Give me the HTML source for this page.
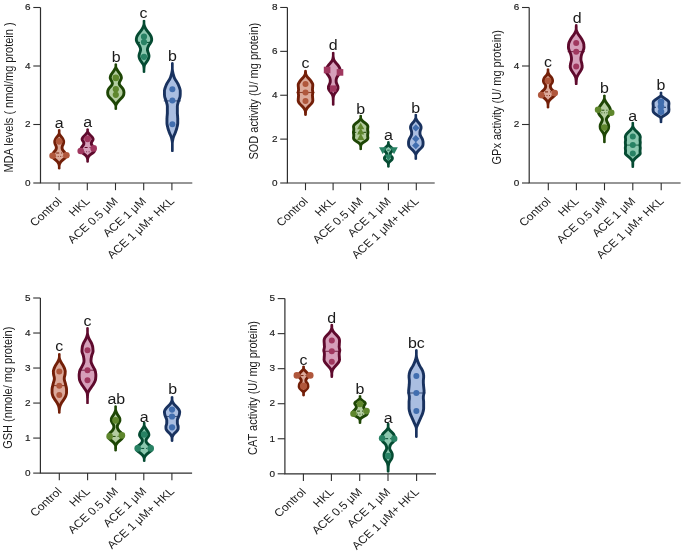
<!DOCTYPE html><html><head><meta charset="utf-8"><style>html,body{margin:0;padding:0;background:#fff;}svg{display:block;will-change:transform;}</style></head><body>
<svg width="685" height="552" viewBox="0 0 685 552" font-family='"Liberation Sans", sans-serif'>
<rect width="685" height="552" fill="#fff"/>
<g><path d="M59.2,129.0 60.4,129.5 60.5,130.0 60.5,130.5 60.5,131.0 60.5,131.5 60.5,132.0 60.5,132.5 60.5,133.0 60.7,133.5 61.0,134.0 61.3,134.5 61.7,135.0 62.1,135.5 62.5,136.0 62.9,136.5 63.3,137.0 63.6,137.4 63.9,137.9 64.2,138.4 64.4,138.9 64.6,139.4 64.8,139.9 65.0,140.4 65.1,140.9 65.1,141.4 65.1,141.9 65.1,142.4 65.0,142.9 64.9,143.4 64.8,143.9 64.6,144.4 64.4,144.9 64.2,145.4 63.9,145.9 63.7,146.4 63.6,146.9 63.5,147.4 63.5,147.9 63.6,148.4 63.8,148.9 64.1,149.4 64.5,149.9 65.0,150.4 65.4,150.9 65.8,151.4 66.1,151.9 66.4,152.4 66.7,152.9 66.9,153.3 67.1,153.8 67.2,154.3 67.3,154.8 67.4,155.3 67.4,155.8 67.4,156.3 67.4,156.8 67.2,157.3 67.0,157.8 66.7,158.3 66.4,158.8 65.9,159.3 65.3,159.8 64.7,160.3 64.1,160.8 63.5,161.3 62.9,161.8 62.4,162.3 61.9,162.8 61.6,163.3 61.3,163.8 61.0,164.3 60.8,164.8 60.7,165.3 60.6,165.8 60.5,166.3 60.5,166.8 60.5,167.3 60.5,167.8 60.5,168.3 60.5,168.8 60.1,169.3 59.2,169.5 59.2,169.5 58.3,169.3 57.9,168.8 57.9,168.3 57.9,167.8 57.9,167.3 57.9,166.8 57.9,166.3 57.8,165.8 57.7,165.3 57.6,164.8 57.4,164.3 57.1,163.8 56.8,163.3 56.5,162.8 56.0,162.3 55.5,161.8 54.9,161.3 54.3,160.8 53.7,160.3 53.1,159.8 52.5,159.3 52.0,158.8 51.7,158.3 51.4,157.8 51.2,157.3 51.0,156.8 51.0,156.3 51.0,155.8 51.0,155.3 51.1,154.8 51.2,154.3 51.3,153.8 51.5,153.3 51.7,152.9 52.0,152.4 52.3,151.9 52.6,151.4 53.0,150.9 53.4,150.4 53.9,149.9 54.3,149.4 54.6,148.9 54.8,148.4 54.9,147.9 54.9,147.4 54.8,146.9 54.7,146.4 54.5,145.9 54.2,145.4 54.0,144.9 53.8,144.4 53.6,143.9 53.5,143.4 53.4,142.9 53.3,142.4 53.3,141.9 53.3,141.4 53.3,140.9 53.4,140.4 53.6,139.9 53.8,139.4 54.0,138.9 54.2,138.4 54.5,137.9 54.8,137.4 55.1,137.0 55.5,136.5 55.9,136.0 56.3,135.5 56.7,135.0 57.1,134.5 57.4,134.0 57.7,133.5 57.9,133.0 57.9,132.5 57.9,132.0 57.9,131.5 57.9,131.0 57.9,130.5 57.9,130.0 58.0,129.5 59.2,129.0Z" fill="#731f08"/><path d="M59.2,129.0 59.2,129.5 59.2,130.0 59.2,130.5 59.2,131.0 59.2,131.5 59.2,132.0 59.2,132.5 59.2,133.0 59.2,133.5 59.2,134.0 59.2,134.5 59.2,135.0 59.2,135.5 59.2,136.0 59.2,136.5 59.6,137.0 60.0,137.4 60.4,137.9 60.8,138.4 61.1,138.9 61.4,139.4 61.7,139.9 61.9,140.4 62.1,140.9 62.2,141.4 62.2,141.9 62.2,142.4 62.0,142.9 61.9,143.4 61.7,143.9 61.4,144.4 61.2,144.9 61.0,145.4 60.9,145.9 60.7,146.4 60.7,146.9 60.6,147.4 60.6,147.9 60.7,148.4 60.7,148.9 60.9,149.4 61.1,149.9 61.3,150.4 61.6,150.9 62.0,151.4 62.4,151.9 62.8,152.4 63.2,152.9 63.6,153.3 63.9,153.8 64.2,154.3 64.3,154.8 64.4,155.3 64.5,155.8 64.5,156.3 64.3,156.8 63.8,157.3 63.2,157.8 62.5,158.3 61.9,158.8 61.3,159.3 60.8,159.8 60.3,160.3 59.8,160.8 59.4,161.3 59.2,161.8 59.2,162.3 59.2,162.8 59.2,163.3 59.2,163.8 59.2,164.3 59.2,164.8 59.2,165.3 59.2,165.8 59.2,166.3 59.2,166.8 59.2,167.3 59.2,167.8 59.2,168.3 59.2,168.8 59.2,169.3 59.2,169.5 59.2,169.5 59.2,169.3 59.2,168.8 59.2,168.3 59.2,167.8 59.2,167.3 59.2,166.8 59.2,166.3 59.2,165.8 59.2,165.3 59.2,164.8 59.2,164.3 59.2,163.8 59.2,163.3 59.2,162.8 59.2,162.3 59.2,161.8 59.0,161.3 58.6,160.8 58.1,160.3 57.6,159.8 57.1,159.3 56.5,158.8 55.9,158.3 55.2,157.8 54.6,157.3 54.1,156.8 53.9,156.3 53.9,155.8 54.0,155.3 54.1,154.8 54.2,154.3 54.5,153.8 54.8,153.3 55.2,152.9 55.6,152.4 56.0,151.9 56.4,151.4 56.8,150.9 57.1,150.4 57.3,149.9 57.5,149.4 57.7,148.9 57.7,148.4 57.8,147.9 57.8,147.4 57.7,146.9 57.7,146.4 57.5,145.9 57.4,145.4 57.2,144.9 57.0,144.4 56.7,143.9 56.5,143.4 56.4,142.9 56.2,142.4 56.2,141.9 56.2,141.4 56.3,140.9 56.5,140.4 56.7,139.9 57.0,139.4 57.3,138.9 57.6,138.4 58.0,137.9 58.4,137.4 58.8,137.0 59.2,136.5 59.2,136.0 59.2,135.5 59.2,135.0 59.2,134.5 59.2,134.0 59.2,133.5 59.2,133.0 59.2,132.5 59.2,132.0 59.2,131.5 59.2,131.0 59.2,130.5 59.2,130.0 59.2,129.5 59.2,129.0Z" fill="#dcaa9b"/><line x1="56.20" x2="62.20" y1="153" y2="153" stroke="#731f08" stroke-width="1" stroke-dasharray="3,2"/><line x1="55.20" x2="63.20" y1="156.4" y2="156.4" stroke="#731f08" stroke-width="0.8" stroke-dasharray="1,1.5"/><circle cx="59.20" cy="141.30" r="3.4" fill="#b0573c"/><circle cx="52.60" cy="155.80" r="3.3" fill="#b0573c"/><circle cx="66.40" cy="155.30" r="3.3" fill="#b0573c"/><text transform="translate(59.20,127.7) scale(1.1,1)" font-size="14.5" text-anchor="middle" fill="#1a1a1a">a</text><path d="M87.6,128.3 88.8,128.8 88.9,129.3 88.9,129.8 88.9,130.3 88.9,130.8 89.0,131.3 89.2,131.8 89.6,132.3 90.0,132.8 90.4,133.3 90.8,133.8 91.3,134.3 91.8,134.8 92.3,135.2 92.8,135.7 93.3,136.2 93.6,136.7 93.9,137.2 94.2,137.7 94.4,138.2 94.5,138.7 94.5,139.2 94.5,139.7 94.3,140.2 94.2,140.7 93.9,141.2 93.5,141.7 93.2,142.2 92.9,142.7 92.8,143.2 92.9,143.7 93.1,144.2 93.5,144.7 93.9,145.2 94.2,145.7 94.6,146.2 94.9,146.7 95.2,147.2 95.4,147.7 95.6,148.2 95.8,148.7 95.9,149.1 96.0,149.6 96.0,150.1 96.0,150.6 95.9,151.1 95.8,151.6 95.6,152.1 95.3,152.6 94.9,153.1 94.4,153.6 93.8,154.1 93.1,154.6 92.3,155.1 91.6,155.6 91.0,156.1 90.4,156.6 90.0,157.1 89.6,157.6 89.4,158.1 89.2,158.6 89.1,159.1 89.0,159.6 89.0,160.1 88.9,160.6 88.9,161.1 88.9,161.6 88.9,162.1 88.5,162.6 87.6,162.8 87.6,162.8 86.7,162.6 86.3,162.1 86.3,161.6 86.3,161.1 86.3,160.6 86.2,160.1 86.2,159.6 86.1,159.1 86.0,158.6 85.8,158.1 85.6,157.6 85.2,157.1 84.8,156.6 84.2,156.1 83.6,155.6 82.9,155.1 82.1,154.6 81.4,154.1 80.8,153.6 80.3,153.1 79.9,152.6 79.6,152.1 79.4,151.6 79.3,151.1 79.2,150.6 79.2,150.1 79.2,149.6 79.3,149.1 79.4,148.7 79.6,148.2 79.8,147.7 80.0,147.2 80.3,146.7 80.6,146.2 81.0,145.7 81.3,145.2 81.7,144.7 82.1,144.2 82.3,143.7 82.4,143.2 82.3,142.7 82.0,142.2 81.7,141.7 81.3,141.2 81.0,140.7 80.9,140.2 80.7,139.7 80.7,139.2 80.7,138.7 80.8,138.2 81.0,137.7 81.3,137.2 81.6,136.7 81.9,136.2 82.4,135.7 82.9,135.2 83.4,134.8 83.9,134.3 84.4,133.8 84.8,133.3 85.2,132.8 85.6,132.3 86.0,131.8 86.2,131.3 86.3,130.8 86.3,130.3 86.3,129.8 86.3,129.3 86.4,128.8 87.6,128.3Z" fill="#5f0a2d"/><path d="M87.6,128.3 87.6,128.8 87.6,129.3 87.6,129.8 87.6,130.3 87.6,130.8 87.6,131.3 87.6,131.8 87.6,132.3 87.6,132.8 87.6,133.3 87.6,133.8 87.6,134.3 87.8,134.8 88.3,135.2 88.7,135.7 89.2,136.2 89.7,136.7 90.2,137.2 90.7,137.7 91.1,138.2 91.5,138.7 91.6,139.2 91.4,139.7 91.0,140.2 90.7,140.7 90.4,141.2 90.2,141.7 90.0,142.2 89.9,142.7 89.9,143.2 89.9,143.7 90.0,144.2 90.1,144.7 90.3,145.2 90.6,145.7 91.0,146.2 91.3,146.7 91.7,147.2 92.1,147.7 92.4,148.2 92.7,148.7 92.9,149.1 93.0,149.6 93.1,150.1 93.1,150.6 92.8,151.1 92.2,151.6 91.6,152.1 90.8,152.6 90.1,153.1 89.5,153.6 88.9,154.1 88.3,154.6 87.9,155.1 87.6,155.6 87.6,156.1 87.6,156.6 87.6,157.1 87.6,157.6 87.6,158.1 87.6,158.6 87.6,159.1 87.6,159.6 87.6,160.1 87.6,160.6 87.6,161.1 87.6,161.6 87.6,162.1 87.6,162.6 87.6,162.8 87.6,162.8 87.6,162.6 87.6,162.1 87.6,161.6 87.6,161.1 87.6,160.6 87.6,160.1 87.6,159.6 87.6,159.1 87.6,158.6 87.6,158.1 87.6,157.6 87.6,157.1 87.6,156.6 87.6,156.1 87.6,155.6 87.3,155.1 86.9,154.6 86.3,154.1 85.7,153.6 85.1,153.1 84.4,152.6 83.6,152.1 83.0,151.6 82.4,151.1 82.1,150.6 82.1,150.1 82.2,149.6 82.3,149.1 82.5,148.7 82.8,148.2 83.1,147.7 83.5,147.2 83.9,146.7 84.2,146.2 84.6,145.7 84.9,145.2 85.1,144.7 85.2,144.2 85.3,143.7 85.3,143.2 85.3,142.7 85.2,142.2 85.0,141.7 84.8,141.2 84.5,140.7 84.2,140.2 83.8,139.7 83.6,139.2 83.7,138.7 84.1,138.2 84.5,137.7 85.0,137.2 85.5,136.7 86.0,136.2 86.5,135.7 86.9,135.2 87.4,134.8 87.6,134.3 87.6,133.8 87.6,133.3 87.6,132.8 87.6,132.3 87.6,131.8 87.6,131.3 87.6,130.8 87.6,130.3 87.6,129.8 87.6,129.3 87.6,128.8 87.6,128.3Z" fill="#d69fba"/><line x1="84.60" x2="90.60" y1="147.5" y2="147.5" stroke="#5f0a2d" stroke-width="1" stroke-dasharray="3,2"/><line x1="83.60" x2="91.60" y1="151.8" y2="151.8" stroke="#5f0a2d" stroke-width="0.8" stroke-dasharray="1,1.5"/><circle cx="87.60" cy="138.80" r="3.4" fill="#a0375f"/><circle cx="80.70" cy="151.00" r="3.3" fill="#a0375f"/><circle cx="93.70" cy="148.40" r="3.3" fill="#a0375f"/><text transform="translate(87.60,127.0) scale(1.1,1)" font-size="14.5" text-anchor="middle" fill="#1a1a1a">a</text><path d="M115.8,63.3 117.0,63.8 117.1,64.3 117.1,64.8 117.1,65.3 117.1,65.8 117.1,66.3 117.2,66.8 117.3,67.3 117.6,67.8 117.9,68.3 118.2,68.8 118.5,69.3 118.8,69.8 119.1,70.3 119.5,70.8 119.8,71.3 120.2,71.8 120.5,72.3 120.9,72.8 121.2,73.3 121.6,73.8 121.9,74.3 122.1,74.8 122.3,75.3 122.5,75.8 122.6,76.3 122.7,76.8 122.8,77.3 122.8,77.8 122.8,78.3 122.7,78.8 122.5,79.2 122.3,79.7 122.1,80.2 121.8,80.7 121.6,81.2 121.3,81.7 121.0,82.2 120.8,82.7 120.7,83.2 120.8,83.7 121.0,84.2 121.3,84.7 121.8,85.2 122.2,85.7 122.7,86.2 123.1,86.7 123.5,87.2 123.9,87.7 124.2,88.2 124.5,88.7 124.7,89.2 124.9,89.7 125.1,90.2 125.2,90.7 125.3,91.2 125.3,91.7 125.4,92.2 125.4,92.7 125.3,93.2 125.3,93.7 125.2,94.2 125.2,94.7 125.0,95.2 124.9,95.7 124.6,96.2 124.4,96.7 124.0,97.2 123.7,97.7 123.3,98.2 122.8,98.7 122.3,99.2 121.8,99.7 121.3,100.2 120.8,100.7 120.4,101.2 119.9,101.7 119.5,102.2 119.1,102.7 118.7,103.2 118.3,103.7 118.0,104.2 117.7,104.7 117.4,105.2 117.2,105.7 117.1,106.2 117.1,106.7 117.1,107.2 117.1,107.7 117.1,108.2 117.1,108.7 117.1,109.2 116.7,109.7 115.8,109.9 115.8,109.9 114.9,109.7 114.5,109.2 114.5,108.7 114.5,108.2 114.5,107.7 114.5,107.2 114.5,106.7 114.5,106.2 114.4,105.7 114.2,105.2 113.9,104.7 113.6,104.2 113.3,103.7 112.9,103.2 112.5,102.7 112.1,102.2 111.7,101.7 111.2,101.2 110.8,100.7 110.3,100.2 109.8,99.7 109.3,99.2 108.8,98.7 108.3,98.2 107.9,97.7 107.6,97.2 107.2,96.7 107.0,96.2 106.7,95.7 106.6,95.2 106.4,94.7 106.4,94.2 106.3,93.7 106.3,93.2 106.2,92.7 106.2,92.2 106.3,91.7 106.3,91.2 106.4,90.7 106.5,90.2 106.7,89.7 106.9,89.2 107.1,88.7 107.4,88.2 107.7,87.7 108.1,87.2 108.5,86.7 108.9,86.2 109.4,85.7 109.8,85.2 110.3,84.7 110.6,84.2 110.8,83.7 110.9,83.2 110.8,82.7 110.6,82.2 110.3,81.7 110.0,81.2 109.8,80.7 109.5,80.2 109.3,79.7 109.1,79.2 108.9,78.8 108.8,78.3 108.8,77.8 108.8,77.3 108.9,76.8 109.0,76.3 109.1,75.8 109.3,75.3 109.5,74.8 109.7,74.3 110.0,73.8 110.4,73.3 110.7,72.8 111.1,72.3 111.4,71.8 111.8,71.3 112.1,70.8 112.5,70.3 112.8,69.8 113.1,69.3 113.4,68.8 113.7,68.3 114.0,67.8 114.3,67.3 114.4,66.8 114.5,66.3 114.5,65.8 114.5,65.3 114.5,64.8 114.5,64.3 114.6,63.8 115.8,63.3Z" fill="#1e4605"/><path d="M115.8,63.3 115.8,63.8 115.8,64.3 115.8,64.8 115.8,65.3 115.8,65.8 115.8,66.3 115.8,66.8 115.8,67.3 115.8,67.8 115.8,68.3 115.8,68.8 115.8,69.3 115.8,69.8 115.8,70.3 116.0,70.8 116.3,71.3 116.7,71.8 117.0,72.3 117.3,72.8 117.7,73.3 118.1,73.8 118.4,74.3 118.8,74.8 119.1,75.3 119.4,75.8 119.6,76.3 119.7,76.8 119.9,77.3 119.9,77.8 119.8,78.3 119.6,78.8 119.4,79.2 119.1,79.7 118.8,80.2 118.5,80.7 118.3,81.2 118.1,81.7 118.0,82.2 117.9,82.7 117.8,83.2 117.8,83.7 117.9,84.2 118.1,84.7 118.2,85.2 118.5,85.7 118.8,86.2 119.2,86.7 119.7,87.2 120.1,87.7 120.6,88.2 121.0,88.7 121.4,89.2 121.7,89.7 122.0,90.2 122.2,90.7 122.3,91.2 122.4,91.7 122.5,92.2 122.5,92.7 122.4,93.2 122.4,93.7 122.3,94.2 122.1,94.7 121.9,95.2 121.5,95.7 121.2,96.2 120.7,96.7 120.2,97.2 119.7,97.7 119.2,98.2 118.7,98.7 118.3,99.2 117.8,99.7 117.4,100.2 116.9,100.7 116.5,101.2 116.2,101.7 115.8,102.2 115.8,102.7 115.8,103.2 115.8,103.7 115.8,104.2 115.8,104.7 115.8,105.2 115.8,105.7 115.8,106.2 115.8,106.7 115.8,107.2 115.8,107.7 115.8,108.2 115.8,108.7 115.8,109.2 115.8,109.7 115.8,109.9 115.8,109.9 115.8,109.7 115.8,109.2 115.8,108.7 115.8,108.2 115.8,107.7 115.8,107.2 115.8,106.7 115.8,106.2 115.8,105.7 115.8,105.2 115.8,104.7 115.8,104.2 115.8,103.7 115.8,103.2 115.8,102.7 115.8,102.2 115.4,101.7 115.1,101.2 114.7,100.7 114.2,100.2 113.8,99.7 113.3,99.2 112.9,98.7 112.4,98.2 111.9,97.7 111.4,97.2 110.9,96.7 110.4,96.2 110.1,95.7 109.7,95.2 109.5,94.7 109.3,94.2 109.2,93.7 109.2,93.2 109.1,92.7 109.1,92.2 109.2,91.7 109.3,91.2 109.4,90.7 109.6,90.2 109.9,89.7 110.2,89.2 110.6,88.7 111.0,88.2 111.5,87.7 111.9,87.2 112.4,86.7 112.8,86.2 113.1,85.7 113.4,85.2 113.5,84.7 113.7,84.2 113.8,83.7 113.8,83.2 113.7,82.7 113.6,82.2 113.5,81.7 113.3,81.2 113.1,80.7 112.8,80.2 112.5,79.7 112.2,79.2 112.0,78.8 111.8,78.3 111.7,77.8 111.7,77.3 111.9,76.8 112.0,76.3 112.2,75.8 112.5,75.3 112.8,74.8 113.2,74.3 113.5,73.8 113.9,73.3 114.3,72.8 114.6,72.3 114.9,71.8 115.3,71.3 115.6,70.8 115.8,70.3 115.8,69.8 115.8,69.3 115.8,68.8 115.8,68.3 115.8,67.8 115.8,67.3 115.8,66.8 115.8,66.3 115.8,65.8 115.8,65.3 115.8,64.8 115.8,64.3 115.8,63.8 115.8,63.3Z" fill="#b4cda0"/><circle cx="115.80" cy="77.90" r="3.3" fill="#5f872d"/><circle cx="115.80" cy="89.20" r="3.1" fill="#5f872d"/><circle cx="115.80" cy="94.80" r="3.1" fill="#5f872d"/><text transform="translate(116.30,61.8) scale(1.1,1)" font-size="14.5" text-anchor="middle" fill="#1a1a1a">b</text><path d="M144.0,19.8 145.2,20.3 145.3,20.8 145.3,21.3 145.3,21.8 145.3,22.3 145.3,22.8 145.3,23.3 145.4,23.8 145.4,24.3 145.6,24.8 145.7,25.3 145.9,25.8 146.1,26.3 146.3,26.8 146.6,27.3 146.8,27.8 147.1,28.3 147.4,28.8 147.8,29.3 148.1,29.8 148.5,30.3 148.9,30.8 149.3,31.3 149.7,31.8 150.1,32.3 150.5,32.8 150.9,33.3 151.2,33.8 151.5,34.3 151.8,34.8 152.1,35.3 152.3,35.8 152.5,36.3 152.7,36.8 152.8,37.3 152.9,37.8 153.0,38.3 153.1,38.8 153.1,39.3 153.1,39.8 153.1,40.3 153.0,40.8 152.9,41.3 152.7,41.8 152.5,42.3 152.3,42.8 152.0,43.3 151.7,43.8 151.4,44.3 151.0,44.8 150.7,45.3 150.3,45.8 150.0,46.3 149.8,46.8 149.5,47.3 149.3,47.8 149.1,48.3 149.0,48.8 148.9,49.3 148.9,49.8 149.0,50.3 149.1,50.8 149.2,51.3 149.4,51.8 149.6,52.3 149.8,52.8 149.9,53.3 150.1,53.8 150.2,54.3 150.3,54.8 150.4,55.3 150.4,55.8 150.4,56.3 150.4,56.8 150.3,57.3 150.2,57.8 150.1,58.3 149.9,58.8 149.8,59.3 149.5,59.8 149.3,60.3 149.0,60.8 148.7,61.3 148.4,61.8 148.1,62.3 147.7,62.8 147.4,63.3 147.0,63.8 146.7,64.3 146.3,64.8 146.0,65.3 145.8,65.8 145.7,66.3 145.6,66.8 145.5,67.3 145.5,67.8 145.4,68.3 145.4,68.8 145.4,69.3 145.3,69.8 145.3,70.3 145.3,70.8 145.3,71.3 145.3,71.8 145.3,72.3 144.9,72.8 144.0,73.0 144.0,73.0 143.1,72.8 142.7,72.3 142.7,71.8 142.7,71.3 142.7,70.8 142.7,70.3 142.7,69.8 142.6,69.3 142.6,68.8 142.6,68.3 142.5,67.8 142.5,67.3 142.4,66.8 142.3,66.3 142.2,65.8 142.0,65.3 141.7,64.8 141.3,64.3 141.0,63.8 140.6,63.3 140.3,62.8 139.9,62.3 139.6,61.8 139.3,61.3 139.0,60.8 138.7,60.3 138.5,59.8 138.2,59.3 138.1,58.8 137.9,58.3 137.8,57.8 137.7,57.3 137.6,56.8 137.6,56.3 137.6,55.8 137.6,55.3 137.7,54.8 137.8,54.3 137.9,53.8 138.1,53.3 138.2,52.8 138.4,52.3 138.6,51.8 138.8,51.3 138.9,50.8 139.0,50.3 139.1,49.8 139.1,49.3 139.0,48.8 138.9,48.3 138.7,47.8 138.5,47.3 138.2,46.8 138.0,46.3 137.7,45.8 137.3,45.3 137.0,44.8 136.6,44.3 136.3,43.8 136.0,43.3 135.7,42.8 135.5,42.3 135.3,41.8 135.1,41.3 135.0,40.8 134.9,40.3 134.9,39.8 134.9,39.3 134.9,38.8 135.0,38.3 135.1,37.8 135.2,37.3 135.3,36.8 135.5,36.3 135.7,35.8 135.9,35.3 136.2,34.8 136.5,34.3 136.8,33.8 137.1,33.3 137.5,32.8 137.9,32.3 138.3,31.8 138.7,31.3 139.1,30.8 139.5,30.3 139.9,29.8 140.2,29.3 140.6,28.8 140.9,28.3 141.2,27.8 141.4,27.3 141.7,26.8 141.9,26.3 142.1,25.8 142.3,25.3 142.4,24.8 142.6,24.3 142.6,23.8 142.7,23.3 142.7,22.8 142.7,22.3 142.7,21.8 142.7,21.3 142.7,20.8 142.8,20.3 144.0,19.8Z" fill="#054b32"/><path d="M144.0,19.8 144.0,20.3 144.0,20.8 144.0,21.3 144.0,21.8 144.0,22.3 144.0,22.8 144.0,23.3 144.0,23.8 144.0,24.3 144.0,24.8 144.0,25.3 144.0,25.8 144.0,26.3 144.0,26.8 144.0,27.3 144.0,27.8 144.0,28.3 144.1,28.8 144.3,29.3 144.6,29.8 144.9,30.3 145.3,30.8 145.6,31.3 146.0,31.8 146.4,32.3 146.8,32.8 147.2,33.3 147.6,33.8 148.0,34.3 148.4,34.8 148.7,35.3 149.1,35.8 149.3,36.3 149.6,36.8 149.8,37.3 150.0,37.8 150.1,38.3 150.2,38.8 150.2,39.3 150.2,39.8 150.2,40.3 150.0,40.8 149.8,41.3 149.5,41.8 149.2,42.3 148.9,42.8 148.5,43.3 148.2,43.8 147.8,44.3 147.5,44.8 147.3,45.3 147.0,45.8 146.8,46.3 146.6,46.8 146.4,47.3 146.3,47.8 146.1,48.3 146.1,48.8 146.0,49.3 146.0,49.8 146.0,50.3 146.1,50.8 146.2,51.3 146.4,51.8 146.5,52.3 146.7,52.8 146.9,53.3 147.1,53.8 147.2,54.3 147.3,54.8 147.4,55.3 147.5,55.8 147.5,56.3 147.5,56.8 147.4,57.3 147.2,57.8 147.0,58.3 146.8,58.8 146.6,59.3 146.2,59.8 145.9,60.3 145.6,60.8 145.2,61.3 144.9,61.8 144.5,62.3 144.2,62.8 144.0,63.3 144.0,63.8 144.0,64.3 144.0,64.8 144.0,65.3 144.0,65.8 144.0,66.3 144.0,66.8 144.0,67.3 144.0,67.8 144.0,68.3 144.0,68.8 144.0,69.3 144.0,69.8 144.0,70.3 144.0,70.8 144.0,71.3 144.0,71.8 144.0,72.3 144.0,72.8 144.0,73.0 144.0,73.0 144.0,72.8 144.0,72.3 144.0,71.8 144.0,71.3 144.0,70.8 144.0,70.3 144.0,69.8 144.0,69.3 144.0,68.8 144.0,68.3 144.0,67.8 144.0,67.3 144.0,66.8 144.0,66.3 144.0,65.8 144.0,65.3 144.0,64.8 144.0,64.3 144.0,63.8 144.0,63.3 143.8,62.8 143.5,62.3 143.1,61.8 142.8,61.3 142.4,60.8 142.1,60.3 141.8,59.8 141.4,59.3 141.2,58.8 141.0,58.3 140.8,57.8 140.6,57.3 140.5,56.8 140.5,56.3 140.5,55.8 140.6,55.3 140.7,54.8 140.8,54.3 140.9,53.8 141.1,53.3 141.3,52.8 141.5,52.3 141.6,51.8 141.8,51.3 141.9,50.8 142.0,50.3 142.0,49.8 142.0,49.3 141.9,48.8 141.9,48.3 141.7,47.8 141.6,47.3 141.4,46.8 141.2,46.3 141.0,45.8 140.7,45.3 140.5,44.8 140.2,44.3 139.8,43.8 139.5,43.3 139.1,42.8 138.8,42.3 138.5,41.8 138.2,41.3 138.0,40.8 137.8,40.3 137.8,39.8 137.8,39.3 137.8,38.8 137.9,38.3 138.0,37.8 138.2,37.3 138.4,36.8 138.7,36.3 138.9,35.8 139.3,35.3 139.6,34.8 140.0,34.3 140.4,33.8 140.8,33.3 141.2,32.8 141.6,32.3 142.0,31.8 142.4,31.3 142.7,30.8 143.1,30.3 143.4,29.8 143.7,29.3 143.9,28.8 144.0,28.3 144.0,27.8 144.0,27.3 144.0,26.8 144.0,26.3 144.0,25.8 144.0,25.3 144.0,24.8 144.0,24.3 144.0,23.8 144.0,23.3 144.0,22.8 144.0,22.3 144.0,21.8 144.0,21.3 144.0,20.8 144.0,20.3 144.0,19.8Z" fill="#8cc8af"/><line x1="137.00" x2="151.00" y1="42.4" y2="42.4" stroke="#054b32" stroke-width="1" stroke-dasharray="3,2"/><circle cx="144.00" cy="36.70" r="3.1" fill="#288264"/><circle cx="144.00" cy="42.10" r="3.1" fill="#288264"/><circle cx="144.00" cy="56.80" r="3.1" fill="#288264"/><text transform="translate(143.60,18.4) scale(1.1,1)" font-size="14.5" text-anchor="middle" fill="#1a1a1a">c</text><path d="M172.3,61.9 173.5,62.4 173.6,62.9 173.7,63.4 173.7,63.9 173.7,64.4 173.7,64.9 173.7,65.4 173.7,65.9 173.7,66.4 173.7,66.9 173.7,67.4 173.7,67.9 173.7,68.4 173.7,68.9 173.8,69.4 173.8,69.9 173.9,70.4 174.0,70.9 174.1,71.4 174.2,71.9 174.3,72.4 174.4,72.9 174.5,73.4 174.7,73.9 174.8,74.4 175.0,74.9 175.1,75.4 175.3,75.9 175.4,76.4 175.6,76.9 175.8,77.4 176.1,77.9 176.3,78.4 176.6,78.9 176.9,79.4 177.3,79.9 177.6,80.4 177.9,80.9 178.2,81.4 178.5,81.9 178.8,82.4 179.1,82.9 179.4,83.4 179.6,83.9 179.8,84.4 180.0,84.9 180.2,85.4 180.4,85.9 180.6,86.4 180.8,86.9 181.0,87.4 181.1,87.9 181.3,88.4 181.4,88.9 181.5,89.4 181.6,89.9 181.7,90.4 181.7,90.9 181.7,91.4 181.7,91.9 181.7,92.4 181.7,92.9 181.7,93.4 181.7,93.9 181.7,94.4 181.6,94.9 181.6,95.4 181.6,95.9 181.5,96.4 181.4,96.9 181.3,97.4 181.2,97.9 181.0,98.4 180.9,98.9 180.7,99.4 180.5,99.9 180.3,100.4 180.1,100.9 179.9,101.4 179.8,101.9 179.6,102.4 179.5,102.9 179.4,103.4 179.2,103.9 179.1,104.4 179.0,104.9 178.9,105.4 178.8,105.9 178.8,106.4 178.8,106.9 178.8,107.4 178.8,107.9 178.8,108.4 178.8,108.9 178.8,109.4 178.8,109.9 178.8,110.4 178.8,110.9 178.8,111.4 178.8,111.9 178.8,112.4 178.8,112.9 178.8,113.4 178.9,113.9 178.9,114.4 178.9,114.9 179.0,115.4 179.0,115.9 179.1,116.4 179.1,116.9 179.1,117.4 179.2,117.9 179.2,118.4 179.2,118.9 179.2,119.4 179.2,119.9 179.2,120.4 179.2,120.9 179.2,121.4 179.2,121.9 179.2,122.4 179.2,122.9 179.2,123.4 179.1,123.9 179.1,124.4 179.0,124.9 178.9,125.4 178.8,125.9 178.7,126.4 178.6,126.9 178.4,127.4 178.3,127.9 178.2,128.4 178.1,128.9 177.9,129.4 177.8,129.9 177.6,130.4 177.4,130.9 177.2,131.4 177.1,131.9 176.9,132.4 176.7,132.9 176.5,133.4 176.3,133.9 176.1,134.4 175.9,134.9 175.6,135.4 175.4,135.9 175.2,136.4 175.0,136.9 174.8,137.4 174.7,137.9 174.5,138.4 174.4,138.9 174.3,139.4 174.2,139.9 174.1,140.4 174.0,140.9 173.9,141.4 173.8,141.9 173.8,142.4 173.7,142.9 173.7,143.4 173.7,143.9 173.7,144.4 173.7,144.9 173.7,145.4 173.7,145.9 173.7,146.4 173.7,146.9 173.7,147.4 173.7,147.9 173.7,148.4 173.7,148.9 173.7,149.4 173.7,149.9 173.7,150.4 173.6,150.9 173.6,151.4 173.2,151.9 172.3,152.1 172.3,152.1 171.5,151.9 171.1,151.4 171.1,150.9 171.0,150.4 171.0,149.9 171.0,149.4 171.0,148.9 171.0,148.4 171.0,147.9 171.0,147.4 171.0,146.9 171.0,146.4 171.0,145.9 171.0,145.4 171.0,144.9 171.0,144.4 171.0,143.9 171.0,143.4 171.0,142.9 170.9,142.4 170.9,141.9 170.8,141.4 170.7,140.9 170.6,140.4 170.5,139.9 170.4,139.4 170.3,138.9 170.2,138.4 170.0,137.9 169.9,137.4 169.7,136.9 169.5,136.4 169.3,135.9 169.1,135.4 168.8,134.9 168.6,134.4 168.4,133.9 168.2,133.4 168.0,132.9 167.8,132.4 167.6,131.9 167.5,131.4 167.3,130.9 167.1,130.4 166.9,129.9 166.8,129.4 166.6,128.9 166.5,128.4 166.4,127.9 166.3,127.4 166.1,126.9 166.0,126.4 165.9,125.9 165.8,125.4 165.7,124.9 165.6,124.4 165.6,123.9 165.5,123.4 165.5,122.9 165.5,122.4 165.5,121.9 165.5,121.4 165.5,120.9 165.5,120.4 165.5,119.9 165.5,119.4 165.5,118.9 165.5,118.4 165.5,117.9 165.6,117.4 165.6,116.9 165.6,116.4 165.7,115.9 165.7,115.4 165.8,114.9 165.8,114.4 165.8,113.9 165.9,113.4 165.9,112.9 165.9,112.4 165.9,111.9 165.9,111.4 165.9,110.9 165.9,110.4 165.9,109.9 165.9,109.4 165.9,108.9 165.9,108.4 165.9,107.9 165.9,107.4 165.9,106.9 165.9,106.4 165.9,105.9 165.8,105.4 165.7,104.9 165.6,104.4 165.5,103.9 165.3,103.4 165.2,102.9 165.1,102.4 164.9,101.9 164.8,101.4 164.6,100.9 164.4,100.4 164.2,99.9 164.0,99.4 163.8,98.9 163.7,98.4 163.5,97.9 163.4,97.4 163.3,96.9 163.2,96.4 163.1,95.9 163.1,95.4 163.1,94.9 163.0,94.4 163.0,93.9 163.0,93.4 163.0,92.9 163.0,92.4 163.0,91.9 163.0,91.4 163.0,90.9 163.0,90.4 163.1,89.9 163.2,89.4 163.3,88.9 163.4,88.4 163.6,87.9 163.7,87.4 163.9,86.9 164.1,86.4 164.3,85.9 164.5,85.4 164.7,84.9 164.9,84.4 165.1,83.9 165.3,83.4 165.6,82.9 165.9,82.4 166.2,81.9 166.5,81.4 166.8,80.9 167.1,80.4 167.4,79.9 167.8,79.4 168.1,78.9 168.4,78.4 168.6,77.9 168.9,77.4 169.1,76.9 169.3,76.4 169.4,75.9 169.6,75.4 169.7,74.9 169.9,74.4 170.0,73.9 170.2,73.4 170.3,72.9 170.4,72.4 170.5,71.9 170.6,71.4 170.7,70.9 170.8,70.4 170.9,69.9 170.9,69.4 171.0,68.9 171.0,68.4 171.0,67.9 171.0,67.4 171.0,66.9 171.0,66.4 171.0,65.9 171.0,65.4 171.0,64.9 171.0,64.4 171.0,63.9 171.0,63.4 171.1,62.9 171.2,62.4 172.3,61.9Z" fill="#19325f"/><path d="M172.3,61.9 172.3,62.4 172.3,62.9 172.3,63.4 172.3,63.9 172.3,64.4 172.3,64.9 172.3,65.4 172.3,65.9 172.3,66.4 172.3,66.9 172.3,67.4 172.3,67.9 172.3,68.4 172.3,68.9 172.3,69.4 172.3,69.9 172.3,70.4 172.3,70.9 172.3,71.4 172.3,71.9 172.3,72.4 172.3,72.9 172.3,73.4 172.3,73.9 172.3,74.4 172.3,74.9 172.3,75.4 172.3,75.9 172.4,76.4 172.5,76.9 172.7,77.4 172.9,77.9 173.1,78.4 173.3,78.9 173.6,79.4 173.8,79.9 174.1,80.4 174.5,80.9 174.8,81.4 175.1,81.9 175.5,82.4 175.8,82.9 176.1,83.4 176.3,83.9 176.6,84.4 176.9,84.9 177.1,85.4 177.3,85.9 177.5,86.4 177.7,86.9 177.9,87.4 178.1,87.9 178.2,88.4 178.4,88.9 178.5,89.4 178.7,89.9 178.8,90.4 178.8,90.9 178.8,91.4 178.8,91.9 178.8,92.4 178.8,92.9 178.8,93.4 178.8,93.9 178.8,94.4 178.7,94.9 178.7,95.4 178.7,95.9 178.6,96.4 178.5,96.9 178.3,97.4 178.1,97.9 177.9,98.4 177.7,98.9 177.6,99.4 177.4,99.9 177.2,100.4 177.1,100.9 176.9,101.4 176.8,101.9 176.6,102.4 176.5,102.9 176.4,103.4 176.2,103.9 176.1,104.4 176.1,104.9 176.0,105.4 175.9,105.9 175.9,106.4 175.9,106.9 175.9,107.4 175.9,107.9 175.9,108.4 175.9,108.9 175.9,109.4 175.9,109.9 175.9,110.4 175.9,110.9 175.9,111.4 175.9,111.9 175.9,112.4 175.9,112.9 175.9,113.4 175.9,113.9 176.0,114.4 176.0,114.9 176.1,115.4 176.1,115.9 176.2,116.4 176.2,116.9 176.2,117.4 176.3,117.9 176.3,118.4 176.3,118.9 176.3,119.4 176.3,119.9 176.3,120.4 176.3,120.9 176.3,121.4 176.3,121.9 176.3,122.4 176.3,122.9 176.3,123.4 176.2,123.9 176.1,124.4 176.0,124.9 175.9,125.4 175.8,125.9 175.7,126.4 175.6,126.9 175.5,127.4 175.3,127.9 175.2,128.4 175.0,128.9 174.9,129.4 174.7,129.9 174.5,130.4 174.3,130.9 174.2,131.4 174.0,131.9 173.8,132.4 173.6,132.9 173.4,133.4 173.1,133.9 172.9,134.4 172.7,134.9 172.5,135.4 172.3,135.9 172.3,136.4 172.3,136.9 172.3,137.4 172.3,137.9 172.3,138.4 172.3,138.9 172.3,139.4 172.3,139.9 172.3,140.4 172.3,140.9 172.3,141.4 172.3,141.9 172.3,142.4 172.3,142.9 172.3,143.4 172.3,143.9 172.3,144.4 172.3,144.9 172.3,145.4 172.3,145.9 172.3,146.4 172.3,146.9 172.3,147.4 172.3,147.9 172.3,148.4 172.3,148.9 172.3,149.4 172.3,149.9 172.3,150.4 172.3,150.9 172.3,151.4 172.3,151.9 172.3,152.1 172.3,152.1 172.3,151.9 172.3,151.4 172.3,150.9 172.3,150.4 172.3,149.9 172.3,149.4 172.3,148.9 172.3,148.4 172.3,147.9 172.3,147.4 172.3,146.9 172.3,146.4 172.3,145.9 172.3,145.4 172.3,144.9 172.3,144.4 172.3,143.9 172.3,143.4 172.3,142.9 172.3,142.4 172.3,141.9 172.3,141.4 172.3,140.9 172.3,140.4 172.3,139.9 172.3,139.4 172.3,138.9 172.3,138.4 172.3,137.9 172.3,137.4 172.3,136.9 172.3,136.4 172.3,135.9 172.2,135.4 172.0,134.9 171.8,134.4 171.6,133.9 171.3,133.4 171.1,132.9 170.9,132.4 170.7,131.9 170.5,131.4 170.4,130.9 170.2,130.4 170.0,129.9 169.8,129.4 169.7,128.9 169.5,128.4 169.4,127.9 169.2,127.4 169.1,126.9 169.0,126.4 168.9,125.9 168.8,125.4 168.7,124.9 168.6,124.4 168.5,123.9 168.4,123.4 168.4,122.9 168.4,122.4 168.4,121.9 168.4,121.4 168.4,120.9 168.4,120.4 168.4,119.9 168.4,119.4 168.4,118.9 168.4,118.4 168.4,117.9 168.5,117.4 168.5,116.9 168.5,116.4 168.6,115.9 168.6,115.4 168.7,114.9 168.7,114.4 168.8,113.9 168.8,113.4 168.8,112.9 168.8,112.4 168.8,111.9 168.8,111.4 168.8,110.9 168.8,110.4 168.8,109.9 168.8,109.4 168.8,108.9 168.8,108.4 168.8,107.9 168.8,107.4 168.8,106.9 168.8,106.4 168.8,105.9 168.7,105.4 168.6,104.9 168.6,104.4 168.5,103.9 168.3,103.4 168.2,102.9 168.1,102.4 167.9,101.9 167.8,101.4 167.6,100.9 167.5,100.4 167.3,99.9 167.1,99.4 167.0,98.9 166.8,98.4 166.6,97.9 166.4,97.4 166.2,96.9 166.1,96.4 166.0,95.9 166.0,95.4 166.0,94.9 165.9,94.4 165.9,93.9 165.9,93.4 165.9,92.9 165.9,92.4 165.9,91.9 165.9,91.4 165.9,90.9 165.9,90.4 166.0,89.9 166.2,89.4 166.3,88.9 166.5,88.4 166.6,87.9 166.8,87.4 167.0,86.9 167.2,86.4 167.4,85.9 167.6,85.4 167.8,84.9 168.1,84.4 168.4,83.9 168.6,83.4 168.9,82.9 169.2,82.4 169.6,81.9 169.9,81.4 170.2,80.9 170.6,80.4 170.9,79.9 171.1,79.4 171.4,78.9 171.6,78.4 171.8,77.9 172.0,77.4 172.2,76.9 172.3,76.4 172.3,75.9 172.3,75.4 172.3,74.9 172.3,74.4 172.3,73.9 172.3,73.4 172.3,72.9 172.3,72.4 172.3,71.9 172.3,71.4 172.3,70.9 172.3,70.4 172.3,69.9 172.3,69.4 172.3,68.9 172.3,68.4 172.3,67.9 172.3,67.4 172.3,66.9 172.3,66.4 172.3,65.9 172.3,65.4 172.3,64.9 172.3,64.4 172.3,63.9 172.3,63.4 172.3,62.9 172.3,62.4 172.3,61.9Z" fill="#aabee1"/><line x1="163.75" x2="180.95" y1="100.9" y2="100.9" stroke="#19325f" stroke-width="1.1" stroke-opacity="0.75"/><circle cx="172.35" cy="89.20" r="3.0" fill="#416eaf"/><circle cx="172.35" cy="100.60" r="3.0" fill="#416eaf"/><circle cx="172.35" cy="124.30" r="3.0" fill="#416eaf"/><text transform="translate(172.35,61.0) scale(1.1,1)" font-size="14.5" text-anchor="middle" fill="#1a1a1a">b</text><path d="M40.5,7.5 V183 H192.3" fill="none" stroke="#2e2e2e" stroke-width="1.2"/><line x1="33.3" x2="40.5" y1="183.00" y2="183.00" stroke="#2e2e2e" stroke-width="1.1"/><text transform="translate(30.60,185.75) scale(1.12,1)" font-size="8.9" text-anchor="end" fill="#1a1a1a" stroke="#1a1a1a" stroke-width="0.15">0</text><line x1="33.3" x2="40.5" y1="124.50" y2="124.50" stroke="#2e2e2e" stroke-width="1.1"/><text transform="translate(30.60,127.25) scale(1.12,1)" font-size="8.9" text-anchor="end" fill="#1a1a1a" stroke="#1a1a1a" stroke-width="0.15">2</text><line x1="33.3" x2="40.5" y1="66.00" y2="66.00" stroke="#2e2e2e" stroke-width="1.1"/><text transform="translate(30.60,68.75) scale(1.12,1)" font-size="8.9" text-anchor="end" fill="#1a1a1a" stroke="#1a1a1a" stroke-width="0.15">4</text><line x1="33.3" x2="40.5" y1="7.50" y2="7.50" stroke="#2e2e2e" stroke-width="1.1"/><text transform="translate(30.60,10.25) scale(1.12,1)" font-size="8.9" text-anchor="end" fill="#1a1a1a" stroke="#1a1a1a" stroke-width="0.15">6</text><line x1="59.1" x2="59.1" y1="183" y2="190.2" stroke="#2e2e2e" stroke-width="1.1"/><text transform="translate(62.30,202.00) scale(1.1,1) rotate(-45)" font-size="11.0" text-anchor="end" fill="#1a1a1a">Control</text><line x1="87.3" x2="87.3" y1="183" y2="190.2" stroke="#2e2e2e" stroke-width="1.1"/><text transform="translate(90.50,202.00) scale(1.1,1) rotate(-45)" font-size="11.0" text-anchor="end" fill="#1a1a1a">HKL</text><line x1="115.5" x2="115.5" y1="183" y2="190.2" stroke="#2e2e2e" stroke-width="1.1"/><text transform="translate(118.70,202.00) scale(1.1,1) rotate(-45)" font-size="11.0" text-anchor="end" fill="#1a1a1a">ACE 0.5 μM</text><line x1="143.7" x2="143.7" y1="183" y2="190.2" stroke="#2e2e2e" stroke-width="1.1"/><text transform="translate(146.90,202.00) scale(1.1,1) rotate(-45)" font-size="11.0" text-anchor="end" fill="#1a1a1a">ACE 1 μM</text><line x1="171.9" x2="171.9" y1="183" y2="190.2" stroke="#2e2e2e" stroke-width="1.1"/><text transform="translate(175.10,202.00) scale(1.1,1) rotate(-45)" font-size="11.0" text-anchor="end" fill="#1a1a1a">ACE 1 μM+ HKL</text><text transform="translate(13.3,97.5) scale(1.1,1) rotate(-90)" font-size="11.0" text-anchor="middle" fill="#1a1a1a">MDA levels ( nmol/mg protein )</text></g>
<g><path d="M305.5,69.8 306.7,70.3 306.8,70.8 306.9,71.3 306.9,71.8 307.0,72.3 307.0,72.8 307.0,73.3 307.2,73.8 307.4,74.3 307.6,74.8 307.9,75.3 308.3,75.8 308.6,76.3 309.1,76.8 309.6,77.3 310.1,77.8 310.5,78.3 311.0,78.8 311.4,79.3 311.8,79.8 312.2,80.3 312.5,80.8 312.8,81.3 313.1,81.7 313.4,82.2 313.7,82.7 313.9,83.2 314.1,83.7 314.2,84.2 314.2,84.7 314.2,85.2 314.2,85.7 314.2,86.2 314.1,86.7 314.1,87.2 314.0,87.7 314.0,88.2 314.0,88.7 313.9,89.2 313.9,89.7 314.0,90.2 314.0,90.7 314.1,91.2 314.2,91.7 314.2,92.2 314.2,92.7 314.2,93.2 314.1,93.7 314.0,94.2 314.0,94.7 313.9,95.2 313.9,95.7 314.0,96.2 314.0,96.7 314.0,97.2 314.1,97.7 314.1,98.2 314.2,98.7 314.2,99.2 314.2,99.7 314.3,100.2 314.2,100.7 314.2,101.2 314.0,101.7 313.9,102.2 313.7,102.7 313.4,103.2 313.1,103.7 312.8,104.2 312.4,104.6 312.0,105.1 311.5,105.6 311.0,106.1 310.6,106.6 310.1,107.1 309.6,107.6 309.1,108.1 308.7,108.6 308.3,109.1 308.0,109.6 307.7,110.1 307.4,110.6 307.2,111.1 307.0,111.6 307.0,112.1 307.0,112.6 306.9,113.1 306.9,113.6 306.9,114.1 306.9,114.6 306.8,115.1 306.7,115.6 305.5,116.1 305.5,116.1 304.3,115.6 304.2,115.1 304.1,114.6 304.1,114.1 304.1,113.6 304.1,113.1 304.0,112.6 304.0,112.1 304.0,111.6 303.8,111.1 303.6,110.6 303.3,110.1 303.0,109.6 302.7,109.1 302.3,108.6 301.9,108.1 301.4,107.6 300.9,107.1 300.4,106.6 300.0,106.1 299.5,105.6 299.0,105.1 298.6,104.6 298.2,104.2 297.9,103.7 297.6,103.2 297.3,102.7 297.1,102.2 297.0,101.7 296.8,101.2 296.8,100.7 296.7,100.2 296.8,99.7 296.8,99.2 296.8,98.7 296.9,98.2 296.9,97.7 297.0,97.2 297.0,96.7 297.0,96.2 297.1,95.7 297.1,95.2 297.0,94.7 297.0,94.2 296.9,93.7 296.8,93.2 296.8,92.7 296.8,92.2 296.8,91.7 296.9,91.2 297.0,90.7 297.0,90.2 297.1,89.7 297.1,89.2 297.0,88.7 297.0,88.2 297.0,87.7 296.9,87.2 296.9,86.7 296.8,86.2 296.8,85.7 296.8,85.2 296.8,84.7 296.8,84.2 296.9,83.7 297.1,83.2 297.3,82.7 297.6,82.2 297.9,81.7 298.2,81.3 298.5,80.8 298.8,80.3 299.2,79.8 299.6,79.3 300.0,78.8 300.5,78.3 300.9,77.8 301.4,77.3 301.9,76.8 302.4,76.3 302.7,75.8 303.1,75.3 303.4,74.8 303.6,74.3 303.8,73.8 304.0,73.3 304.0,72.8 304.0,72.3 304.1,71.8 304.1,71.3 304.2,70.8 304.3,70.3 305.5,69.8Z" fill="#731f08"/><path d="M305.5,69.8 305.5,70.3 305.5,70.8 305.5,71.3 305.5,71.8 305.5,72.3 305.5,72.8 305.5,73.3 305.5,73.8 305.5,74.3 305.5,74.8 305.5,75.3 305.5,75.8 305.5,76.3 305.5,76.8 305.8,77.3 306.1,77.8 306.5,78.3 307.0,78.8 307.4,79.3 307.9,79.8 308.4,80.3 308.9,80.8 309.3,81.3 309.7,81.7 310.0,82.2 310.3,82.7 310.6,83.2 310.9,83.7 311.2,84.2 311.3,84.7 311.3,85.2 311.3,85.7 311.3,86.2 311.2,86.7 311.2,87.2 311.1,87.7 311.1,88.2 311.1,88.7 311.0,89.2 311.0,89.7 311.1,90.2 311.1,90.7 311.2,91.2 311.3,91.7 311.3,92.2 311.3,92.7 311.3,93.2 311.2,93.7 311.1,94.2 311.1,94.7 311.0,95.2 311.0,95.7 311.1,96.2 311.1,96.7 311.1,97.2 311.2,97.7 311.2,98.2 311.3,98.7 311.3,99.2 311.3,99.7 311.4,100.2 311.3,100.7 311.2,101.2 310.9,101.7 310.6,102.2 310.3,102.7 309.9,103.2 309.4,103.7 308.9,104.2 308.5,104.6 308.0,105.1 307.5,105.6 307.0,106.1 306.6,106.6 306.2,107.1 305.8,107.6 305.5,108.1 305.5,108.6 305.5,109.1 305.5,109.6 305.5,110.1 305.5,110.6 305.5,111.1 305.5,111.6 305.5,112.1 305.5,112.6 305.5,113.1 305.5,113.6 305.5,114.1 305.5,114.6 305.5,115.1 305.5,115.6 305.5,116.1 305.5,116.1 305.5,115.6 305.5,115.1 305.5,114.6 305.5,114.1 305.5,113.6 305.5,113.1 305.5,112.6 305.5,112.1 305.5,111.6 305.5,111.1 305.5,110.6 305.5,110.1 305.5,109.6 305.5,109.1 305.5,108.6 305.5,108.1 305.2,107.6 304.8,107.1 304.4,106.6 304.0,106.1 303.5,105.6 303.0,105.1 302.5,104.6 302.1,104.2 301.6,103.7 301.1,103.2 300.7,102.7 300.4,102.2 300.1,101.7 299.8,101.2 299.7,100.7 299.6,100.2 299.7,99.7 299.7,99.2 299.7,98.7 299.8,98.2 299.8,97.7 299.9,97.2 299.9,96.7 299.9,96.2 300.0,95.7 300.0,95.2 299.9,94.7 299.9,94.2 299.8,93.7 299.7,93.2 299.7,92.7 299.7,92.2 299.7,91.7 299.8,91.2 299.9,90.7 299.9,90.2 300.0,89.7 300.0,89.2 299.9,88.7 299.9,88.2 299.9,87.7 299.8,87.2 299.8,86.7 299.7,86.2 299.7,85.7 299.7,85.2 299.7,84.7 299.8,84.2 300.1,83.7 300.4,83.2 300.7,82.7 301.0,82.2 301.3,81.7 301.7,81.3 302.1,80.8 302.6,80.3 303.1,79.8 303.6,79.3 304.0,78.8 304.5,78.3 304.9,77.8 305.2,77.3 305.5,76.8 305.5,76.3 305.5,75.8 305.5,75.3 305.5,74.8 305.5,74.3 305.5,73.8 305.5,73.3 305.5,72.8 305.5,72.3 305.5,71.8 305.5,71.3 305.5,70.8 305.5,70.3 305.5,69.8Z" fill="#dcaa9b"/><line x1="296.50" x2="314.50" y1="92.5" y2="92.5" stroke="#731f08" stroke-width="1.1" stroke-opacity="0.75"/><circle cx="305.50" cy="84.10" r="3.0" fill="#b0573c"/><circle cx="305.50" cy="92.50" r="3.0" fill="#b0573c"/><circle cx="305.50" cy="101.10" r="3.0" fill="#b0573c"/><text transform="translate(305.50,68.3) scale(1.1,1)" font-size="14.5" text-anchor="middle" fill="#1a1a1a">c</text><path d="M333.2,51.7 334.4,52.2 334.5,52.7 334.5,53.2 334.5,53.7 334.5,54.2 334.5,54.7 334.5,55.2 334.5,55.7 334.6,56.2 334.6,56.7 334.7,57.2 334.8,57.7 334.9,58.2 335.0,58.7 335.2,59.2 335.4,59.7 335.7,60.2 336.1,60.7 336.5,61.2 336.9,61.7 337.3,62.2 337.7,62.7 338.2,63.2 338.6,63.7 339.0,64.2 339.4,64.7 339.7,65.2 340.1,65.7 340.4,66.2 340.6,66.7 340.9,67.2 341.1,67.7 341.2,68.2 341.4,68.7 341.5,69.2 341.6,69.7 341.6,70.1 341.6,70.6 341.7,71.1 341.6,71.6 341.6,72.1 341.5,72.6 341.3,73.1 341.1,73.6 340.9,74.1 340.5,74.6 340.2,75.1 339.8,75.6 339.5,76.1 339.1,76.6 338.8,77.1 338.5,77.6 338.2,78.1 338.0,78.6 337.8,79.1 337.7,79.6 337.6,80.1 337.6,80.6 337.6,81.1 337.6,81.6 337.7,82.1 337.8,82.6 338.0,83.1 338.2,83.6 338.4,84.1 338.6,84.6 338.9,85.1 339.1,85.6 339.2,86.1 339.4,86.6 339.4,87.1 339.4,87.6 339.4,88.1 339.4,88.6 339.3,89.1 339.1,89.6 339.0,90.1 338.7,90.6 338.4,91.1 338.1,91.6 337.7,92.1 337.3,92.6 336.9,93.1 336.6,93.6 336.2,94.1 335.8,94.6 335.5,95.1 335.3,95.6 335.1,96.1 334.9,96.6 334.8,97.1 334.7,97.6 334.7,98.1 334.6,98.6 334.6,99.1 334.6,99.6 334.6,100.1 334.5,100.6 334.5,101.1 334.5,101.6 334.5,102.1 334.5,102.6 334.5,103.1 334.5,103.6 334.5,104.1 334.5,104.6 334.5,105.1 334.1,105.6 333.2,105.8 333.2,105.8 332.3,105.6 331.9,105.1 331.9,104.6 331.9,104.1 331.9,103.6 331.9,103.1 331.9,102.6 331.9,102.1 331.9,101.6 331.9,101.1 331.9,100.6 331.8,100.1 331.8,99.6 331.8,99.1 331.8,98.6 331.7,98.1 331.7,97.6 331.6,97.1 331.5,96.6 331.3,96.1 331.1,95.6 330.9,95.1 330.6,94.6 330.2,94.1 329.8,93.6 329.5,93.1 329.1,92.6 328.7,92.1 328.3,91.6 328.0,91.1 327.7,90.6 327.4,90.1 327.3,89.6 327.1,89.1 327.0,88.6 327.0,88.1 327.0,87.6 327.0,87.1 327.0,86.6 327.2,86.1 327.3,85.6 327.5,85.1 327.8,84.6 328.0,84.1 328.2,83.6 328.4,83.1 328.6,82.6 328.7,82.1 328.8,81.6 328.8,81.1 328.8,80.6 328.8,80.1 328.7,79.6 328.6,79.1 328.4,78.6 328.2,78.1 327.9,77.6 327.6,77.1 327.3,76.6 326.9,76.1 326.6,75.6 326.2,75.1 325.9,74.6 325.5,74.1 325.3,73.6 325.1,73.1 324.9,72.6 324.8,72.1 324.8,71.6 324.7,71.1 324.8,70.6 324.8,70.1 324.8,69.7 324.9,69.2 325.0,68.7 325.2,68.2 325.3,67.7 325.5,67.2 325.8,66.7 326.0,66.2 326.3,65.7 326.7,65.2 327.0,64.7 327.4,64.2 327.8,63.7 328.2,63.2 328.7,62.7 329.1,62.2 329.5,61.7 329.9,61.2 330.3,60.7 330.7,60.2 331.0,59.7 331.2,59.2 331.4,58.7 331.5,58.2 331.6,57.7 331.7,57.2 331.8,56.7 331.8,56.2 331.9,55.7 331.9,55.2 331.9,54.7 331.9,54.2 331.9,53.7 331.9,53.2 331.9,52.7 332.0,52.2 333.2,51.7Z" fill="#5f0a2d"/><path d="M333.2,51.7 333.2,52.2 333.2,52.7 333.2,53.2 333.2,53.7 333.2,54.2 333.2,54.7 333.2,55.2 333.2,55.7 333.2,56.2 333.2,56.7 333.2,57.2 333.2,57.7 333.2,58.2 333.2,58.7 333.2,59.2 333.2,59.7 333.2,60.2 333.2,60.7 333.2,61.2 333.2,61.7 333.6,62.2 333.9,62.7 334.3,63.2 334.8,63.7 335.2,64.2 335.6,64.7 336.1,65.2 336.5,65.7 336.9,66.2 337.3,66.7 337.6,67.2 337.9,67.7 338.1,68.2 338.4,68.7 338.5,69.2 338.6,69.7 338.7,70.1 338.7,70.6 338.8,71.1 338.7,71.6 338.6,72.1 338.4,72.6 338.0,73.1 337.7,73.6 337.3,74.1 337.0,74.6 336.6,75.1 336.3,75.6 336.0,76.1 335.7,76.6 335.5,77.1 335.2,77.6 335.1,78.1 335.0,78.6 334.8,79.1 334.8,79.6 334.7,80.1 334.7,80.6 334.7,81.1 334.7,81.6 334.7,82.1 334.8,82.6 334.9,83.1 335.1,83.6 335.3,84.1 335.5,84.6 335.7,85.1 335.9,85.6 336.1,86.1 336.3,86.6 336.5,87.1 336.5,87.6 336.5,88.1 336.4,88.6 336.2,89.1 335.9,89.6 335.6,90.1 335.2,90.6 334.8,91.1 334.4,91.6 334.1,92.1 333.7,92.6 333.4,93.1 333.2,93.6 333.2,94.1 333.2,94.6 333.2,95.1 333.2,95.6 333.2,96.1 333.2,96.6 333.2,97.1 333.2,97.6 333.2,98.1 333.2,98.6 333.2,99.1 333.2,99.6 333.2,100.1 333.2,100.6 333.2,101.1 333.2,101.6 333.2,102.1 333.2,102.6 333.2,103.1 333.2,103.6 333.2,104.1 333.2,104.6 333.2,105.1 333.2,105.6 333.2,105.8 333.2,105.8 333.2,105.6 333.2,105.1 333.2,104.6 333.2,104.1 333.2,103.6 333.2,103.1 333.2,102.6 333.2,102.1 333.2,101.6 333.2,101.1 333.2,100.6 333.2,100.1 333.2,99.6 333.2,99.1 333.2,98.6 333.2,98.1 333.2,97.6 333.2,97.1 333.2,96.6 333.2,96.1 333.2,95.6 333.2,95.1 333.2,94.6 333.2,94.1 333.2,93.6 333.0,93.1 332.7,92.6 332.3,92.1 332.0,91.6 331.6,91.1 331.2,90.6 330.8,90.1 330.5,89.6 330.2,89.1 330.0,88.6 329.9,88.1 329.9,87.6 329.9,87.1 330.1,86.6 330.3,86.1 330.5,85.6 330.7,85.1 330.9,84.6 331.1,84.1 331.3,83.6 331.5,83.1 331.6,82.6 331.7,82.1 331.7,81.6 331.7,81.1 331.7,80.6 331.7,80.1 331.6,79.6 331.6,79.1 331.4,78.6 331.3,78.1 331.2,77.6 330.9,77.1 330.7,76.6 330.4,76.1 330.1,75.6 329.8,75.1 329.4,74.6 329.1,74.1 328.7,73.6 328.4,73.1 328.0,72.6 327.8,72.1 327.7,71.6 327.6,71.1 327.7,70.6 327.7,70.1 327.8,69.7 327.9,69.2 328.0,68.7 328.3,68.2 328.5,67.7 328.8,67.2 329.1,66.7 329.5,66.2 329.9,65.7 330.3,65.2 330.8,64.7 331.2,64.2 331.6,63.7 332.1,63.2 332.5,62.7 332.8,62.2 333.2,61.7 333.2,61.2 333.2,60.7 333.2,60.2 333.2,59.7 333.2,59.2 333.2,58.7 333.2,58.2 333.2,57.7 333.2,57.2 333.2,56.7 333.2,56.2 333.2,55.7 333.2,55.2 333.2,54.7 333.2,54.2 333.2,53.7 333.2,53.2 333.2,52.7 333.2,52.2 333.2,51.7Z" fill="#d69fba"/><rect x="323.80" y="66.70" width="6.6" height="6.6" fill="#a0375f"/><rect x="336.70" y="69.10" width="6.6" height="6.6" fill="#a0375f"/><rect x="330.00" y="85.40" width="6.4" height="6.4" fill="#a0375f"/><text transform="translate(333.20,50.2) scale(1.1,1)" font-size="14.5" text-anchor="middle" fill="#1a1a1a">d</text><path d="M360.7,114.8 361.9,115.3 362.0,115.8 362.0,116.3 362.0,116.8 362.0,117.3 362.0,117.8 362.2,118.3 362.5,118.8 362.9,119.3 363.4,119.8 363.9,120.3 364.5,120.8 365.2,121.3 365.9,121.8 366.5,122.3 367.1,122.8 367.6,123.3 368.1,123.8 368.5,124.3 368.8,124.8 369.0,125.3 369.2,125.8 369.3,126.3 369.3,126.8 369.3,127.3 369.2,127.8 369.2,128.3 369.1,128.8 369.1,129.3 369.1,129.8 369.1,130.3 369.2,130.8 369.3,131.3 369.4,131.8 369.4,132.3 369.4,132.7 369.3,133.2 369.3,133.7 369.2,134.2 369.1,134.7 369.1,135.2 369.1,135.7 369.1,136.2 369.2,136.7 369.3,137.2 369.3,137.7 369.3,138.2 369.2,138.7 369.1,139.2 368.8,139.7 368.5,140.2 368.1,140.7 367.6,141.2 366.9,141.7 366.2,142.2 365.5,142.7 364.7,143.2 363.9,143.7 363.3,144.2 362.7,144.7 362.4,145.2 362.2,145.7 362.1,146.2 362.1,146.7 362.0,147.2 362.0,147.7 362.0,148.2 362.0,148.7 362.0,149.2 361.9,149.7 360.7,150.2 360.7,150.2 359.5,149.7 359.4,149.2 359.4,148.7 359.4,148.2 359.4,147.7 359.4,147.2 359.3,146.7 359.3,146.2 359.2,145.7 359.0,145.2 358.7,144.7 358.1,144.2 357.5,143.7 356.7,143.2 355.9,142.7 355.2,142.2 354.5,141.7 353.8,141.2 353.3,140.7 352.9,140.2 352.6,139.7 352.3,139.2 352.2,138.7 352.1,138.2 352.1,137.7 352.1,137.2 352.2,136.7 352.3,136.2 352.3,135.7 352.3,135.2 352.3,134.7 352.2,134.2 352.1,133.7 352.1,133.2 352.0,132.7 352.0,132.3 352.0,131.8 352.1,131.3 352.2,130.8 352.3,130.3 352.3,129.8 352.3,129.3 352.3,128.8 352.2,128.3 352.2,127.8 352.1,127.3 352.1,126.8 352.1,126.3 352.2,125.8 352.4,125.3 352.6,124.8 352.9,124.3 353.3,123.8 353.8,123.3 354.3,122.8 354.9,122.3 355.5,121.8 356.2,121.3 356.9,120.8 357.5,120.3 358.0,119.8 358.5,119.3 358.9,118.8 359.2,118.3 359.4,117.8 359.4,117.3 359.4,116.8 359.4,116.3 359.4,115.8 359.5,115.3 360.7,114.8Z" fill="#1e4605"/><path d="M360.7,114.8 360.7,115.3 360.7,115.8 360.7,116.3 360.7,116.8 360.7,117.3 360.7,117.8 360.7,118.3 360.7,118.8 360.7,119.3 360.7,119.8 360.7,120.3 360.7,120.8 360.8,121.3 361.3,121.8 361.8,122.3 362.4,122.8 363.0,123.3 363.7,123.8 364.4,124.3 365.0,124.8 365.5,125.3 366.0,125.8 366.3,126.3 366.4,126.8 366.4,127.3 366.3,127.8 366.2,128.3 366.2,128.8 366.2,129.3 366.2,129.8 366.2,130.3 366.3,130.8 366.4,131.3 366.5,131.8 366.5,132.3 366.5,132.7 366.4,133.2 366.3,133.7 366.2,134.2 366.2,134.7 366.2,135.2 366.2,135.7 366.2,136.2 366.3,136.7 366.4,137.2 366.4,137.7 366.3,138.2 366.0,138.7 365.4,139.2 364.7,139.7 364.0,140.2 363.2,140.7 362.4,141.2 361.8,141.7 361.1,142.2 360.7,142.7 360.7,143.2 360.7,143.7 360.7,144.2 360.7,144.7 360.7,145.2 360.7,145.7 360.7,146.2 360.7,146.7 360.7,147.2 360.7,147.7 360.7,148.2 360.7,148.7 360.7,149.2 360.7,149.7 360.7,150.2 360.7,150.2 360.7,149.7 360.7,149.2 360.7,148.7 360.7,148.2 360.7,147.7 360.7,147.2 360.7,146.7 360.7,146.2 360.7,145.7 360.7,145.2 360.7,144.7 360.7,144.2 360.7,143.7 360.7,143.2 360.7,142.7 360.3,142.2 359.6,141.7 359.0,141.2 358.2,140.7 357.4,140.2 356.7,139.7 356.0,139.2 355.4,138.7 355.1,138.2 355.0,137.7 355.0,137.2 355.1,136.7 355.2,136.2 355.2,135.7 355.2,135.2 355.2,134.7 355.2,134.2 355.1,133.7 355.0,133.2 354.9,132.7 354.9,132.3 354.9,131.8 355.0,131.3 355.1,130.8 355.2,130.3 355.2,129.8 355.2,129.3 355.2,128.8 355.2,128.3 355.1,127.8 355.0,127.3 355.0,126.8 355.1,126.3 355.4,125.8 355.9,125.3 356.4,124.8 357.0,124.3 357.7,123.8 358.4,123.3 359.0,122.8 359.6,122.3 360.1,121.8 360.6,121.3 360.7,120.8 360.7,120.3 360.7,119.8 360.7,119.3 360.7,118.8 360.7,118.3 360.7,117.8 360.7,117.3 360.7,116.8 360.7,116.3 360.7,115.8 360.7,115.3 360.7,114.8Z" fill="#b4cda0"/><line x1="353.20" x2="368.20" y1="132.3" y2="132.3" stroke="#1e4605" stroke-width="1" stroke-dasharray="3,2"/><path d="M360.70,122.64 L364.30,129.30 L357.10,129.30Z" fill="#5f872d"/><path d="M360.70,127.84 L364.30,134.50 L357.10,134.50Z" fill="#5f872d"/><path d="M360.70,133.34 L364.30,140.00 L357.10,140.00Z" fill="#5f872d"/><text transform="translate(360.70,114.0) scale(1.1,1)" font-size="14.5" text-anchor="middle" fill="#1a1a1a">b</text><path d="M388.4,140.9 389.6,141.4 389.7,141.9 389.7,142.4 389.7,142.9 389.8,143.4 389.9,143.9 390.2,144.4 390.6,144.9 391.2,145.4 391.7,145.9 392.3,146.4 392.8,146.9 393.2,147.4 393.5,147.8 393.7,148.3 393.9,148.8 394.0,149.3 394.0,149.8 394.0,150.3 393.9,150.8 393.7,151.3 393.4,151.8 393.0,152.3 392.5,152.8 392.0,153.3 391.7,153.8 391.6,154.3 391.9,154.8 392.3,155.3 392.8,155.8 393.2,156.3 393.5,156.8 393.7,157.3 393.8,157.8 393.8,158.3 393.8,158.8 393.6,159.3 393.5,159.8 393.2,160.3 392.8,160.8 392.3,161.2 391.7,161.7 391.2,162.2 390.6,162.7 390.1,163.2 389.9,163.7 389.8,164.2 389.8,164.7 389.7,165.2 389.7,165.7 389.7,166.2 389.7,166.7 389.6,167.2 388.4,167.7 388.4,167.7 387.2,167.2 387.1,166.7 387.1,166.2 387.1,165.7 387.1,165.2 387.0,164.7 387.0,164.2 386.9,163.7 386.7,163.2 386.2,162.7 385.6,162.2 385.1,161.7 384.5,161.2 384.0,160.8 383.6,160.3 383.3,159.8 383.2,159.3 383.0,158.8 383.0,158.3 383.0,157.8 383.1,157.3 383.3,156.8 383.6,156.3 384.0,155.8 384.5,155.3 384.9,154.8 385.2,154.3 385.1,153.8 384.8,153.3 384.3,152.8 383.8,152.3 383.4,151.8 383.1,151.3 382.9,150.8 382.8,150.3 382.8,149.8 382.8,149.3 382.9,148.8 383.1,148.3 383.3,147.8 383.6,147.4 384.0,146.9 384.5,146.4 385.1,145.9 385.6,145.4 386.2,144.9 386.6,144.4 386.9,143.9 387.0,143.4 387.1,142.9 387.1,142.4 387.1,141.9 387.2,141.4 388.4,140.9Z" fill="#054b32"/><path d="M388.4,140.9 388.4,141.4 388.4,141.9 388.4,142.4 388.4,142.9 388.4,143.4 388.4,143.9 388.4,144.4 388.4,144.9 388.4,145.4 388.4,145.9 388.4,146.4 388.5,146.9 389.1,147.4 389.6,147.8 390.2,148.3 390.7,148.8 391.0,149.3 391.1,149.8 390.9,150.3 390.4,150.8 389.9,151.3 389.5,151.8 389.2,152.3 388.9,152.8 388.8,153.3 388.7,153.8 388.7,154.3 388.7,154.8 388.9,155.3 389.1,155.8 389.4,156.3 389.7,156.8 390.2,157.3 390.7,157.8 390.9,158.3 390.7,158.8 390.2,159.3 389.6,159.8 389.1,160.3 388.5,160.8 388.4,161.2 388.4,161.7 388.4,162.2 388.4,162.7 388.4,163.2 388.4,163.7 388.4,164.2 388.4,164.7 388.4,165.2 388.4,165.7 388.4,166.2 388.4,166.7 388.4,167.2 388.4,167.7 388.4,167.7 388.4,167.2 388.4,166.7 388.4,166.2 388.4,165.7 388.4,165.2 388.4,164.7 388.4,164.2 388.4,163.7 388.4,163.2 388.4,162.7 388.4,162.2 388.4,161.7 388.4,161.2 388.3,160.8 387.7,160.3 387.2,159.8 386.6,159.3 386.1,158.8 385.9,158.3 386.1,157.8 386.6,157.3 387.1,156.8 387.4,156.3 387.7,155.8 387.9,155.3 388.1,154.8 388.1,154.3 388.1,153.8 388.0,153.3 387.9,152.8 387.6,152.3 387.3,151.8 386.9,151.3 386.4,150.8 385.9,150.3 385.7,149.8 385.8,149.3 386.1,148.8 386.6,148.3 387.2,147.8 387.7,147.4 388.3,146.9 388.4,146.4 388.4,145.9 388.4,145.4 388.4,144.9 388.4,144.4 388.4,143.9 388.4,143.4 388.4,142.9 388.4,142.4 388.4,141.9 388.4,141.4 388.4,140.9Z" fill="#8cc8af"/><line x1="387.20" x2="389.60" y1="150.2" y2="150.2" stroke="#054b32" stroke-width="1.1" stroke-opacity="0.75"/><path d="M382.80,154.18 L386.60,147.15 L379.00,147.15Z" fill="#288264"/><path d="M394.00,154.18 L397.80,147.15 L390.20,147.15Z" fill="#288264"/><path d="M388.40,161.16 L392.00,154.50 L384.80,154.50Z" fill="#288264"/><text transform="translate(388.40,139.8) scale(1.1,1)" font-size="14.5" text-anchor="middle" fill="#1a1a1a">a</text><path d="M415.8,113.8 417.0,114.3 417.1,114.8 417.1,115.3 417.1,115.8 417.1,116.3 417.1,116.8 417.1,117.3 417.2,117.8 417.4,118.3 417.6,118.8 417.9,119.3 418.2,119.8 418.5,120.3 418.9,120.8 419.3,121.3 419.8,121.8 420.2,122.3 420.6,122.8 421.0,123.3 421.4,123.8 421.7,124.3 421.9,124.8 422.1,125.3 422.3,125.7 422.4,126.2 422.5,126.7 422.5,127.2 422.5,127.7 422.5,128.2 422.4,128.7 422.3,129.2 422.1,129.7 421.9,130.2 421.7,130.7 421.6,131.2 421.5,131.7 421.4,132.2 421.4,132.7 421.4,133.2 421.4,133.7 421.5,134.2 421.7,134.7 421.9,135.2 422.1,135.7 422.4,136.2 422.7,136.7 423.0,137.2 423.3,137.7 423.5,138.2 423.8,138.7 423.9,139.2 424.1,139.7 424.2,140.2 424.3,140.7 424.4,141.2 424.5,141.7 424.5,142.2 424.5,142.7 424.5,143.2 424.5,143.7 424.5,144.2 424.4,144.7 424.4,145.2 424.2,145.7 424.1,146.2 423.9,146.7 423.6,147.2 423.3,147.7 423.0,148.2 422.5,148.6 422.1,149.1 421.6,149.6 421.1,150.1 420.6,150.6 420.1,151.1 419.6,151.6 419.2,152.1 418.7,152.6 418.4,153.1 418.0,153.6 417.7,154.1 417.4,154.6 417.2,155.1 417.1,155.6 417.1,156.1 417.1,156.6 417.1,157.1 417.1,157.6 417.1,158.1 417.1,158.6 417.1,159.1 417.0,159.6 415.8,160.1 415.8,160.1 414.6,159.6 414.5,159.1 414.5,158.6 414.5,158.1 414.5,157.6 414.5,157.1 414.5,156.6 414.5,156.1 414.5,155.6 414.4,155.1 414.2,154.6 413.9,154.1 413.6,153.6 413.2,153.1 412.9,152.6 412.4,152.1 412.0,151.6 411.5,151.1 411.0,150.6 410.5,150.1 410.0,149.6 409.5,149.1 409.1,148.6 408.6,148.2 408.3,147.7 408.0,147.2 407.7,146.7 407.5,146.2 407.4,145.7 407.2,145.2 407.2,144.7 407.1,144.2 407.1,143.7 407.1,143.2 407.1,142.7 407.1,142.2 407.1,141.7 407.2,141.2 407.3,140.7 407.4,140.2 407.5,139.7 407.7,139.2 407.8,138.7 408.1,138.2 408.3,137.7 408.6,137.2 408.9,136.7 409.2,136.2 409.5,135.7 409.7,135.2 409.9,134.7 410.1,134.2 410.2,133.7 410.2,133.2 410.2,132.7 410.2,132.2 410.1,131.7 410.0,131.2 409.9,130.7 409.7,130.2 409.5,129.7 409.3,129.2 409.2,128.7 409.1,128.2 409.1,127.7 409.1,127.2 409.1,126.7 409.2,126.2 409.3,125.7 409.5,125.3 409.7,124.8 409.9,124.3 410.2,123.8 410.6,123.3 411.0,122.8 411.4,122.3 411.8,121.8 412.3,121.3 412.7,120.8 413.1,120.3 413.4,119.8 413.7,119.3 414.0,118.8 414.2,118.3 414.4,117.8 414.5,117.3 414.5,116.8 414.5,116.3 414.5,115.8 414.5,115.3 414.5,114.8 414.6,114.3 415.8,113.8Z" fill="#19325f"/><path d="M415.8,113.8 415.8,114.3 415.8,114.8 415.8,115.3 415.8,115.8 415.8,116.3 415.8,116.8 415.8,117.3 415.8,117.8 415.8,118.3 415.8,118.8 415.8,119.3 415.8,119.8 415.8,120.3 415.8,120.8 415.8,121.3 416.0,121.8 416.4,122.3 416.8,122.8 417.2,123.3 417.7,123.8 418.1,124.3 418.5,124.8 418.9,125.3 419.2,125.7 419.4,126.2 419.5,126.7 419.6,127.2 419.6,127.7 419.6,128.2 419.4,128.7 419.2,129.2 419.0,129.7 418.9,130.2 418.7,130.7 418.6,131.2 418.6,131.7 418.5,132.2 418.5,132.7 418.5,133.2 418.5,133.7 418.5,134.2 418.6,134.7 418.8,135.2 418.9,135.7 419.1,136.2 419.4,136.7 419.7,137.2 419.9,137.7 420.2,138.2 420.5,138.7 420.8,139.2 421.0,139.7 421.2,140.2 421.4,140.7 421.5,141.2 421.5,141.7 421.6,142.2 421.6,142.7 421.6,143.2 421.6,143.7 421.6,144.2 421.5,144.7 421.4,145.2 421.1,145.7 420.8,146.2 420.4,146.7 420.0,147.2 419.5,147.7 419.0,148.2 418.5,148.6 418.0,149.1 417.5,149.6 417.1,150.1 416.6,150.6 416.2,151.1 415.9,151.6 415.8,152.1 415.8,152.6 415.8,153.1 415.8,153.6 415.8,154.1 415.8,154.6 415.8,155.1 415.8,155.6 415.8,156.1 415.8,156.6 415.8,157.1 415.8,157.6 415.8,158.1 415.8,158.6 415.8,159.1 415.8,159.6 415.8,160.1 415.8,160.1 415.8,159.6 415.8,159.1 415.8,158.6 415.8,158.1 415.8,157.6 415.8,157.1 415.8,156.6 415.8,156.1 415.8,155.6 415.8,155.1 415.8,154.6 415.8,154.1 415.8,153.6 415.8,153.1 415.8,152.6 415.8,152.1 415.7,151.6 415.4,151.1 415.0,150.6 414.5,150.1 414.1,149.6 413.6,149.1 413.1,148.6 412.6,148.2 412.1,147.7 411.6,147.2 411.2,146.7 410.8,146.2 410.5,145.7 410.2,145.2 410.1,144.7 410.0,144.2 410.0,143.7 410.0,143.2 410.0,142.7 410.0,142.2 410.1,141.7 410.1,141.2 410.2,140.7 410.4,140.2 410.6,139.7 410.8,139.2 411.1,138.7 411.4,138.2 411.7,137.7 411.9,137.2 412.2,136.7 412.5,136.2 412.7,135.7 412.8,135.2 413.0,134.7 413.1,134.2 413.1,133.7 413.1,133.2 413.1,132.7 413.1,132.2 413.0,131.7 413.0,131.2 412.9,130.7 412.7,130.2 412.6,129.7 412.4,129.2 412.2,128.7 412.0,128.2 412.0,127.7 412.0,127.2 412.1,126.7 412.2,126.2 412.4,125.7 412.7,125.3 413.1,124.8 413.5,124.3 413.9,123.8 414.4,123.3 414.8,122.8 415.2,122.3 415.6,121.8 415.8,121.3 415.8,120.8 415.8,120.3 415.8,119.8 415.8,119.3 415.8,118.8 415.8,118.3 415.8,117.8 415.8,117.3 415.8,116.8 415.8,116.3 415.8,115.8 415.8,115.3 415.8,114.8 415.8,114.3 415.8,113.8Z" fill="#aabee1"/><path d="M415.80,124.20 L419.50,127.90 L415.80,131.60 L412.10,127.90Z" fill="#416eaf"/><path d="M415.80,135.00 L419.50,138.70 L415.80,142.40 L412.10,138.70Z" fill="#416eaf"/><path d="M415.80,141.80 L419.50,145.50 L415.80,149.20 L412.10,145.50Z" fill="#416eaf"/><text transform="translate(415.80,113.2) scale(1.1,1)" font-size="14.5" text-anchor="middle" fill="#1a1a1a">b</text><path d="M287.4,7.47999999999999 V183 H434.7" fill="none" stroke="#2e2e2e" stroke-width="1.2"/><line x1="280.2" x2="287.4" y1="183.00" y2="183.00" stroke="#2e2e2e" stroke-width="1.1"/><text transform="translate(277.50,185.75) scale(1.12,1)" font-size="8.9" text-anchor="end" fill="#1a1a1a" stroke="#1a1a1a" stroke-width="0.15">0</text><line x1="280.2" x2="287.4" y1="139.12" y2="139.12" stroke="#2e2e2e" stroke-width="1.1"/><text transform="translate(277.50,141.87) scale(1.12,1)" font-size="8.9" text-anchor="end" fill="#1a1a1a" stroke="#1a1a1a" stroke-width="0.15">2</text><line x1="280.2" x2="287.4" y1="95.24" y2="95.24" stroke="#2e2e2e" stroke-width="1.1"/><text transform="translate(277.50,97.99) scale(1.12,1)" font-size="8.9" text-anchor="end" fill="#1a1a1a" stroke="#1a1a1a" stroke-width="0.15">4</text><line x1="280.2" x2="287.4" y1="51.36" y2="51.36" stroke="#2e2e2e" stroke-width="1.1"/><text transform="translate(277.50,54.11) scale(1.12,1)" font-size="8.9" text-anchor="end" fill="#1a1a1a" stroke="#1a1a1a" stroke-width="0.15">6</text><line x1="280.2" x2="287.4" y1="7.48" y2="7.48" stroke="#2e2e2e" stroke-width="1.1"/><text transform="translate(277.50,10.23) scale(1.12,1)" font-size="8.9" text-anchor="end" fill="#1a1a1a" stroke="#1a1a1a" stroke-width="0.15">8</text><line x1="305.5" x2="305.5" y1="183" y2="190.2" stroke="#2e2e2e" stroke-width="1.1"/><text transform="translate(308.70,202.00) scale(1.1,1) rotate(-45)" font-size="11.0" text-anchor="end" fill="#1a1a1a">Control</text><line x1="333.1" x2="333.1" y1="183" y2="190.2" stroke="#2e2e2e" stroke-width="1.1"/><text transform="translate(336.30,202.00) scale(1.1,1) rotate(-45)" font-size="11.0" text-anchor="end" fill="#1a1a1a">HKL</text><line x1="360.6" x2="360.6" y1="183" y2="190.2" stroke="#2e2e2e" stroke-width="1.1"/><text transform="translate(363.80,202.00) scale(1.1,1) rotate(-45)" font-size="11.0" text-anchor="end" fill="#1a1a1a">ACE 0.5 μM</text><line x1="388.4" x2="388.4" y1="183" y2="190.2" stroke="#2e2e2e" stroke-width="1.1"/><text transform="translate(391.60,202.00) scale(1.1,1) rotate(-45)" font-size="11.0" text-anchor="end" fill="#1a1a1a">ACE 1 μM</text><line x1="416.3" x2="416.3" y1="183" y2="190.2" stroke="#2e2e2e" stroke-width="1.1"/><text transform="translate(419.50,202.00) scale(1.1,1) rotate(-45)" font-size="11.0" text-anchor="end" fill="#1a1a1a">ACE 1 μM+ HKL</text><text transform="translate(258.2,91.2) scale(1.1,1) rotate(-90)" font-size="11.0" text-anchor="middle" fill="#1a1a1a">SOD activity (U/ mg protein)</text></g>
<g><path d="M548.0,68.3 549.2,68.8 549.3,69.3 549.3,69.8 549.3,70.3 549.3,70.8 549.3,71.3 549.4,71.8 549.5,72.3 549.7,72.8 549.9,73.3 550.2,73.8 550.5,74.3 550.9,74.8 551.4,75.3 551.9,75.8 552.3,76.3 552.7,76.8 553.0,77.3 553.2,77.8 553.5,78.3 553.6,78.8 553.8,79.3 553.9,79.8 554.0,80.3 554.0,80.8 554.0,81.3 553.9,81.7 553.8,82.2 553.6,82.7 553.4,83.2 553.1,83.7 552.7,84.2 552.3,84.7 552.0,85.2 551.8,85.7 551.8,86.2 551.9,86.7 552.0,87.2 552.3,87.7 552.6,88.2 553.0,88.7 553.6,89.2 554.1,89.7 554.7,90.2 555.2,90.7 555.6,91.2 555.9,91.7 556.1,92.2 556.2,92.7 556.3,93.2 556.4,93.7 556.4,94.2 556.4,94.7 556.3,95.2 556.1,95.7 555.9,96.2 555.4,96.7 554.9,97.2 554.3,97.7 553.8,98.2 553.2,98.7 552.6,99.2 552.0,99.7 551.5,100.2 551.0,100.7 550.6,101.2 550.2,101.7 549.9,102.2 549.7,102.7 549.6,103.2 549.5,103.7 549.4,104.2 549.4,104.7 549.3,105.2 549.3,105.7 549.3,106.2 549.3,106.7 549.3,107.2 549.3,107.7 548.9,108.2 548.0,108.4 548.0,108.4 547.1,108.2 546.7,107.7 546.7,107.2 546.7,106.7 546.7,106.2 546.7,105.7 546.7,105.2 546.6,104.7 546.6,104.2 546.5,103.7 546.4,103.2 546.3,102.7 546.1,102.2 545.8,101.7 545.4,101.2 545.0,100.7 544.5,100.2 544.0,99.7 543.4,99.2 542.8,98.7 542.2,98.2 541.7,97.7 541.1,97.2 540.6,96.7 540.1,96.2 539.9,95.7 539.7,95.2 539.6,94.7 539.6,94.2 539.6,93.7 539.7,93.2 539.8,92.7 539.9,92.2 540.1,91.7 540.4,91.2 540.8,90.7 541.3,90.2 541.9,89.7 542.4,89.2 543.0,88.7 543.4,88.2 543.7,87.7 544.0,87.2 544.1,86.7 544.2,86.2 544.2,85.7 544.0,85.2 543.7,84.7 543.3,84.2 542.9,83.7 542.6,83.2 542.4,82.7 542.2,82.2 542.1,81.7 542.0,81.3 542.0,80.8 542.0,80.3 542.1,79.8 542.2,79.3 542.4,78.8 542.5,78.3 542.8,77.8 543.0,77.3 543.3,76.8 543.7,76.3 544.1,75.8 544.6,75.3 545.1,74.8 545.5,74.3 545.8,73.8 546.1,73.3 546.3,72.8 546.5,72.3 546.6,71.8 546.7,71.3 546.7,70.8 546.7,70.3 546.7,69.8 546.7,69.3 546.8,68.8 548.0,68.3Z" fill="#731f08"/><path d="M548.0,68.3 548.0,68.8 548.0,69.3 548.0,69.8 548.0,70.3 548.0,70.8 548.0,71.3 548.0,71.8 548.0,72.3 548.0,72.8 548.0,73.3 548.0,73.8 548.0,74.3 548.0,74.8 548.0,75.3 548.0,75.8 548.4,76.3 548.8,76.8 549.3,77.3 549.8,77.8 550.2,78.3 550.5,78.8 550.7,79.3 550.9,79.8 551.0,80.3 551.1,80.8 551.1,81.3 550.9,81.7 550.6,82.2 550.2,82.7 549.9,83.2 549.6,83.7 549.3,84.2 549.1,84.7 549.0,85.2 548.9,85.7 548.9,86.2 548.9,86.7 549.0,87.2 549.1,87.7 549.3,88.2 549.5,88.7 549.8,89.2 550.1,89.7 550.5,90.2 550.9,90.7 551.5,91.2 552.0,91.7 552.6,92.2 553.1,92.7 553.4,93.2 553.5,93.7 553.5,94.2 553.3,94.7 552.8,95.2 552.2,95.7 551.6,96.2 551.0,96.7 550.4,97.2 549.9,97.7 549.4,98.2 548.9,98.7 548.5,99.2 548.1,99.7 548.0,100.2 548.0,100.7 548.0,101.2 548.0,101.7 548.0,102.2 548.0,102.7 548.0,103.2 548.0,103.7 548.0,104.2 548.0,104.7 548.0,105.2 548.0,105.7 548.0,106.2 548.0,106.7 548.0,107.2 548.0,107.7 548.0,108.2 548.0,108.4 548.0,108.4 548.0,108.2 548.0,107.7 548.0,107.2 548.0,106.7 548.0,106.2 548.0,105.7 548.0,105.2 548.0,104.7 548.0,104.2 548.0,103.7 548.0,103.2 548.0,102.7 548.0,102.2 548.0,101.7 548.0,101.2 548.0,100.7 548.0,100.2 547.9,99.7 547.5,99.2 547.1,98.7 546.6,98.2 546.1,97.7 545.6,97.2 545.0,96.7 544.4,96.2 543.8,95.7 543.2,95.2 542.7,94.7 542.5,94.2 542.5,93.7 542.6,93.2 542.9,92.7 543.4,92.2 544.0,91.7 544.5,91.2 545.1,90.7 545.5,90.2 545.9,89.7 546.2,89.2 546.5,88.7 546.7,88.2 546.9,87.7 547.0,87.2 547.1,86.7 547.1,86.2 547.1,85.7 547.0,85.2 546.9,84.7 546.7,84.2 546.4,83.7 546.1,83.2 545.8,82.7 545.4,82.2 545.1,81.7 544.9,81.3 544.9,80.8 545.0,80.3 545.1,79.8 545.3,79.3 545.5,78.8 545.8,78.3 546.2,77.8 546.7,77.3 547.2,76.8 547.6,76.3 548.0,75.8 548.0,75.3 548.0,74.8 548.0,74.3 548.0,73.8 548.0,73.3 548.0,72.8 548.0,72.3 548.0,71.8 548.0,71.3 548.0,70.8 548.0,70.3 548.0,69.8 548.0,69.3 548.0,68.8 548.0,68.3Z" fill="#dcaa9b"/><line x1="545.00" x2="551.00" y1="91.9" y2="91.9" stroke="#731f08" stroke-width="1" stroke-dasharray="3,2"/><line x1="544.00" x2="552.00" y1="95.5" y2="95.5" stroke="#731f08" stroke-width="0.8" stroke-dasharray="1,1.5"/><circle cx="548.00" cy="80.80" r="3.4" fill="#b0573c"/><circle cx="541.20" cy="95.10" r="3.3" fill="#b0573c"/><circle cx="554.70" cy="93.10" r="3.3" fill="#b0573c"/><text transform="translate(548.00,67.3) scale(1.1,1)" font-size="14.5" text-anchor="middle" fill="#1a1a1a">c</text><path d="M576.2,23.9 577.4,24.4 577.5,24.9 577.5,25.4 577.5,25.9 577.6,26.4 577.6,26.9 577.6,27.4 577.6,27.9 577.6,28.4 577.6,28.9 577.7,29.4 577.8,29.9 578.0,30.4 578.2,30.9 578.4,31.4 578.7,31.9 578.9,32.4 579.2,32.9 579.5,33.4 579.9,33.9 580.2,34.4 580.6,34.9 581.0,35.4 581.4,35.9 581.7,36.4 582.0,36.9 582.4,37.4 582.7,37.9 583.0,38.4 583.3,38.9 583.5,39.4 583.8,39.9 584.0,40.4 584.3,40.9 584.5,41.4 584.7,41.9 584.9,42.4 585.0,42.9 585.1,43.4 585.2,43.9 585.3,44.4 585.3,44.9 585.3,45.4 585.4,45.9 585.4,46.4 585.4,46.9 585.4,47.4 585.4,47.9 585.3,48.4 585.2,48.9 585.1,49.4 584.9,49.9 584.7,50.4 584.6,50.9 584.4,51.4 584.2,51.9 584.0,52.4 583.8,52.9 583.5,53.4 583.3,53.9 583.1,54.4 583.0,54.9 582.8,55.4 582.7,55.9 582.6,56.4 582.5,56.9 582.5,57.4 582.4,57.9 582.4,58.4 582.3,58.9 582.4,59.4 582.4,59.9 582.5,60.4 582.6,60.9 582.8,61.4 582.9,61.9 583.0,62.4 583.2,62.9 583.3,63.4 583.3,63.9 583.4,64.4 583.5,64.9 583.6,65.4 583.6,65.9 583.6,66.4 583.6,66.9 583.6,67.4 583.5,67.9 583.3,68.4 583.2,68.9 583.0,69.4 582.7,69.9 582.5,70.4 582.2,70.9 581.9,71.4 581.6,71.9 581.3,72.4 580.9,72.9 580.6,73.4 580.3,73.9 579.9,74.4 579.6,74.9 579.3,75.4 579.0,75.9 578.8,76.4 578.5,76.9 578.3,77.4 578.1,77.9 578.0,78.4 577.9,78.9 577.9,79.4 577.8,79.9 577.7,80.4 577.7,80.9 577.7,81.4 577.6,81.9 577.6,82.4 577.6,82.9 577.6,83.4 577.5,83.9 577.5,84.4 577.1,84.9 576.2,85.1 576.2,85.1 575.3,84.9 574.9,84.4 574.9,83.9 574.8,83.4 574.8,82.9 574.8,82.4 574.8,81.9 574.7,81.4 574.7,80.9 574.7,80.4 574.6,79.9 574.5,79.4 574.5,78.9 574.4,78.4 574.3,77.9 574.1,77.4 573.9,76.9 573.6,76.4 573.4,75.9 573.1,75.4 572.8,74.9 572.5,74.4 572.1,73.9 571.8,73.4 571.5,72.9 571.1,72.4 570.8,71.9 570.5,71.4 570.2,70.9 569.9,70.4 569.7,69.9 569.4,69.4 569.2,68.9 569.1,68.4 568.9,67.9 568.8,67.4 568.8,66.9 568.8,66.4 568.8,65.9 568.8,65.4 568.9,64.9 569.0,64.4 569.1,63.9 569.1,63.4 569.2,62.9 569.4,62.4 569.5,61.9 569.6,61.4 569.8,60.9 569.9,60.4 570.0,59.9 570.0,59.4 570.1,58.9 570.0,58.4 570.0,57.9 569.9,57.4 569.9,56.9 569.8,56.4 569.7,55.9 569.6,55.4 569.4,54.9 569.3,54.4 569.1,53.9 568.9,53.4 568.6,52.9 568.4,52.4 568.2,51.9 568.0,51.4 567.8,50.9 567.7,50.4 567.5,49.9 567.3,49.4 567.2,48.9 567.1,48.4 567.0,47.9 567.0,47.4 567.0,46.9 567.0,46.4 567.0,45.9 567.1,45.4 567.1,44.9 567.1,44.4 567.2,43.9 567.3,43.4 567.4,42.9 567.5,42.4 567.7,41.9 567.9,41.4 568.1,40.9 568.4,40.4 568.6,39.9 568.9,39.4 569.1,38.9 569.4,38.4 569.7,37.9 570.0,37.4 570.4,36.9 570.7,36.4 571.0,35.9 571.4,35.4 571.8,34.9 572.2,34.4 572.5,33.9 572.9,33.4 573.2,32.9 573.5,32.4 573.7,31.9 574.0,31.4 574.2,30.9 574.4,30.4 574.6,29.9 574.7,29.4 574.8,28.9 574.8,28.4 574.8,27.9 574.8,27.4 574.8,26.9 574.8,26.4 574.9,25.9 574.9,25.4 574.9,24.9 575.0,24.4 576.2,23.9Z" fill="#5f0a2d"/><path d="M576.2,23.9 576.2,24.4 576.2,24.9 576.2,25.4 576.2,25.9 576.2,26.4 576.2,26.9 576.2,27.4 576.2,27.9 576.2,28.4 576.2,28.9 576.2,29.4 576.2,29.9 576.2,30.4 576.2,30.9 576.2,31.4 576.2,31.9 576.2,32.4 576.2,32.9 576.2,33.4 576.5,33.9 576.7,34.4 577.1,34.9 577.4,35.4 577.7,35.9 578.1,36.4 578.5,36.9 578.9,37.4 579.2,37.9 579.6,38.4 579.9,38.9 580.2,39.4 580.5,39.9 580.8,40.4 581.0,40.9 581.3,41.4 581.5,41.9 581.7,42.4 582.0,42.9 582.1,43.4 582.3,43.9 582.4,44.4 582.4,44.9 582.4,45.4 582.5,45.9 582.5,46.4 582.5,46.9 582.5,47.4 582.4,47.9 582.3,48.4 582.2,48.9 582.0,49.4 581.8,49.9 581.7,50.4 581.5,50.9 581.3,51.4 581.0,51.9 580.8,52.4 580.6,52.9 580.4,53.4 580.3,53.9 580.1,54.4 580.0,54.9 579.9,55.4 579.8,55.9 579.7,56.4 579.6,56.9 579.5,57.4 579.5,57.9 579.5,58.4 579.4,58.9 579.5,59.4 579.5,59.9 579.6,60.4 579.6,60.9 579.8,61.4 579.9,61.9 580.0,62.4 580.2,62.9 580.3,63.4 580.4,63.9 580.5,64.4 580.6,64.9 580.7,65.4 580.7,65.9 580.7,66.4 580.7,66.9 580.6,67.4 580.4,67.9 580.2,68.4 580.0,68.9 579.7,69.4 579.5,69.9 579.1,70.4 578.8,70.9 578.5,71.4 578.1,71.9 577.8,72.4 577.5,72.9 577.2,73.4 576.9,73.9 576.6,74.4 576.3,74.9 576.2,75.4 576.2,75.9 576.2,76.4 576.2,76.9 576.2,77.4 576.2,77.9 576.2,78.4 576.2,78.9 576.2,79.4 576.2,79.9 576.2,80.4 576.2,80.9 576.2,81.4 576.2,81.9 576.2,82.4 576.2,82.9 576.2,83.4 576.2,83.9 576.2,84.4 576.2,84.9 576.2,85.1 576.2,85.1 576.2,84.9 576.2,84.4 576.2,83.9 576.2,83.4 576.2,82.9 576.2,82.4 576.2,81.9 576.2,81.4 576.2,80.9 576.2,80.4 576.2,79.9 576.2,79.4 576.2,78.9 576.2,78.4 576.2,77.9 576.2,77.4 576.2,76.9 576.2,76.4 576.2,75.9 576.2,75.4 576.1,74.9 575.8,74.4 575.5,73.9 575.2,73.4 574.9,72.9 574.6,72.4 574.3,71.9 573.9,71.4 573.6,70.9 573.3,70.4 572.9,69.9 572.7,69.4 572.4,68.9 572.2,68.4 572.0,67.9 571.8,67.4 571.7,66.9 571.7,66.4 571.7,65.9 571.7,65.4 571.8,64.9 571.9,64.4 572.0,63.9 572.1,63.4 572.2,62.9 572.4,62.4 572.5,61.9 572.6,61.4 572.8,60.9 572.8,60.4 572.9,59.9 572.9,59.4 573.0,58.9 572.9,58.4 572.9,57.9 572.9,57.4 572.8,56.9 572.7,56.4 572.6,55.9 572.5,55.4 572.4,54.9 572.3,54.4 572.1,53.9 572.0,53.4 571.8,52.9 571.6,52.4 571.4,51.9 571.1,51.4 570.9,50.9 570.7,50.4 570.6,49.9 570.4,49.4 570.2,48.9 570.1,48.4 570.0,47.9 569.9,47.4 569.9,46.9 569.9,46.4 569.9,45.9 570.0,45.4 570.0,44.9 570.0,44.4 570.1,43.9 570.3,43.4 570.4,42.9 570.7,42.4 570.9,41.9 571.1,41.4 571.4,40.9 571.6,40.4 571.9,39.9 572.2,39.4 572.5,38.9 572.8,38.4 573.2,37.9 573.5,37.4 573.9,36.9 574.3,36.4 574.7,35.9 575.0,35.4 575.3,34.9 575.7,34.4 575.9,33.9 576.2,33.4 576.2,32.9 576.2,32.4 576.2,31.9 576.2,31.4 576.2,30.9 576.2,30.4 576.2,29.9 576.2,29.4 576.2,28.9 576.2,28.4 576.2,27.9 576.2,27.4 576.2,26.9 576.2,26.4 576.2,25.9 576.2,25.4 576.2,24.9 576.2,24.4 576.2,23.9Z" fill="#d69fba"/><line x1="567.70" x2="584.70" y1="51.6" y2="51.6" stroke="#5f0a2d" stroke-width="1.1" stroke-opacity="0.75"/><circle cx="576.20" cy="42.90" r="3.0" fill="#a0375f"/><circle cx="576.20" cy="51.70" r="3.0" fill="#a0375f"/><circle cx="576.20" cy="66.40" r="3.0" fill="#a0375f"/><text transform="translate(577.20,23.0) scale(1.1,1)" font-size="14.5" text-anchor="middle" fill="#1a1a1a">d</text><path d="M604.4,94.6 605.6,95.1 605.7,95.6 605.7,96.1 605.7,96.6 605.7,97.1 605.7,97.6 605.7,98.1 605.8,98.6 606.0,99.1 606.2,99.6 606.5,100.1 606.7,100.6 607.0,101.1 607.3,101.6 607.7,102.1 608.0,102.6 608.4,103.1 608.7,103.6 609.1,104.1 609.5,104.6 609.8,105.1 610.1,105.6 610.5,106.1 610.7,106.6 611.0,107.1 611.2,107.6 611.4,108.1 611.6,108.6 611.7,109.1 611.8,109.6 611.8,110.1 611.9,110.6 611.9,111.0 611.8,111.5 611.8,112.0 611.8,112.5 611.7,113.0 611.6,113.5 611.4,114.0 611.2,114.5 610.9,115.0 610.6,115.5 610.2,116.0 609.9,116.5 609.4,117.0 609.0,117.5 608.6,118.0 608.2,118.5 608.0,119.0 607.9,119.5 607.9,120.0 608.1,120.5 608.3,121.0 608.5,121.5 608.8,122.0 609.0,122.5 609.3,123.0 609.5,123.5 609.7,124.0 609.9,124.5 610.0,125.0 610.0,125.5 610.1,126.0 610.1,126.5 610.1,127.0 610.0,127.5 610.0,128.0 609.9,128.5 609.8,129.0 609.6,129.5 609.3,130.0 609.1,130.5 608.7,131.0 608.4,131.5 608.1,132.0 607.7,132.5 607.3,133.0 607.0,133.5 606.7,134.0 606.4,134.5 606.3,135.0 606.1,135.5 606.0,136.0 605.9,136.5 605.8,137.0 605.8,137.5 605.7,138.0 605.7,138.5 605.7,139.0 605.7,139.5 605.7,140.0 605.7,140.5 605.7,141.0 605.7,141.5 605.7,142.0 605.7,142.5 605.3,143.0 604.4,143.2 604.4,143.2 603.5,143.0 603.1,142.5 603.1,142.0 603.1,141.5 603.1,141.0 603.1,140.5 603.1,140.0 603.1,139.5 603.1,139.0 603.1,138.5 603.1,138.0 603.0,137.5 603.0,137.0 602.9,136.5 602.8,136.0 602.7,135.5 602.5,135.0 602.4,134.5 602.1,134.0 601.8,133.5 601.5,133.0 601.1,132.5 600.7,132.0 600.4,131.5 600.1,131.0 599.7,130.5 599.5,130.0 599.2,129.5 599.0,129.0 598.9,128.5 598.8,128.0 598.8,127.5 598.7,127.0 598.7,126.5 598.7,126.0 598.8,125.5 598.8,125.0 598.9,124.5 599.1,124.0 599.3,123.5 599.5,123.0 599.8,122.5 600.0,122.0 600.3,121.5 600.5,121.0 600.7,120.5 600.9,120.0 600.9,119.5 600.8,119.0 600.6,118.5 600.2,118.0 599.8,117.5 599.4,117.0 598.9,116.5 598.6,116.0 598.2,115.5 597.9,115.0 597.6,114.5 597.4,114.0 597.2,113.5 597.1,113.0 597.0,112.5 597.0,112.0 597.0,111.5 596.9,111.0 596.9,110.6 597.0,110.1 597.0,109.6 597.1,109.1 597.2,108.6 597.4,108.1 597.6,107.6 597.8,107.1 598.1,106.6 598.3,106.1 598.7,105.6 599.0,105.1 599.3,104.6 599.7,104.1 600.1,103.6 600.4,103.1 600.8,102.6 601.1,102.1 601.5,101.6 601.8,101.1 602.1,100.6 602.3,100.1 602.6,99.6 602.8,99.1 603.0,98.6 603.1,98.1 603.1,97.6 603.1,97.1 603.1,96.6 603.1,96.1 603.1,95.6 603.2,95.1 604.4,94.6Z" fill="#1e4605"/><path d="M604.4,94.6 604.4,95.1 604.4,95.6 604.4,96.1 604.4,96.6 604.4,97.1 604.4,97.6 604.4,98.1 604.4,98.6 604.4,99.1 604.4,99.6 604.4,100.1 604.4,100.6 604.4,101.1 604.4,101.6 604.4,102.1 604.5,102.6 604.9,103.1 605.2,103.6 605.5,104.1 605.9,104.6 606.2,105.1 606.6,105.6 607.0,106.1 607.3,106.6 607.7,107.1 608.0,107.6 608.3,108.1 608.5,108.6 608.7,109.1 608.8,109.6 608.9,110.1 609.0,110.6 609.0,111.0 608.9,111.5 608.9,112.0 608.8,112.5 608.7,113.0 608.4,113.5 608.1,114.0 607.7,114.5 607.3,115.0 606.9,115.5 606.5,116.0 606.1,116.5 605.7,117.0 605.5,117.5 605.3,118.0 605.1,118.5 605.0,119.0 605.0,119.5 605.0,120.0 605.1,120.5 605.2,121.0 605.4,121.5 605.6,122.0 605.8,122.5 606.0,123.0 606.3,123.5 606.5,124.0 606.8,124.5 607.0,125.0 607.1,125.5 607.2,126.0 607.2,126.5 607.2,127.0 607.1,127.5 607.1,128.0 606.9,128.5 606.6,129.0 606.2,129.5 605.9,130.0 605.6,130.5 605.2,131.0 604.9,131.5 604.5,132.0 604.4,132.5 604.4,133.0 604.4,133.5 604.4,134.0 604.4,134.5 604.4,135.0 604.4,135.5 604.4,136.0 604.4,136.5 604.4,137.0 604.4,137.5 604.4,138.0 604.4,138.5 604.4,139.0 604.4,139.5 604.4,140.0 604.4,140.5 604.4,141.0 604.4,141.5 604.4,142.0 604.4,142.5 604.4,143.0 604.4,143.2 604.4,143.2 604.4,143.0 604.4,142.5 604.4,142.0 604.4,141.5 604.4,141.0 604.4,140.5 604.4,140.0 604.4,139.5 604.4,139.0 604.4,138.5 604.4,138.0 604.4,137.5 604.4,137.0 604.4,136.5 604.4,136.0 604.4,135.5 604.4,135.0 604.4,134.5 604.4,134.0 604.4,133.5 604.4,133.0 604.4,132.5 604.3,132.0 603.9,131.5 603.6,131.0 603.2,130.5 602.9,130.0 602.6,129.5 602.2,129.0 601.9,128.5 601.7,128.0 601.7,127.5 601.6,127.0 601.6,126.5 601.6,126.0 601.7,125.5 601.8,125.0 602.0,124.5 602.3,124.0 602.5,123.5 602.8,123.0 603.0,122.5 603.2,122.0 603.4,121.5 603.6,121.0 603.7,120.5 603.8,120.0 603.8,119.5 603.8,119.0 603.7,118.5 603.5,118.0 603.3,117.5 603.1,117.0 602.7,116.5 602.3,116.0 601.9,115.5 601.5,115.0 601.1,114.5 600.7,114.0 600.4,113.5 600.1,113.0 600.0,112.5 599.9,112.0 599.9,111.5 599.8,111.0 599.8,110.6 599.9,110.1 600.0,109.6 600.1,109.1 600.3,108.6 600.5,108.1 600.8,107.6 601.1,107.1 601.5,106.6 601.8,106.1 602.2,105.6 602.6,105.1 602.9,104.6 603.3,104.1 603.6,103.6 603.9,103.1 604.3,102.6 604.4,102.1 604.4,101.6 604.4,101.1 604.4,100.6 604.4,100.1 604.4,99.6 604.4,99.1 604.4,98.6 604.4,98.1 604.4,97.6 604.4,97.1 604.4,96.6 604.4,96.1 604.4,95.6 604.4,95.1 604.4,94.6Z" fill="#b4cda0"/><line x1="601.40" x2="607.40" y1="110.2" y2="110.2" stroke="#1e4605" stroke-width="1" stroke-dasharray="3,2"/><line x1="601.40" x2="607.40" y1="112.8" y2="112.8" stroke="#1e4605" stroke-width="0.8" stroke-dasharray="1,1.5"/><circle cx="598.10" cy="109.70" r="3.3" fill="#5f872d"/><circle cx="611.20" cy="112.80" r="3.3" fill="#5f872d"/><circle cx="604.40" cy="127.50" r="3.2" fill="#5f872d"/><text transform="translate(604.40,93.2) scale(1.1,1)" font-size="14.5" text-anchor="middle" fill="#1a1a1a">b</text><path d="M632.8,121.7 634.0,122.2 634.1,122.7 634.1,123.2 634.1,123.7 634.1,124.2 634.1,124.7 634.1,125.2 634.2,125.7 634.3,126.2 634.5,126.7 634.8,127.2 635.1,127.7 635.5,128.2 635.9,128.7 636.3,129.2 636.8,129.7 637.4,130.2 637.9,130.7 638.4,131.2 638.9,131.7 639.4,132.2 639.8,132.7 640.2,133.2 640.6,133.7 640.9,134.2 641.1,134.7 641.3,135.2 641.5,135.7 641.6,136.2 641.7,136.7 641.7,137.2 641.7,137.7 641.6,138.2 641.5,138.7 641.5,139.2 641.5,139.7 641.5,140.2 641.5,140.7 641.6,141.2 641.7,141.7 641.7,142.2 641.7,142.7 641.7,143.2 641.6,143.7 641.6,144.2 641.5,144.7 641.5,145.2 641.5,145.7 641.5,146.2 641.6,146.7 641.7,147.2 641.7,147.7 641.7,148.2 641.7,148.7 641.6,149.2 641.6,149.7 641.5,150.2 641.5,150.7 641.5,151.2 641.5,151.7 641.6,152.2 641.6,152.7 641.7,153.2 641.6,153.7 641.5,154.2 641.3,154.7 640.9,155.2 640.4,155.7 639.9,156.2 639.3,156.7 638.7,157.2 638.1,157.7 637.5,158.2 636.9,158.7 636.4,159.2 635.9,159.7 635.5,160.2 635.0,160.7 634.7,161.2 634.4,161.7 634.2,162.2 634.2,162.7 634.2,163.2 634.2,163.7 634.2,164.2 634.2,164.7 634.2,165.2 634.1,165.7 634.1,166.2 634.1,166.7 634.1,167.2 633.7,167.7 632.8,167.9 632.8,167.9 631.9,167.7 631.5,167.2 631.5,166.7 631.5,166.2 631.5,165.7 631.4,165.2 631.4,164.7 631.4,164.2 631.4,163.7 631.4,163.2 631.4,162.7 631.4,162.2 631.2,161.7 630.9,161.2 630.6,160.7 630.1,160.2 629.7,159.7 629.2,159.2 628.7,158.7 628.1,158.2 627.5,157.7 626.9,157.2 626.3,156.7 625.7,156.2 625.2,155.7 624.7,155.2 624.3,154.7 624.1,154.2 624.0,153.7 623.9,153.2 624.0,152.7 624.0,152.2 624.1,151.7 624.1,151.2 624.1,150.7 624.1,150.2 624.0,149.7 624.0,149.2 623.9,148.7 623.9,148.2 623.9,147.7 623.9,147.2 624.0,146.7 624.1,146.2 624.1,145.7 624.1,145.2 624.1,144.7 624.0,144.2 624.0,143.7 623.9,143.2 623.9,142.7 623.9,142.2 623.9,141.7 624.0,141.2 624.1,140.7 624.1,140.2 624.1,139.7 624.1,139.2 624.1,138.7 624.0,138.2 623.9,137.7 623.9,137.2 623.9,136.7 624.0,136.2 624.1,135.7 624.3,135.2 624.5,134.7 624.7,134.2 625.0,133.7 625.4,133.2 625.8,132.7 626.2,132.2 626.7,131.7 627.2,131.2 627.7,130.7 628.2,130.2 628.8,129.7 629.3,129.2 629.7,128.7 630.1,128.2 630.5,127.7 630.8,127.2 631.1,126.7 631.3,126.2 631.4,125.7 631.5,125.2 631.5,124.7 631.5,124.2 631.5,123.7 631.5,123.2 631.5,122.7 631.6,122.2 632.8,121.7Z" fill="#054b32"/><path d="M632.8,121.7 632.8,122.2 632.8,122.7 632.8,123.2 632.8,123.7 632.8,124.2 632.8,124.7 632.8,125.2 632.8,125.7 632.8,126.2 632.8,126.7 632.8,127.2 632.8,127.7 632.8,128.2 632.8,128.7 632.8,129.2 633.0,129.7 633.4,130.2 633.8,130.7 634.2,131.2 634.7,131.7 635.3,132.2 635.8,132.7 636.3,133.2 636.8,133.7 637.3,134.2 637.7,134.7 638.1,135.2 638.4,135.7 638.6,136.2 638.8,136.7 638.8,137.2 638.7,137.7 638.7,138.2 638.6,138.7 638.6,139.2 638.6,139.7 638.6,140.2 638.6,140.7 638.7,141.2 638.8,141.7 638.8,142.2 638.8,142.7 638.8,143.2 638.7,143.7 638.6,144.2 638.6,144.7 638.6,145.2 638.6,145.7 638.6,146.2 638.7,146.7 638.7,147.2 638.8,147.7 638.8,148.2 638.8,148.7 638.7,149.2 638.7,149.7 638.6,150.2 638.6,150.7 638.6,151.2 638.6,151.7 638.6,152.2 638.7,152.7 638.8,153.2 638.3,153.7 637.8,154.2 637.2,154.7 636.6,155.2 636.0,155.7 635.4,156.2 634.8,156.7 634.3,157.2 633.8,157.7 633.4,158.2 632.9,158.7 632.8,159.2 632.8,159.7 632.8,160.2 632.8,160.7 632.8,161.2 632.8,161.7 632.8,162.2 632.8,162.7 632.8,163.2 632.8,163.7 632.8,164.2 632.8,164.7 632.8,165.2 632.8,165.7 632.8,166.2 632.8,166.7 632.8,167.2 632.8,167.7 632.8,167.9 632.8,167.9 632.8,167.7 632.8,167.2 632.8,166.7 632.8,166.2 632.8,165.7 632.8,165.2 632.8,164.7 632.8,164.2 632.8,163.7 632.8,163.2 632.8,162.7 632.8,162.2 632.8,161.7 632.8,161.2 632.8,160.7 632.8,160.2 632.8,159.7 632.8,159.2 632.7,158.7 632.2,158.2 631.8,157.7 631.3,157.2 630.8,156.7 630.2,156.2 629.6,155.7 629.0,155.2 628.4,154.7 627.8,154.2 627.3,153.7 626.8,153.2 626.9,152.7 627.0,152.2 627.0,151.7 627.0,151.2 627.0,150.7 627.0,150.2 626.9,149.7 626.9,149.2 626.8,148.7 626.8,148.2 626.8,147.7 626.9,147.2 626.9,146.7 627.0,146.2 627.0,145.7 627.0,145.2 627.0,144.7 627.0,144.2 626.9,143.7 626.8,143.2 626.8,142.7 626.8,142.2 626.8,141.7 626.9,141.2 627.0,140.7 627.0,140.2 627.0,139.7 627.0,139.2 627.0,138.7 626.9,138.2 626.9,137.7 626.8,137.2 626.8,136.7 627.0,136.2 627.2,135.7 627.5,135.2 627.9,134.7 628.3,134.2 628.8,133.7 629.3,133.2 629.8,132.7 630.3,132.2 630.9,131.7 631.4,131.2 631.8,130.7 632.2,130.2 632.6,129.7 632.8,129.2 632.8,128.7 632.8,128.2 632.8,127.7 632.8,127.2 632.8,126.7 632.8,126.2 632.8,125.7 632.8,125.2 632.8,124.7 632.8,124.2 632.8,123.7 632.8,123.2 632.8,122.7 632.8,122.2 632.8,121.7Z" fill="#8cc8af"/><line x1="626.30" x2="639.30" y1="145.1" y2="145.1" stroke="#054b32" stroke-width="1.1" stroke-opacity="0.75"/><circle cx="632.80" cy="136.40" r="3.0" fill="#288264"/><circle cx="632.80" cy="145.10" r="3.0" fill="#288264"/><circle cx="632.80" cy="153.60" r="3.0" fill="#288264"/><text transform="translate(632.80,120.9) scale(1.1,1)" font-size="14.5" text-anchor="middle" fill="#1a1a1a">a</text><path d="M661.0,91.6 662.2,92.1 662.3,92.6 662.3,93.1 662.3,93.6 662.3,94.1 662.3,94.6 662.4,95.1 663.0,95.6 663.7,96.1 664.4,96.6 665.2,97.1 665.9,97.6 666.6,98.1 667.4,98.6 668.0,99.1 668.6,99.6 669.2,100.1 669.6,100.6 669.9,101.1 670.1,101.6 670.2,102.1 670.3,102.5 670.3,103.0 670.4,103.5 670.4,104.0 670.3,104.5 670.3,105.0 670.2,105.5 670.2,106.0 670.2,106.5 670.2,107.0 670.2,107.5 670.3,108.0 670.3,108.5 670.4,109.0 670.4,109.5 670.4,110.0 670.3,110.5 670.3,111.0 670.2,111.5 670.1,112.0 669.9,112.5 669.6,113.0 669.2,113.5 668.7,114.0 668.2,114.5 667.6,115.0 666.9,115.5 666.2,116.0 665.4,116.5 664.6,117.0 663.8,117.5 662.9,118.0 662.6,118.5 662.5,119.0 662.4,119.5 662.4,120.0 662.3,120.5 662.3,121.0 662.3,121.5 662.3,122.0 662.3,122.5 661.9,123.0 661.0,123.2 661.0,123.2 660.1,123.0 659.7,122.5 659.7,122.0 659.7,121.5 659.7,121.0 659.7,120.5 659.6,120.0 659.6,119.5 659.5,119.0 659.4,118.5 659.1,118.0 658.2,117.5 657.4,117.0 656.6,116.5 655.8,116.0 655.1,115.5 654.4,115.0 653.8,114.5 653.3,114.0 652.8,113.5 652.4,113.0 652.1,112.5 651.9,112.0 651.8,111.5 651.7,111.0 651.7,110.5 651.6,110.0 651.6,109.5 651.6,109.0 651.7,108.5 651.7,108.0 651.8,107.5 651.8,107.0 651.8,106.5 651.8,106.0 651.8,105.5 651.7,105.0 651.7,104.5 651.6,104.0 651.6,103.5 651.7,103.0 651.7,102.5 651.8,102.1 651.9,101.6 652.1,101.1 652.4,100.6 652.8,100.1 653.4,99.6 654.0,99.1 654.6,98.6 655.4,98.1 656.1,97.6 656.8,97.1 657.6,96.6 658.3,96.1 659.0,95.6 659.6,95.1 659.7,94.6 659.7,94.1 659.7,93.6 659.7,93.1 659.7,92.6 659.8,92.1 661.0,91.6Z" fill="#19325f"/><path d="M661.0,91.6 661.0,92.1 661.0,92.6 661.0,93.1 661.0,93.6 661.0,94.1 661.0,94.6 661.0,95.1 661.0,95.6 661.0,96.1 661.0,96.6 661.0,97.1 661.0,97.6 661.5,98.1 662.2,98.6 662.9,99.1 663.7,99.6 664.4,100.1 665.2,100.6 665.9,101.1 666.5,101.6 667.1,102.1 667.4,102.5 667.4,103.0 667.5,103.5 667.4,104.0 667.4,104.5 667.4,105.0 667.3,105.5 667.3,106.0 667.3,106.5 667.3,107.0 667.3,107.5 667.3,108.0 667.4,108.5 667.4,109.0 667.5,109.5 667.5,110.0 667.4,110.5 667.4,111.0 667.1,111.5 666.6,112.0 666.1,112.5 665.4,113.0 664.7,113.5 663.9,114.0 663.1,114.5 662.3,115.0 661.4,115.5 661.0,116.0 661.0,116.5 661.0,117.0 661.0,117.5 661.0,118.0 661.0,118.5 661.0,119.0 661.0,119.5 661.0,120.0 661.0,120.5 661.0,121.0 661.0,121.5 661.0,122.0 661.0,122.5 661.0,123.0 661.0,123.2 661.0,123.2 661.0,123.0 661.0,122.5 661.0,122.0 661.0,121.5 661.0,121.0 661.0,120.5 661.0,120.0 661.0,119.5 661.0,119.0 661.0,118.5 661.0,118.0 661.0,117.5 661.0,117.0 661.0,116.5 661.0,116.0 660.6,115.5 659.7,115.0 658.9,114.5 658.1,114.0 657.3,113.5 656.6,113.0 655.9,112.5 655.4,112.0 654.9,111.5 654.6,111.0 654.6,110.5 654.5,110.0 654.5,109.5 654.6,109.0 654.6,108.5 654.7,108.0 654.7,107.5 654.7,107.0 654.7,106.5 654.7,106.0 654.7,105.5 654.6,105.0 654.6,104.5 654.6,104.0 654.5,103.5 654.6,103.0 654.6,102.5 654.9,102.1 655.5,101.6 656.1,101.1 656.8,100.6 657.6,100.1 658.3,99.6 659.1,99.1 659.8,98.6 660.5,98.1 661.0,97.6 661.0,97.1 661.0,96.6 661.0,96.1 661.0,95.6 661.0,95.1 661.0,94.6 661.0,94.1 661.0,93.6 661.0,93.1 661.0,92.6 661.0,92.1 661.0,91.6Z" fill="#aabee1"/><line x1="653.00" x2="669.00" y1="107.3" y2="107.3" stroke="#19325f" stroke-width="1" stroke-dasharray="3,2"/><circle cx="661.00" cy="101.80" r="3.3" fill="#416eaf"/><circle cx="661.00" cy="106.60" r="3.3" fill="#416eaf"/><circle cx="661.00" cy="111.70" r="3.3" fill="#416eaf"/><text transform="translate(661.00,89.8) scale(1.1,1)" font-size="14.5" text-anchor="middle" fill="#1a1a1a">b</text><path d="M529.2,7.5 V183 H680.6" fill="none" stroke="#2e2e2e" stroke-width="1.2"/><line x1="522.0" x2="529.2" y1="183.00" y2="183.00" stroke="#2e2e2e" stroke-width="1.1"/><text transform="translate(519.30,185.75) scale(1.12,1)" font-size="8.9" text-anchor="end" fill="#1a1a1a" stroke="#1a1a1a" stroke-width="0.15">0</text><line x1="522.0" x2="529.2" y1="124.50" y2="124.50" stroke="#2e2e2e" stroke-width="1.1"/><text transform="translate(519.30,127.25) scale(1.12,1)" font-size="8.9" text-anchor="end" fill="#1a1a1a" stroke="#1a1a1a" stroke-width="0.15">2</text><line x1="522.0" x2="529.2" y1="66.00" y2="66.00" stroke="#2e2e2e" stroke-width="1.1"/><text transform="translate(519.30,68.75) scale(1.12,1)" font-size="8.9" text-anchor="end" fill="#1a1a1a" stroke="#1a1a1a" stroke-width="0.15">4</text><line x1="522.0" x2="529.2" y1="7.50" y2="7.50" stroke="#2e2e2e" stroke-width="1.1"/><text transform="translate(519.30,10.25) scale(1.12,1)" font-size="8.9" text-anchor="end" fill="#1a1a1a" stroke="#1a1a1a" stroke-width="0.15">6</text><line x1="548.3" x2="548.3" y1="183" y2="190.2" stroke="#2e2e2e" stroke-width="1.1"/><text transform="translate(551.50,202.00) scale(1.1,1) rotate(-45)" font-size="11.0" text-anchor="end" fill="#1a1a1a">Control</text><line x1="576.4" x2="576.4" y1="183" y2="190.2" stroke="#2e2e2e" stroke-width="1.1"/><text transform="translate(579.60,202.00) scale(1.1,1) rotate(-45)" font-size="11.0" text-anchor="end" fill="#1a1a1a">HKL</text><line x1="604.5" x2="604.5" y1="183" y2="190.2" stroke="#2e2e2e" stroke-width="1.1"/><text transform="translate(607.70,202.00) scale(1.1,1) rotate(-45)" font-size="11.0" text-anchor="end" fill="#1a1a1a">ACE 0.5 μM</text><line x1="632.8" x2="632.8" y1="183" y2="190.2" stroke="#2e2e2e" stroke-width="1.1"/><text transform="translate(636.00,202.00) scale(1.1,1) rotate(-45)" font-size="11.0" text-anchor="end" fill="#1a1a1a">ACE 1 μM</text><line x1="661.2" x2="661.2" y1="183" y2="190.2" stroke="#2e2e2e" stroke-width="1.1"/><text transform="translate(664.40,202.00) scale(1.1,1) rotate(-45)" font-size="11.0" text-anchor="end" fill="#1a1a1a">ACE 1 μM+ HKL</text><text transform="translate(501.1,97.3) scale(1.1,1) rotate(-90)" font-size="11.0" text-anchor="middle" fill="#1a1a1a">GPx activity (U/ mg protein)</text></g>
<g><path d="M59.3,353.1 60.5,353.6 60.6,354.1 60.6,354.6 60.6,355.1 60.6,355.6 60.6,356.1 60.6,356.6 60.6,357.1 60.7,357.6 60.8,358.1 60.9,358.6 61.1,359.1 61.3,359.6 61.5,360.1 61.8,360.6 62.0,361.1 62.3,361.6 62.6,362.1 62.9,362.6 63.2,363.1 63.5,363.6 63.9,364.1 64.2,364.6 64.4,365.1 64.7,365.6 65.0,366.1 65.2,366.6 65.5,367.1 65.7,367.6 65.9,368.1 66.0,368.6 66.2,369.1 66.3,369.6 66.5,370.1 66.6,370.6 66.6,371.1 66.7,371.6 66.7,372.1 66.6,372.6 66.6,373.1 66.6,373.6 66.5,374.1 66.5,374.6 66.4,375.1 66.3,375.6 66.2,376.1 66.0,376.6 65.9,377.1 65.8,377.6 65.7,378.1 65.7,378.6 65.7,379.1 65.8,379.6 65.9,380.1 66.0,380.6 66.1,381.1 66.3,381.6 66.5,382.1 66.6,382.6 66.7,383.1 66.9,383.6 67.0,384.1 67.1,384.6 67.2,385.1 67.3,385.6 67.5,386.1 67.6,386.6 67.7,387.1 67.8,387.6 67.9,388.1 67.9,388.6 68.0,389.1 68.0,389.6 68.0,390.1 68.0,390.6 68.0,391.1 68.0,391.6 68.0,392.1 68.0,392.6 68.0,393.1 67.9,393.6 67.8,394.1 67.7,394.6 67.6,395.1 67.4,395.6 67.3,396.1 67.1,396.6 66.9,397.1 66.7,397.6 66.4,398.1 66.1,398.6 65.8,399.1 65.5,399.6 65.2,400.1 64.9,400.6 64.5,401.1 64.2,401.6 63.8,402.1 63.5,402.6 63.1,403.1 62.8,403.6 62.5,404.1 62.3,404.6 62.0,405.1 61.8,405.6 61.5,406.1 61.4,406.6 61.2,407.1 61.1,407.6 61.0,408.1 60.9,408.6 60.8,409.1 60.8,409.6 60.7,410.1 60.7,410.6 60.6,411.1 60.6,411.6 60.6,412.1 60.6,412.6 60.6,413.1 60.2,413.6 59.3,413.8 59.3,413.8 58.4,413.6 58.0,413.1 58.0,412.6 58.0,412.1 58.0,411.6 58.0,411.1 57.9,410.6 57.9,410.1 57.8,409.6 57.8,409.1 57.7,408.6 57.6,408.1 57.5,407.6 57.4,407.1 57.2,406.6 57.1,406.1 56.8,405.6 56.6,405.1 56.3,404.6 56.1,404.1 55.8,403.6 55.5,403.1 55.1,402.6 54.8,402.1 54.4,401.6 54.1,401.1 53.7,400.6 53.4,400.1 53.1,399.6 52.8,399.1 52.5,398.6 52.2,398.1 51.9,397.6 51.7,397.1 51.5,396.6 51.3,396.1 51.2,395.6 51.0,395.1 50.9,394.6 50.8,394.1 50.7,393.6 50.6,393.1 50.6,392.6 50.6,392.1 50.6,391.6 50.6,391.1 50.6,390.6 50.6,390.1 50.6,389.6 50.6,389.1 50.7,388.6 50.7,388.1 50.8,387.6 50.9,387.1 51.0,386.6 51.1,386.1 51.3,385.6 51.4,385.1 51.5,384.6 51.6,384.1 51.7,383.6 51.9,383.1 52.0,382.6 52.1,382.1 52.3,381.6 52.5,381.1 52.6,380.6 52.7,380.1 52.8,379.6 52.9,379.1 52.9,378.6 52.9,378.1 52.8,377.6 52.7,377.1 52.6,376.6 52.4,376.1 52.3,375.6 52.2,375.1 52.1,374.6 52.1,374.1 52.0,373.6 52.0,373.1 52.0,372.6 51.9,372.1 51.9,371.6 52.0,371.1 52.0,370.6 52.1,370.1 52.3,369.6 52.4,369.1 52.6,368.6 52.7,368.1 52.9,367.6 53.1,367.1 53.4,366.6 53.6,366.1 53.9,365.6 54.2,365.1 54.4,364.6 54.7,364.1 55.1,363.6 55.4,363.1 55.7,362.6 56.0,362.1 56.3,361.6 56.6,361.1 56.8,360.6 57.1,360.1 57.3,359.6 57.5,359.1 57.7,358.6 57.8,358.1 57.9,357.6 58.0,357.1 58.0,356.6 58.0,356.1 58.0,355.6 58.0,355.1 58.0,354.6 58.0,354.1 58.1,353.6 59.3,353.1Z" fill="#731f08"/><path d="M59.3,353.1 59.3,353.6 59.3,354.1 59.3,354.6 59.3,355.1 59.3,355.6 59.3,356.1 59.3,356.6 59.3,357.1 59.3,357.6 59.3,358.1 59.3,358.6 59.3,359.1 59.3,359.6 59.3,360.1 59.3,360.6 59.3,361.1 59.3,361.6 59.3,362.1 59.5,362.6 59.8,363.1 60.1,363.6 60.4,364.1 60.7,364.6 61.1,365.1 61.4,365.6 61.7,366.1 62.0,366.6 62.2,367.1 62.5,367.6 62.7,368.1 62.9,368.6 63.1,369.1 63.3,369.6 63.5,370.1 63.6,370.6 63.7,371.1 63.8,371.6 63.8,372.1 63.7,372.6 63.7,373.1 63.7,373.6 63.6,374.1 63.5,374.6 63.4,375.1 63.3,375.6 63.2,376.1 63.0,376.6 62.9,377.1 62.9,377.6 62.8,378.1 62.8,378.6 62.8,379.1 62.8,379.6 62.9,380.1 63.0,380.6 63.1,381.1 63.3,381.6 63.4,382.1 63.6,382.6 63.7,383.1 63.9,383.6 64.0,384.1 64.1,384.6 64.2,385.1 64.4,385.6 64.5,386.1 64.6,386.6 64.7,387.1 64.8,387.6 64.9,388.1 65.0,388.6 65.1,389.1 65.1,389.6 65.1,390.1 65.1,390.6 65.1,391.1 65.1,391.6 65.1,392.1 65.1,392.6 65.1,393.1 65.0,393.6 64.9,394.1 64.7,394.6 64.6,395.1 64.4,395.6 64.2,396.1 63.9,396.6 63.6,397.1 63.3,397.6 63.0,398.1 62.7,398.6 62.4,399.1 62.0,399.6 61.7,400.1 61.3,400.6 61.0,401.1 60.6,401.6 60.3,402.1 60.0,402.6 59.8,403.1 59.5,403.6 59.3,404.1 59.3,404.6 59.3,405.1 59.3,405.6 59.3,406.1 59.3,406.6 59.3,407.1 59.3,407.6 59.3,408.1 59.3,408.6 59.3,409.1 59.3,409.6 59.3,410.1 59.3,410.6 59.3,411.1 59.3,411.6 59.3,412.1 59.3,412.6 59.3,413.1 59.3,413.6 59.3,413.8 59.3,413.8 59.3,413.6 59.3,413.1 59.3,412.6 59.3,412.1 59.3,411.6 59.3,411.1 59.3,410.6 59.3,410.1 59.3,409.6 59.3,409.1 59.3,408.6 59.3,408.1 59.3,407.6 59.3,407.1 59.3,406.6 59.3,406.1 59.3,405.6 59.3,405.1 59.3,404.6 59.3,404.1 59.1,403.6 58.8,403.1 58.6,402.6 58.3,402.1 58.0,401.6 57.6,401.1 57.3,400.6 56.9,400.1 56.6,399.6 56.2,399.1 55.9,398.6 55.6,398.1 55.3,397.6 55.0,397.1 54.7,396.6 54.4,396.1 54.2,395.6 54.0,395.1 53.9,394.6 53.7,394.1 53.6,393.6 53.5,393.1 53.5,392.6 53.5,392.1 53.5,391.6 53.5,391.1 53.5,390.6 53.5,390.1 53.5,389.6 53.5,389.1 53.6,388.6 53.7,388.1 53.8,387.6 53.9,387.1 54.0,386.6 54.1,386.1 54.2,385.6 54.4,385.1 54.5,384.6 54.6,384.1 54.7,383.6 54.9,383.1 55.0,382.6 55.2,382.1 55.3,381.6 55.5,381.1 55.6,380.6 55.7,380.1 55.8,379.6 55.8,379.1 55.8,378.6 55.8,378.1 55.7,377.6 55.7,377.1 55.6,376.6 55.4,376.1 55.3,375.6 55.2,375.1 55.1,374.6 55.0,374.1 54.9,373.6 54.9,373.1 54.9,372.6 54.8,372.1 54.8,371.6 54.9,371.1 55.0,370.6 55.1,370.1 55.3,369.6 55.5,369.1 55.7,368.6 55.9,368.1 56.1,367.6 56.4,367.1 56.6,366.6 56.9,366.1 57.2,365.6 57.5,365.1 57.9,364.6 58.2,364.1 58.5,363.6 58.8,363.1 59.1,362.6 59.3,362.1 59.3,361.6 59.3,361.1 59.3,360.6 59.3,360.1 59.3,359.6 59.3,359.1 59.3,358.6 59.3,358.1 59.3,357.6 59.3,357.1 59.3,356.6 59.3,356.1 59.3,355.6 59.3,355.1 59.3,354.6 59.3,354.1 59.3,353.6 59.3,353.1Z" fill="#dcaa9b"/><line x1="52.30" x2="66.30" y1="385.6" y2="385.6" stroke="#731f08" stroke-width="1.1" stroke-opacity="0.75"/><circle cx="59.30" cy="371.50" r="3.0" fill="#b0573c"/><circle cx="59.30" cy="385.80" r="3.0" fill="#b0573c"/><circle cx="59.30" cy="395.10" r="3.0" fill="#b0573c"/><text transform="translate(59.30,351.2) scale(1.1,1)" font-size="14.5" text-anchor="middle" fill="#1a1a1a">c</text><path d="M87.5,326.9 88.7,327.4 88.8,327.9 88.8,328.4 88.8,328.9 88.8,329.4 88.8,329.9 88.8,330.4 88.8,330.9 88.8,331.4 88.8,331.9 88.8,332.4 88.8,332.9 88.9,333.4 89.0,333.9 89.1,334.4 89.2,334.9 89.4,335.4 89.5,335.9 89.7,336.4 89.9,336.9 90.1,337.4 90.3,337.9 90.6,338.4 90.8,338.9 91.1,339.4 91.4,339.9 91.7,340.4 92.0,340.9 92.3,341.4 92.5,341.9 92.8,342.4 93.0,342.9 93.2,343.4 93.4,343.9 93.5,344.4 93.7,344.9 93.9,345.4 94.0,345.9 94.1,346.4 94.2,346.9 94.2,347.4 94.3,347.9 94.3,348.4 94.4,348.9 94.4,349.4 94.4,349.9 94.5,350.4 94.5,350.9 94.5,351.4 94.4,351.9 94.3,352.4 94.2,352.9 94.0,353.4 93.8,353.9 93.6,354.4 93.4,354.9 93.3,355.4 93.1,355.9 93.0,356.4 92.9,356.9 92.8,357.4 92.7,357.9 92.6,358.4 92.6,358.9 92.5,359.4 92.5,359.9 92.4,360.4 92.5,360.9 92.5,361.4 92.6,361.9 92.8,362.4 92.9,362.9 93.2,363.4 93.4,363.9 93.6,364.4 93.9,364.9 94.1,365.4 94.4,365.9 94.7,366.4 94.9,366.9 95.2,367.4 95.5,367.9 95.8,368.4 96.1,368.9 96.3,369.4 96.5,369.9 96.6,370.4 96.7,370.9 96.9,371.4 97.0,371.9 97.0,372.4 97.1,372.9 97.2,373.4 97.2,373.9 97.3,374.4 97.3,374.9 97.3,375.4 97.3,375.9 97.3,376.4 97.2,376.9 97.2,377.4 97.2,377.9 97.1,378.4 97.1,378.9 97.0,379.4 96.9,379.9 96.8,380.4 96.6,380.9 96.4,381.4 96.2,381.9 96.0,382.4 95.7,382.9 95.4,383.4 95.2,383.9 94.9,384.4 94.6,384.9 94.3,385.4 93.9,385.9 93.6,386.4 93.2,386.9 92.9,387.4 92.5,387.9 92.2,388.4 91.9,388.9 91.5,389.4 91.2,389.9 90.8,390.4 90.5,390.9 90.2,391.4 89.9,391.9 89.6,392.4 89.4,392.9 89.2,393.4 89.1,393.9 89.1,394.4 89.0,394.9 89.0,395.4 89.0,395.9 88.9,396.4 88.9,396.9 88.9,397.4 88.9,397.9 88.8,398.4 88.8,398.9 88.8,399.4 88.8,399.9 88.8,400.4 88.8,400.9 88.8,401.4 88.8,401.9 88.8,402.4 88.8,402.9 88.8,403.4 88.4,403.9 87.5,404.1 87.5,404.1 86.6,403.9 86.2,403.4 86.2,402.9 86.2,402.4 86.2,401.9 86.2,401.4 86.2,400.9 86.2,400.4 86.2,399.9 86.2,399.4 86.2,398.9 86.2,398.4 86.1,397.9 86.1,397.4 86.1,396.9 86.1,396.4 86.0,395.9 86.0,395.4 86.0,394.9 85.9,394.4 85.9,393.9 85.8,393.4 85.6,392.9 85.4,392.4 85.1,391.9 84.8,391.4 84.5,390.9 84.2,390.4 83.8,389.9 83.5,389.4 83.1,388.9 82.8,388.4 82.5,387.9 82.1,387.4 81.8,386.9 81.4,386.4 81.1,385.9 80.7,385.4 80.4,384.9 80.1,384.4 79.8,383.9 79.6,383.4 79.3,382.9 79.0,382.4 78.8,381.9 78.6,381.4 78.4,380.9 78.2,380.4 78.1,379.9 78.0,379.4 77.9,378.9 77.9,378.4 77.8,377.9 77.8,377.4 77.8,376.9 77.7,376.4 77.7,375.9 77.7,375.4 77.7,374.9 77.7,374.4 77.8,373.9 77.8,373.4 77.9,372.9 78.0,372.4 78.0,371.9 78.1,371.4 78.3,370.9 78.4,370.4 78.5,369.9 78.7,369.4 78.9,368.9 79.2,368.4 79.5,367.9 79.8,367.4 80.1,366.9 80.3,366.4 80.6,365.9 80.9,365.4 81.1,364.9 81.4,364.4 81.6,363.9 81.8,363.4 82.1,362.9 82.2,362.4 82.4,361.9 82.5,361.4 82.5,360.9 82.6,360.4 82.5,359.9 82.5,359.4 82.4,358.9 82.4,358.4 82.3,357.9 82.2,357.4 82.1,356.9 82.0,356.4 81.9,355.9 81.7,355.4 81.6,354.9 81.4,354.4 81.2,353.9 81.0,353.4 80.8,352.9 80.7,352.4 80.6,351.9 80.5,351.4 80.5,350.9 80.5,350.4 80.6,349.9 80.6,349.4 80.6,348.9 80.7,348.4 80.7,347.9 80.8,347.4 80.8,346.9 80.9,346.4 81.0,345.9 81.1,345.4 81.3,344.9 81.5,344.4 81.6,343.9 81.8,343.4 82.0,342.9 82.2,342.4 82.5,341.9 82.7,341.4 83.0,340.9 83.3,340.4 83.6,339.9 83.9,339.4 84.2,338.9 84.4,338.4 84.7,337.9 84.9,337.4 85.1,336.9 85.3,336.4 85.5,335.9 85.6,335.4 85.8,334.9 85.9,334.4 86.0,333.9 86.1,333.4 86.2,332.9 86.2,332.4 86.2,331.9 86.2,331.4 86.2,330.9 86.2,330.4 86.2,329.9 86.2,329.4 86.2,328.9 86.2,328.4 86.2,327.9 86.3,327.4 87.5,326.9Z" fill="#5f0a2d"/><path d="M87.5,326.9 87.5,327.4 87.5,327.9 87.5,328.4 87.5,328.9 87.5,329.4 87.5,329.9 87.5,330.4 87.5,330.9 87.5,331.4 87.5,331.9 87.5,332.4 87.5,332.9 87.5,333.4 87.5,333.9 87.5,334.4 87.5,334.9 87.5,335.4 87.5,335.9 87.5,336.4 87.5,336.9 87.5,337.4 87.5,337.9 87.5,338.4 87.6,338.9 87.8,339.4 88.1,339.9 88.3,340.4 88.6,340.9 88.9,341.4 89.2,341.9 89.5,342.4 89.8,342.9 90.0,343.4 90.3,343.9 90.5,344.4 90.6,344.9 90.8,345.4 91.0,345.9 91.1,346.4 91.2,346.9 91.3,347.4 91.4,347.9 91.4,348.4 91.5,348.9 91.5,349.4 91.5,349.9 91.6,350.4 91.6,350.9 91.5,351.4 91.5,351.9 91.3,352.4 91.1,352.9 90.9,353.4 90.7,353.9 90.5,354.4 90.4,354.9 90.2,355.4 90.1,355.9 90.0,356.4 89.9,356.9 89.9,357.4 89.8,357.9 89.7,358.4 89.6,358.9 89.6,359.4 89.6,359.9 89.5,360.4 89.6,360.9 89.6,361.4 89.6,361.9 89.7,362.4 89.9,362.9 90.0,363.4 90.2,363.9 90.4,364.4 90.7,364.9 90.9,365.4 91.2,365.9 91.4,366.4 91.7,366.9 91.9,367.4 92.2,367.9 92.5,368.4 92.8,368.9 93.0,369.4 93.3,369.9 93.5,370.4 93.7,370.9 93.9,371.4 94.0,371.9 94.1,372.4 94.2,372.9 94.3,373.4 94.3,373.9 94.4,374.4 94.4,374.9 94.4,375.4 94.4,375.9 94.4,376.4 94.3,376.9 94.3,377.4 94.2,377.9 94.2,378.4 94.1,378.9 94.0,379.4 93.9,379.9 93.7,380.4 93.5,380.9 93.2,381.4 93.0,381.9 92.7,382.4 92.4,382.9 92.1,383.4 91.8,383.9 91.5,384.4 91.1,384.9 90.8,385.4 90.4,385.9 90.1,386.4 89.7,386.9 89.4,387.4 89.0,387.9 88.7,388.4 88.3,388.9 88.0,389.4 87.7,389.9 87.5,390.4 87.5,390.9 87.5,391.4 87.5,391.9 87.5,392.4 87.5,392.9 87.5,393.4 87.5,393.9 87.5,394.4 87.5,394.9 87.5,395.4 87.5,395.9 87.5,396.4 87.5,396.9 87.5,397.4 87.5,397.9 87.5,398.4 87.5,398.9 87.5,399.4 87.5,399.9 87.5,400.4 87.5,400.9 87.5,401.4 87.5,401.9 87.5,402.4 87.5,402.9 87.5,403.4 87.5,403.9 87.5,404.1 87.5,404.1 87.5,403.9 87.5,403.4 87.5,402.9 87.5,402.4 87.5,401.9 87.5,401.4 87.5,400.9 87.5,400.4 87.5,399.9 87.5,399.4 87.5,398.9 87.5,398.4 87.5,397.9 87.5,397.4 87.5,396.9 87.5,396.4 87.5,395.9 87.5,395.4 87.5,394.9 87.5,394.4 87.5,393.9 87.5,393.4 87.5,392.9 87.5,392.4 87.5,391.9 87.5,391.4 87.5,390.9 87.5,390.4 87.3,389.9 87.0,389.4 86.7,388.9 86.3,388.4 86.0,387.9 85.6,387.4 85.3,386.9 84.9,386.4 84.6,385.9 84.2,385.4 83.9,384.9 83.5,384.4 83.2,383.9 82.9,383.4 82.6,382.9 82.3,382.4 82.0,381.9 81.8,381.4 81.5,380.9 81.3,380.4 81.1,379.9 81.0,379.4 80.9,378.9 80.8,378.4 80.8,377.9 80.7,377.4 80.7,376.9 80.6,376.4 80.6,375.9 80.6,375.4 80.6,374.9 80.6,374.4 80.7,373.9 80.7,373.4 80.8,372.9 80.9,372.4 81.0,371.9 81.1,371.4 81.3,370.9 81.5,370.4 81.7,369.9 82.0,369.4 82.2,368.9 82.5,368.4 82.8,367.9 83.1,367.4 83.3,366.9 83.6,366.4 83.8,365.9 84.1,365.4 84.3,364.9 84.6,364.4 84.8,363.9 85.0,363.4 85.1,362.9 85.3,362.4 85.4,361.9 85.4,361.4 85.4,360.9 85.5,360.4 85.4,359.9 85.4,359.4 85.4,358.9 85.3,358.4 85.2,357.9 85.1,357.4 85.1,356.9 85.0,356.4 84.9,355.9 84.8,355.4 84.6,354.9 84.5,354.4 84.3,353.9 84.1,353.4 83.9,352.9 83.7,352.4 83.5,351.9 83.5,351.4 83.4,350.9 83.4,350.4 83.5,349.9 83.5,349.4 83.5,348.9 83.6,348.4 83.6,347.9 83.7,347.4 83.8,346.9 83.9,346.4 84.0,345.9 84.2,345.4 84.4,344.9 84.5,344.4 84.7,343.9 85.0,343.4 85.2,342.9 85.5,342.4 85.8,341.9 86.1,341.4 86.4,340.9 86.7,340.4 86.9,339.9 87.2,339.4 87.4,338.9 87.5,338.4 87.5,337.9 87.5,337.4 87.5,336.9 87.5,336.4 87.5,335.9 87.5,335.4 87.5,334.9 87.5,334.4 87.5,333.9 87.5,333.4 87.5,332.9 87.5,332.4 87.5,331.9 87.5,331.4 87.5,330.9 87.5,330.4 87.5,329.9 87.5,329.4 87.5,328.9 87.5,328.4 87.5,327.9 87.5,327.4 87.5,326.9Z" fill="#d69fba"/><line x1="79.00" x2="96.00" y1="370.2" y2="370.2" stroke="#5f0a2d" stroke-width="1.1" stroke-opacity="0.75"/><circle cx="87.50" cy="350.30" r="3.0" fill="#a0375f"/><circle cx="87.50" cy="370.20" r="3.0" fill="#a0375f"/><circle cx="87.50" cy="380.30" r="3.0" fill="#a0375f"/><text transform="translate(87.50,326.1) scale(1.1,1)" font-size="14.5" text-anchor="middle" fill="#1a1a1a">c</text><path d="M115.6,405.3 116.8,405.8 116.9,406.3 116.9,406.8 116.9,407.3 116.9,407.8 116.9,408.3 116.9,408.8 116.9,409.3 117.0,409.8 117.1,410.3 117.3,410.8 117.5,411.3 117.7,411.8 117.9,412.3 118.2,412.8 118.4,413.3 118.7,413.8 119.0,414.3 119.3,414.8 119.7,415.3 120.0,415.8 120.3,416.3 120.6,416.8 120.9,417.3 121.0,417.8 121.2,418.3 121.3,418.8 121.3,419.3 121.3,419.8 121.4,420.3 121.3,420.7 121.2,421.2 121.1,421.7 120.8,422.2 120.6,422.7 120.3,423.2 120.0,423.7 119.7,424.2 119.4,424.7 119.1,425.2 118.9,425.7 118.8,426.2 118.8,426.7 118.8,427.2 118.9,427.7 119.1,428.2 119.4,428.7 119.7,429.2 120.0,429.7 120.5,430.2 121.0,430.7 121.6,431.2 122.1,431.7 122.5,432.2 122.9,432.7 123.3,433.2 123.6,433.7 123.8,434.2 124.0,434.7 124.1,435.2 124.1,435.7 124.1,436.2 124.1,436.7 124.1,437.2 124.0,437.7 123.9,438.2 123.6,438.7 123.3,439.2 122.9,439.7 122.4,440.2 121.8,440.7 121.3,441.2 120.7,441.7 120.1,442.2 119.5,442.7 118.9,443.2 118.5,443.7 118.1,444.2 117.7,444.7 117.4,445.2 117.1,445.7 117.0,446.2 117.0,446.7 117.0,447.2 117.0,447.7 117.0,448.2 117.0,448.7 116.9,449.2 116.9,449.7 116.9,450.2 116.9,450.7 116.5,451.2 115.6,451.4 115.6,451.4 114.7,451.2 114.3,450.7 114.3,450.2 114.3,449.7 114.3,449.2 114.2,448.7 114.2,448.2 114.2,447.7 114.2,447.2 114.2,446.7 114.2,446.2 114.1,445.7 113.8,445.2 113.5,444.7 113.1,444.2 112.7,443.7 112.3,443.2 111.7,442.7 111.1,442.2 110.5,441.7 109.9,441.2 109.4,440.7 108.8,440.2 108.3,439.7 107.9,439.2 107.6,438.7 107.3,438.2 107.2,437.7 107.1,437.2 107.1,436.7 107.1,436.2 107.1,435.7 107.1,435.2 107.2,434.7 107.4,434.2 107.6,433.7 107.9,433.2 108.3,432.7 108.7,432.2 109.1,431.7 109.6,431.2 110.2,430.7 110.7,430.2 111.2,429.7 111.5,429.2 111.8,428.7 112.1,428.2 112.3,427.7 112.4,427.2 112.4,426.7 112.4,426.2 112.3,425.7 112.1,425.2 111.8,424.7 111.5,424.2 111.2,423.7 110.9,423.2 110.6,422.7 110.4,422.2 110.1,421.7 110.0,421.2 109.9,420.7 109.8,420.3 109.9,419.8 109.9,419.3 109.9,418.8 110.0,418.3 110.2,417.8 110.3,417.3 110.6,416.8 110.9,416.3 111.2,415.8 111.5,415.3 111.9,414.8 112.2,414.3 112.5,413.8 112.8,413.3 113.0,412.8 113.3,412.3 113.5,411.8 113.7,411.3 113.9,410.8 114.1,410.3 114.2,409.8 114.3,409.3 114.3,408.8 114.3,408.3 114.3,407.8 114.3,407.3 114.3,406.8 114.3,406.3 114.4,405.8 115.6,405.3Z" fill="#1e4605"/><path d="M115.6,405.3 115.6,405.8 115.6,406.3 115.6,406.8 115.6,407.3 115.6,407.8 115.6,408.3 115.6,408.8 115.6,409.3 115.6,409.8 115.6,410.3 115.6,410.8 115.6,411.3 115.6,411.8 115.6,412.3 115.6,412.8 115.6,413.3 115.6,413.8 115.7,414.3 115.9,414.8 116.2,415.3 116.5,415.8 116.9,416.3 117.2,416.8 117.5,417.3 117.8,417.8 118.1,418.3 118.3,418.8 118.4,419.3 118.4,419.8 118.5,420.3 118.3,420.7 118.1,421.2 117.8,421.7 117.5,422.2 117.2,422.7 116.9,423.2 116.7,423.7 116.4,424.2 116.2,424.7 116.0,425.2 115.9,425.7 115.9,426.2 115.9,426.7 115.9,427.2 115.9,427.7 116.1,428.2 116.2,428.7 116.4,429.2 116.6,429.7 116.9,430.2 117.2,430.7 117.5,431.2 117.9,431.7 118.4,432.2 118.9,432.7 119.4,433.2 120.0,433.7 120.4,434.2 120.8,434.7 121.1,435.2 121.2,435.7 121.2,436.2 121.2,436.7 121.1,437.2 120.7,437.7 120.3,438.2 119.7,438.7 119.1,439.2 118.5,439.7 117.9,440.2 117.3,440.7 116.8,441.2 116.4,441.7 115.9,442.2 115.6,442.7 115.6,443.2 115.6,443.7 115.6,444.2 115.6,444.7 115.6,445.2 115.6,445.7 115.6,446.2 115.6,446.7 115.6,447.2 115.6,447.7 115.6,448.2 115.6,448.7 115.6,449.2 115.6,449.7 115.6,450.2 115.6,450.7 115.6,451.2 115.6,451.4 115.6,451.4 115.6,451.2 115.6,450.7 115.6,450.2 115.6,449.7 115.6,449.2 115.6,448.7 115.6,448.2 115.6,447.7 115.6,447.2 115.6,446.7 115.6,446.2 115.6,445.7 115.6,445.2 115.6,444.7 115.6,444.2 115.6,443.7 115.6,443.2 115.6,442.7 115.3,442.2 114.8,441.7 114.4,441.2 113.9,440.7 113.3,440.2 112.7,439.7 112.1,439.2 111.5,438.7 110.9,438.2 110.5,437.7 110.1,437.2 110.0,436.7 110.0,436.2 110.0,435.7 110.1,435.2 110.4,434.7 110.8,434.2 111.2,433.7 111.8,433.2 112.3,432.7 112.8,432.2 113.3,431.7 113.7,431.2 114.0,430.7 114.3,430.2 114.6,429.7 114.8,429.2 115.0,428.7 115.1,428.2 115.3,427.7 115.3,427.2 115.3,426.7 115.3,426.2 115.3,425.7 115.2,425.2 115.0,424.7 114.8,424.2 114.5,423.7 114.3,423.2 114.0,422.7 113.7,422.2 113.4,421.7 113.1,421.2 112.9,420.7 112.7,420.3 112.8,419.8 112.8,419.3 112.9,418.8 113.1,418.3 113.4,417.8 113.7,417.3 114.0,416.8 114.3,416.3 114.7,415.8 115.0,415.3 115.3,414.8 115.5,414.3 115.6,413.8 115.6,413.3 115.6,412.8 115.6,412.3 115.6,411.8 115.6,411.3 115.6,410.8 115.6,410.3 115.6,409.8 115.6,409.3 115.6,408.8 115.6,408.3 115.6,407.8 115.6,407.3 115.6,406.8 115.6,406.3 115.6,405.8 115.6,405.3Z" fill="#b4cda0"/><line x1="112.60" x2="118.60" y1="436.4" y2="436.4" stroke="#1e4605" stroke-width="1" stroke-dasharray="3,2"/><circle cx="115.60" cy="420.40" r="3.3" fill="#5f872d"/><circle cx="109.60" cy="436.40" r="3.3" fill="#5f872d"/><circle cx="121.90" cy="435.40" r="3.3" fill="#5f872d"/><text transform="translate(116.30,403.8) scale(1.1,1)" font-size="14.5" text-anchor="middle" fill="#1a1a1a">ab</text><path d="M144.2,421.8 145.4,422.3 145.5,422.8 145.5,423.3 145.5,423.8 145.5,424.3 145.5,424.8 145.6,425.3 145.8,425.8 146.0,426.3 146.3,426.8 146.6,427.3 147.0,427.8 147.3,428.3 147.6,428.8 148.0,429.3 148.3,429.8 148.6,430.3 149.0,430.8 149.3,431.3 149.5,431.8 149.8,432.3 149.9,432.8 150.1,433.3 150.2,433.8 150.3,434.3 150.3,434.8 150.3,435.3 150.2,435.8 150.0,436.3 149.8,436.8 149.5,437.3 149.1,437.8 148.8,438.3 148.4,438.8 148.0,439.3 147.7,439.8 147.5,440.3 147.5,440.8 147.6,441.3 147.8,441.8 148.2,442.3 148.7,442.8 149.2,443.3 149.8,443.8 150.5,444.3 151.2,444.8 151.8,445.3 152.3,445.8 152.6,446.3 152.9,446.8 153.0,447.3 153.2,447.8 153.2,448.3 153.2,448.8 153.2,449.3 153.1,449.8 153.0,450.3 152.8,450.8 152.6,451.3 152.1,451.8 151.6,452.3 151.0,452.8 150.3,453.3 149.6,453.8 149.0,454.3 148.4,454.8 147.8,455.3 147.3,455.8 146.8,456.3 146.5,456.8 146.1,457.3 145.9,457.8 145.7,458.3 145.6,458.8 145.5,459.3 145.5,459.8 145.5,460.3 145.5,460.8 145.5,461.3 145.1,461.8 144.2,462.0 144.2,462.0 143.3,461.8 142.9,461.3 142.9,460.8 142.9,460.3 142.9,459.8 142.9,459.3 142.8,458.8 142.7,458.3 142.5,457.8 142.3,457.3 141.9,456.8 141.6,456.3 141.1,455.8 140.6,455.3 140.0,454.8 139.4,454.3 138.8,453.8 138.1,453.3 137.4,452.8 136.8,452.3 136.3,451.8 135.8,451.3 135.6,450.8 135.4,450.3 135.3,449.8 135.2,449.3 135.2,448.8 135.2,448.3 135.2,447.8 135.4,447.3 135.5,446.8 135.8,446.3 136.1,445.8 136.6,445.3 137.2,444.8 137.9,444.3 138.6,443.8 139.2,443.3 139.7,442.8 140.2,442.3 140.6,441.8 140.8,441.3 140.9,440.8 140.9,440.3 140.7,439.8 140.4,439.3 140.0,438.8 139.6,438.3 139.3,437.8 138.9,437.3 138.6,436.8 138.4,436.3 138.2,435.8 138.1,435.3 138.1,434.8 138.1,434.3 138.2,433.8 138.3,433.3 138.5,432.8 138.6,432.3 138.9,431.8 139.1,431.3 139.4,430.8 139.8,430.3 140.1,429.8 140.4,429.3 140.8,428.8 141.1,428.3 141.4,427.8 141.8,427.3 142.1,426.8 142.4,426.3 142.6,425.8 142.8,425.3 142.9,424.8 142.9,424.3 142.9,423.8 142.9,423.3 142.9,422.8 143.0,422.3 144.2,421.8Z" fill="#054b32"/><path d="M144.2,421.8 144.2,422.3 144.2,422.8 144.2,423.3 144.2,423.8 144.2,424.3 144.2,424.8 144.2,425.3 144.2,425.8 144.2,426.3 144.2,426.8 144.2,427.3 144.2,427.8 144.2,428.3 144.2,428.8 144.5,429.3 144.8,429.8 145.1,430.3 145.5,430.8 145.8,431.3 146.2,431.8 146.5,432.3 146.8,432.8 147.0,433.3 147.2,433.8 147.3,434.3 147.4,434.8 147.3,435.3 147.0,435.8 146.6,436.3 146.2,436.8 145.9,437.3 145.5,437.8 145.2,438.3 145.0,438.8 144.8,439.3 144.6,439.8 144.6,440.3 144.6,440.8 144.6,441.3 144.7,441.8 144.9,442.3 145.1,442.8 145.4,443.3 145.7,443.8 146.1,444.3 146.6,444.8 147.1,445.3 147.7,445.8 148.3,446.3 149.0,446.8 149.7,447.3 150.1,447.8 150.3,448.3 150.3,448.8 150.3,449.3 150.0,449.8 149.5,450.3 148.8,450.8 148.1,451.3 147.5,451.8 146.8,452.3 146.2,452.8 145.7,453.3 145.2,453.8 144.7,454.3 144.3,454.8 144.2,455.3 144.2,455.8 144.2,456.3 144.2,456.8 144.2,457.3 144.2,457.8 144.2,458.3 144.2,458.8 144.2,459.3 144.2,459.8 144.2,460.3 144.2,460.8 144.2,461.3 144.2,461.8 144.2,462.0 144.2,462.0 144.2,461.8 144.2,461.3 144.2,460.8 144.2,460.3 144.2,459.8 144.2,459.3 144.2,458.8 144.2,458.3 144.2,457.8 144.2,457.3 144.2,456.8 144.2,456.3 144.2,455.8 144.2,455.3 144.1,454.8 143.7,454.3 143.2,453.8 142.7,453.3 142.2,452.8 141.6,452.3 140.9,451.8 140.3,451.3 139.6,450.8 138.9,450.3 138.4,449.8 138.1,449.3 138.1,448.8 138.1,448.3 138.3,447.8 138.7,447.3 139.4,446.8 140.1,446.3 140.7,445.8 141.3,445.3 141.8,444.8 142.3,444.3 142.7,443.8 143.0,443.3 143.3,442.8 143.5,442.3 143.7,441.8 143.8,441.3 143.8,440.8 143.8,440.3 143.8,439.8 143.6,439.3 143.4,438.8 143.2,438.3 142.9,437.8 142.5,437.3 142.2,436.8 141.8,436.3 141.4,435.8 141.1,435.3 141.0,434.8 141.1,434.3 141.2,433.8 141.4,433.3 141.6,432.8 141.9,432.3 142.2,431.8 142.6,431.3 142.9,430.8 143.3,430.3 143.6,429.8 143.9,429.3 144.2,428.8 144.2,428.3 144.2,427.8 144.2,427.3 144.2,426.8 144.2,426.3 144.2,425.8 144.2,425.3 144.2,424.8 144.2,424.3 144.2,423.8 144.2,423.3 144.2,422.8 144.2,422.3 144.2,421.8Z" fill="#8cc8af"/><line x1="141.20" x2="147.20" y1="448.4" y2="448.4" stroke="#054b32" stroke-width="1" stroke-dasharray="3,2"/><circle cx="144.20" cy="434.50" r="3.3" fill="#288264"/><circle cx="137.70" cy="448.40" r="3.3" fill="#288264"/><circle cx="150.70" cy="448.40" r="3.3" fill="#288264"/><text transform="translate(144.20,421.5) scale(1.1,1)" font-size="14.5" text-anchor="middle" fill="#1a1a1a">a</text><path d="M172.1,395.9 173.2,396.4 173.4,396.9 173.4,397.4 173.4,397.9 173.4,398.4 173.4,398.9 173.4,399.4 173.5,399.9 173.6,400.4 173.8,400.9 174.0,401.4 174.3,401.9 174.6,402.4 174.9,402.9 175.3,403.4 175.8,403.9 176.3,404.4 176.8,404.9 177.3,405.4 177.8,405.9 178.3,406.4 178.7,406.9 179.1,407.4 179.5,407.9 179.9,408.4 180.2,408.9 180.4,409.4 180.7,409.9 180.8,410.4 181.0,410.9 181.1,411.3 181.1,411.8 181.1,412.3 181.1,412.8 181.0,413.3 180.9,413.8 180.9,414.3 180.7,414.8 180.6,415.3 180.5,415.8 180.3,416.3 180.1,416.8 179.9,417.3 179.7,417.8 179.5,418.3 179.3,418.8 179.1,419.3 178.9,419.8 178.8,420.3 178.8,420.8 178.8,421.3 178.8,421.8 178.8,422.3 178.8,422.8 178.8,423.3 178.9,423.8 179.0,424.3 179.2,424.8 179.4,425.3 179.5,425.8 179.6,426.3 179.6,426.8 179.6,427.3 179.6,427.8 179.6,428.3 179.5,428.8 179.5,429.3 179.3,429.8 179.1,430.3 178.8,430.8 178.5,431.3 178.1,431.8 177.7,432.3 177.2,432.8 176.7,433.3 176.2,433.8 175.6,434.3 175.2,434.8 174.8,435.3 174.4,435.8 174.1,436.3 173.9,436.8 173.6,437.3 173.5,437.8 173.5,438.3 173.4,438.8 173.4,439.3 173.4,439.8 173.4,440.3 173.4,440.8 173.3,441.3 172.9,441.8 172.1,442.0 172.1,442.0 171.2,441.8 170.8,441.3 170.7,440.8 170.7,440.3 170.7,439.8 170.7,439.3 170.7,438.8 170.6,438.3 170.6,437.8 170.5,437.3 170.2,436.8 170.0,436.3 169.7,435.8 169.3,435.3 168.9,434.8 168.5,434.3 167.9,433.8 167.4,433.3 166.9,432.8 166.4,432.3 166.0,431.8 165.6,431.3 165.3,430.8 165.0,430.3 164.8,429.8 164.6,429.3 164.6,428.8 164.5,428.3 164.5,427.8 164.5,427.3 164.5,426.8 164.5,426.3 164.6,425.8 164.7,425.3 164.9,424.8 165.1,424.3 165.2,423.8 165.3,423.3 165.3,422.8 165.3,422.3 165.3,421.8 165.3,421.3 165.3,420.8 165.3,420.3 165.2,419.8 165.0,419.3 164.8,418.8 164.6,418.3 164.4,417.8 164.2,417.3 164.0,416.8 163.8,416.3 163.6,415.8 163.5,415.3 163.4,414.8 163.2,414.3 163.2,413.8 163.1,413.3 163.0,412.8 163.0,412.3 163.0,411.8 163.0,411.3 163.1,410.9 163.3,410.4 163.4,409.9 163.7,409.4 163.9,408.9 164.2,408.4 164.6,407.9 165.0,407.4 165.4,406.9 165.8,406.4 166.3,405.9 166.8,405.4 167.3,404.9 167.8,404.4 168.3,403.9 168.8,403.4 169.2,402.9 169.5,402.4 169.8,401.9 170.1,401.4 170.3,400.9 170.5,400.4 170.6,399.9 170.7,399.4 170.7,398.9 170.7,398.4 170.7,397.9 170.7,397.4 170.7,396.9 170.9,396.4 172.1,395.9Z" fill="#19325f"/><path d="M172.1,395.9 172.1,396.4 172.1,396.9 172.1,397.4 172.1,397.9 172.1,398.4 172.1,398.9 172.1,399.4 172.1,399.9 172.1,400.4 172.1,400.9 172.1,401.4 172.1,401.9 172.1,402.4 172.1,402.9 172.1,403.4 172.1,403.9 172.4,404.4 172.8,404.9 173.2,405.4 173.7,405.9 174.2,406.4 174.7,406.9 175.2,407.4 175.7,407.9 176.2,408.4 176.6,408.9 177.0,409.4 177.4,409.9 177.7,410.4 177.9,410.9 178.1,411.3 178.2,411.8 178.2,412.3 178.1,412.8 178.1,413.3 178.0,413.8 177.9,414.3 177.7,414.8 177.6,415.3 177.4,415.8 177.2,416.3 177.0,416.8 176.7,417.3 176.5,417.8 176.3,418.3 176.2,418.8 176.1,419.3 176.0,419.8 175.9,420.3 175.9,420.8 175.9,421.3 175.9,421.8 175.9,422.3 175.9,422.8 175.9,423.3 176.0,423.8 176.1,424.3 176.2,424.8 176.3,425.3 176.5,425.8 176.6,426.3 176.7,426.8 176.7,427.3 176.7,427.8 176.7,428.3 176.6,428.8 176.3,429.3 176.0,429.8 175.6,430.3 175.1,430.8 174.6,431.3 174.1,431.8 173.5,432.3 173.1,432.8 172.6,433.3 172.3,433.8 172.1,434.3 172.1,434.8 172.1,435.3 172.1,435.8 172.1,436.3 172.1,436.8 172.1,437.3 172.1,437.8 172.1,438.3 172.1,438.8 172.1,439.3 172.1,439.8 172.1,440.3 172.1,440.8 172.1,441.3 172.1,441.8 172.1,442.0 172.1,442.0 172.1,441.8 172.1,441.3 172.1,440.8 172.1,440.3 172.1,439.8 172.1,439.3 172.1,438.8 172.1,438.3 172.1,437.8 172.1,437.3 172.1,436.8 172.1,436.3 172.1,435.8 172.1,435.3 172.1,434.8 172.1,434.3 171.8,433.8 171.5,433.3 171.0,432.8 170.6,432.3 170.0,431.8 169.5,431.3 169.0,430.8 168.5,430.3 168.1,429.8 167.8,429.3 167.5,428.8 167.4,428.3 167.4,427.8 167.4,427.3 167.4,426.8 167.5,426.3 167.6,425.8 167.8,425.3 167.9,424.8 168.0,424.3 168.1,423.8 168.2,423.3 168.2,422.8 168.2,422.3 168.2,421.8 168.2,421.3 168.2,420.8 168.2,420.3 168.1,419.8 168.0,419.3 167.9,418.8 167.8,418.3 167.6,417.8 167.4,417.3 167.1,416.8 166.9,416.3 166.7,415.8 166.5,415.3 166.4,414.8 166.2,414.3 166.1,413.8 166.0,413.3 166.0,412.8 165.9,412.3 165.9,411.8 166.0,411.3 166.2,410.9 166.4,410.4 166.7,409.9 167.1,409.4 167.5,408.9 167.9,408.4 168.4,407.9 168.9,407.4 169.4,406.9 169.9,406.4 170.4,405.9 170.9,405.4 171.3,404.9 171.7,404.4 172.0,403.9 172.1,403.4 172.1,402.9 172.1,402.4 172.1,401.9 172.1,401.4 172.1,400.9 172.1,400.4 172.1,399.9 172.1,399.4 172.1,398.9 172.1,398.4 172.1,397.9 172.1,397.4 172.1,396.9 172.1,396.4 172.1,395.9Z" fill="#aabee1"/><line x1="164.55" x2="179.55" y1="416.5" y2="416.5" stroke="#19325f" stroke-width="1.1" stroke-opacity="0.75"/><circle cx="172.05" cy="409.60" r="3.1" fill="#416eaf"/><circle cx="172.05" cy="416.50" r="3.1" fill="#416eaf"/><circle cx="172.05" cy="427.30" r="3.1" fill="#416eaf"/><text transform="translate(172.65,394.0) scale(1.1,1)" font-size="14.5" text-anchor="middle" fill="#1a1a1a">b</text><path d="M40.4,298.0 V473.1 H192.1" fill="none" stroke="#2e2e2e" stroke-width="1.2"/><line x1="33.199999999999996" x2="40.4" y1="473.10" y2="473.10" stroke="#2e2e2e" stroke-width="1.1"/><text transform="translate(30.50,475.85) scale(1.12,1)" font-size="8.9" text-anchor="end" fill="#1a1a1a" stroke="#1a1a1a" stroke-width="0.15">0</text><line x1="33.199999999999996" x2="40.4" y1="438.08" y2="438.08" stroke="#2e2e2e" stroke-width="1.1"/><text transform="translate(30.50,440.83) scale(1.12,1)" font-size="8.9" text-anchor="end" fill="#1a1a1a" stroke="#1a1a1a" stroke-width="0.15">1</text><line x1="33.199999999999996" x2="40.4" y1="403.06" y2="403.06" stroke="#2e2e2e" stroke-width="1.1"/><text transform="translate(30.50,405.81) scale(1.12,1)" font-size="8.9" text-anchor="end" fill="#1a1a1a" stroke="#1a1a1a" stroke-width="0.15">2</text><line x1="33.199999999999996" x2="40.4" y1="368.04" y2="368.04" stroke="#2e2e2e" stroke-width="1.1"/><text transform="translate(30.50,370.79) scale(1.12,1)" font-size="8.9" text-anchor="end" fill="#1a1a1a" stroke="#1a1a1a" stroke-width="0.15">3</text><line x1="33.199999999999996" x2="40.4" y1="333.02" y2="333.02" stroke="#2e2e2e" stroke-width="1.1"/><text transform="translate(30.50,335.77) scale(1.12,1)" font-size="8.9" text-anchor="end" fill="#1a1a1a" stroke="#1a1a1a" stroke-width="0.15">4</text><line x1="33.199999999999996" x2="40.4" y1="298.00" y2="298.00" stroke="#2e2e2e" stroke-width="1.1"/><text transform="translate(30.50,300.75) scale(1.12,1)" font-size="8.9" text-anchor="end" fill="#1a1a1a" stroke="#1a1a1a" stroke-width="0.15">5</text><line x1="59.3" x2="59.3" y1="473.1" y2="480.3" stroke="#2e2e2e" stroke-width="1.1"/><text transform="translate(62.50,492.10) scale(1.1,1) rotate(-45)" font-size="11.0" text-anchor="end" fill="#1a1a1a">Control</text><line x1="87.6" x2="87.6" y1="473.1" y2="480.3" stroke="#2e2e2e" stroke-width="1.1"/><text transform="translate(90.80,492.10) scale(1.1,1) rotate(-45)" font-size="11.0" text-anchor="end" fill="#1a1a1a">HKL</text><line x1="115.7" x2="115.7" y1="473.1" y2="480.3" stroke="#2e2e2e" stroke-width="1.1"/><text transform="translate(118.90,492.10) scale(1.1,1) rotate(-45)" font-size="11.0" text-anchor="end" fill="#1a1a1a">ACE 0.5 μM</text><line x1="143.8" x2="143.8" y1="473.1" y2="480.3" stroke="#2e2e2e" stroke-width="1.1"/><text transform="translate(147.00,492.10) scale(1.1,1) rotate(-45)" font-size="11.0" text-anchor="end" fill="#1a1a1a">ACE 1 μM</text><line x1="171.9" x2="171.9" y1="473.1" y2="480.3" stroke="#2e2e2e" stroke-width="1.1"/><text transform="translate(175.10,492.10) scale(1.1,1) rotate(-45)" font-size="11.0" text-anchor="end" fill="#1a1a1a">ACE 1 μM+ HKL</text><text transform="translate(11.7,387.7) scale(1.1,1) rotate(-90)" font-size="11.0" text-anchor="middle" fill="#1a1a1a">GSH (nmole/ mg protein)</text></g>
<g><path d="M303.6,365.6 304.7,366.1 304.9,366.6 304.9,367.1 304.9,367.6 304.9,368.1 305.0,368.6 305.4,369.1 305.9,369.6 306.4,370.1 306.9,370.6 307.4,371.1 307.8,371.6 308.3,372.1 308.7,372.6 309.0,373.1 309.3,373.6 309.5,374.1 309.6,374.6 309.7,375.1 309.7,375.6 309.7,376.1 309.6,376.6 309.5,377.1 309.3,377.6 309.0,378.1 308.7,378.6 308.2,379.1 307.8,379.6 307.4,380.1 307.3,380.6 307.3,381.1 307.6,381.5 308.0,382.0 308.4,382.5 308.7,383.0 308.9,383.5 309.1,384.0 309.2,384.5 309.3,385.0 309.3,385.5 309.4,386.0 309.4,386.5 309.4,387.0 309.3,387.5 309.1,388.0 308.9,388.5 308.6,389.0 308.2,389.5 307.7,390.0 307.2,390.5 306.7,391.0 306.2,391.5 305.7,392.0 305.1,392.5 304.9,393.0 304.9,393.5 304.9,394.0 304.9,394.5 304.9,395.0 304.8,395.5 304.7,396.0 303.6,396.5 303.6,396.5 302.4,396.0 302.3,395.5 302.2,395.0 302.2,394.5 302.2,394.0 302.2,393.5 302.2,393.0 302.0,392.5 301.4,392.0 300.9,391.5 300.4,391.0 299.9,390.5 299.4,390.0 298.9,389.5 298.5,389.0 298.2,388.5 298.0,388.0 297.8,387.5 297.7,387.0 297.7,386.5 297.7,386.0 297.8,385.5 297.8,385.0 297.9,384.5 298.0,384.0 298.2,383.5 298.4,383.0 298.7,382.5 299.1,382.0 299.5,381.5 299.8,381.1 299.8,380.6 299.7,380.1 299.3,379.6 298.9,379.1 298.4,378.6 298.1,378.1 297.8,377.6 297.6,377.1 297.5,376.6 297.4,376.1 297.4,375.6 297.4,375.1 297.5,374.6 297.6,374.1 297.8,373.6 298.1,373.1 298.4,372.6 298.8,372.1 299.3,371.6 299.7,371.1 300.2,370.6 300.7,370.1 301.2,369.6 301.7,369.1 302.1,368.6 302.2,368.1 302.2,367.6 302.2,367.1 302.2,366.6 302.4,366.1 303.6,365.6Z" fill="#731f08"/><path d="M303.6,365.6 303.6,366.1 303.6,366.6 303.6,367.1 303.6,367.6 303.6,368.1 303.6,368.6 303.6,369.1 303.6,369.6 303.6,370.1 303.6,370.6 303.6,371.1 303.8,371.6 304.3,372.1 304.8,372.6 305.3,373.1 305.7,373.6 306.2,374.1 306.5,374.6 306.7,375.1 306.8,375.6 306.8,376.1 306.5,376.6 306.1,377.1 305.7,377.6 305.3,378.1 304.9,378.6 304.7,379.1 304.5,379.6 304.4,380.1 304.4,380.6 304.4,381.1 304.5,381.5 304.6,382.0 304.8,382.5 305.1,383.0 305.5,383.5 305.9,384.0 306.2,384.5 306.3,385.0 306.4,385.5 306.5,386.0 306.5,386.5 306.4,387.0 306.1,387.5 305.6,388.0 305.1,388.5 304.6,389.0 304.1,389.5 303.6,390.0 303.6,390.5 303.6,391.0 303.6,391.5 303.6,392.0 303.6,392.5 303.6,393.0 303.6,393.5 303.6,394.0 303.6,394.5 303.6,395.0 303.6,395.5 303.6,396.0 303.6,396.5 303.6,396.5 303.6,396.0 303.6,395.5 303.6,395.0 303.6,394.5 303.6,394.0 303.6,393.5 303.6,393.0 303.6,392.5 303.6,392.0 303.6,391.5 303.6,391.0 303.6,390.5 303.6,390.0 303.0,389.5 302.5,389.0 302.0,388.5 301.5,388.0 301.0,387.5 300.7,387.0 300.6,386.5 300.6,386.0 300.7,385.5 300.8,385.0 300.9,384.5 301.2,384.0 301.6,383.5 302.0,383.0 302.3,382.5 302.5,382.0 302.6,381.5 302.7,381.1 302.7,380.6 302.7,380.1 302.6,379.6 302.4,379.1 302.2,378.6 301.8,378.1 301.4,377.6 301.0,377.1 300.6,376.6 300.3,376.1 300.3,375.6 300.4,375.1 300.6,374.6 300.9,374.1 301.4,373.6 301.8,373.1 302.3,372.6 302.8,372.1 303.3,371.6 303.6,371.1 303.6,370.6 303.6,370.1 303.6,369.6 303.6,369.1 303.6,368.6 303.6,368.1 303.6,367.6 303.6,367.1 303.6,366.6 303.6,366.1 303.6,365.6Z" fill="#dcaa9b"/><line x1="300.55" x2="306.55" y1="375.6" y2="375.6" stroke="#731f08" stroke-width="1" stroke-dasharray="3,2"/><circle cx="296.85" cy="375.40" r="3.3" fill="#b0573c"/><circle cx="310.25" cy="375.40" r="3.3" fill="#b0573c"/><circle cx="303.55" cy="386.10" r="3.6" fill="#b0573c"/><text transform="translate(303.55,364.6) scale(1.1,1)" font-size="14.5" text-anchor="middle" fill="#1a1a1a">c</text><path d="M331.8,323.8 333.0,324.3 333.1,324.8 333.1,325.3 333.2,325.8 333.2,326.3 333.2,326.8 333.2,327.3 333.2,327.8 333.4,328.3 333.5,328.8 333.7,329.3 334.0,329.8 334.2,330.3 334.5,330.8 334.9,331.3 335.3,331.8 335.7,332.3 336.2,332.8 336.7,333.3 337.2,333.8 337.7,334.3 338.1,334.8 338.6,335.3 339.0,335.8 339.4,336.3 339.8,336.8 340.1,337.3 340.3,337.8 340.5,338.3 340.7,338.8 340.8,339.3 340.9,339.8 340.9,340.3 341.0,340.8 341.0,341.3 340.9,341.8 340.9,342.3 340.9,342.8 340.8,343.3 340.8,343.8 340.8,344.3 340.7,344.8 340.7,345.3 340.7,345.8 340.6,346.3 340.6,346.8 340.7,347.3 340.7,347.8 340.8,348.3 341.0,348.8 341.1,349.3 341.2,349.8 341.2,350.3 341.2,350.8 341.1,351.3 341.0,351.8 340.9,352.3 340.8,352.8 340.7,353.3 340.7,353.8 340.6,354.3 340.7,354.8 340.7,355.3 340.7,355.8 340.8,356.3 340.8,356.8 340.8,357.3 340.9,357.8 340.9,358.3 340.9,358.8 341.0,359.3 341.0,359.8 340.9,360.3 340.8,360.8 340.7,361.3 340.5,361.8 340.2,362.3 340.0,362.8 339.7,363.3 339.3,363.8 338.9,364.3 338.5,364.8 338.1,365.3 337.6,365.8 337.2,366.3 336.7,366.8 336.3,367.3 335.8,367.8 335.4,368.3 335.0,368.8 334.6,369.3 334.3,369.8 334.0,370.3 333.8,370.8 333.6,371.3 333.5,371.8 333.4,372.3 333.3,372.8 333.2,373.3 333.2,373.8 333.2,374.3 333.2,374.8 333.2,375.3 333.2,375.8 333.1,376.3 333.1,376.8 333.1,377.3 332.7,377.8 331.8,378.0 331.8,378.0 330.9,377.8 330.5,377.3 330.5,376.8 330.5,376.3 330.4,375.8 330.4,375.3 330.4,374.8 330.4,374.3 330.4,373.8 330.4,373.3 330.3,372.8 330.2,372.3 330.1,371.8 330.0,371.3 329.8,370.8 329.6,370.3 329.3,369.8 329.0,369.3 328.6,368.8 328.2,368.3 327.8,367.8 327.3,367.3 326.9,366.8 326.4,366.3 326.0,365.8 325.5,365.3 325.1,364.8 324.7,364.3 324.3,363.8 323.9,363.3 323.6,362.8 323.4,362.3 323.1,361.8 322.9,361.3 322.8,360.8 322.7,360.3 322.6,359.8 322.6,359.3 322.7,358.8 322.7,358.3 322.7,357.8 322.8,357.3 322.8,356.8 322.8,356.3 322.9,355.8 322.9,355.3 322.9,354.8 323.0,354.3 322.9,353.8 322.9,353.3 322.8,352.8 322.7,352.3 322.6,351.8 322.5,351.3 322.4,350.8 322.4,350.3 322.4,349.8 322.5,349.3 322.6,348.8 322.8,348.3 322.9,347.8 322.9,347.3 323.0,346.8 323.0,346.3 322.9,345.8 322.9,345.3 322.9,344.8 322.8,344.3 322.8,343.8 322.8,343.3 322.7,342.8 322.7,342.3 322.7,341.8 322.6,341.3 322.6,340.8 322.7,340.3 322.7,339.8 322.8,339.3 322.9,338.8 323.1,338.3 323.3,337.8 323.5,337.3 323.8,336.8 324.2,336.3 324.6,335.8 325.0,335.3 325.5,334.8 325.9,334.3 326.4,333.8 326.9,333.3 327.4,332.8 327.9,332.3 328.3,331.8 328.7,331.3 329.1,330.8 329.4,330.3 329.6,329.8 329.9,329.3 330.1,328.8 330.2,328.3 330.4,327.8 330.4,327.3 330.4,326.8 330.4,326.3 330.4,325.8 330.5,325.3 330.5,324.8 330.6,324.3 331.8,323.8Z" fill="#5f0a2d"/><path d="M331.8,323.8 331.8,324.3 331.8,324.8 331.8,325.3 331.8,325.8 331.8,326.3 331.8,326.8 331.8,327.3 331.8,327.8 331.8,328.3 331.8,328.8 331.8,329.3 331.8,329.8 331.8,330.3 331.8,330.8 331.8,331.3 331.8,331.8 332.1,332.3 332.4,332.8 332.8,333.3 333.2,333.8 333.6,334.3 334.1,334.8 334.6,335.3 335.1,335.8 335.6,336.3 336.0,336.8 336.5,337.3 336.9,337.8 337.3,338.3 337.6,338.8 337.8,339.3 337.9,339.8 338.0,340.3 338.1,340.8 338.1,341.3 338.0,341.8 338.0,342.3 338.0,342.8 337.9,343.3 337.9,343.8 337.9,344.3 337.8,344.8 337.8,345.3 337.8,345.8 337.7,346.3 337.7,346.8 337.8,347.3 337.8,347.8 337.9,348.3 338.0,348.8 338.1,349.3 338.2,349.8 338.3,350.3 338.3,350.8 338.2,351.3 338.0,351.8 337.9,352.3 337.8,352.8 337.8,353.3 337.8,353.8 337.7,354.3 337.8,354.8 337.8,355.3 337.8,355.8 337.8,356.3 337.9,356.8 337.9,357.3 338.0,357.8 338.0,358.3 338.0,358.8 338.1,359.3 338.1,359.8 338.0,360.3 337.8,360.8 337.5,361.3 337.2,361.8 336.8,362.3 336.4,362.8 336.0,363.3 335.5,363.8 335.1,364.3 334.6,364.8 334.2,365.3 333.7,365.8 333.3,366.3 332.9,366.8 332.5,367.3 332.1,367.8 331.8,368.3 331.8,368.8 331.8,369.3 331.8,369.8 331.8,370.3 331.8,370.8 331.8,371.3 331.8,371.8 331.8,372.3 331.8,372.8 331.8,373.3 331.8,373.8 331.8,374.3 331.8,374.8 331.8,375.3 331.8,375.8 331.8,376.3 331.8,376.8 331.8,377.3 331.8,377.8 331.8,378.0 331.8,378.0 331.8,377.8 331.8,377.3 331.8,376.8 331.8,376.3 331.8,375.8 331.8,375.3 331.8,374.8 331.8,374.3 331.8,373.8 331.8,373.3 331.8,372.8 331.8,372.3 331.8,371.8 331.8,371.3 331.8,370.8 331.8,370.3 331.8,369.8 331.8,369.3 331.8,368.8 331.8,368.3 331.5,367.8 331.1,367.3 330.7,366.8 330.3,366.3 329.9,365.8 329.4,365.3 329.0,364.8 328.5,364.3 328.1,363.8 327.6,363.3 327.2,362.8 326.8,362.3 326.4,361.8 326.1,361.3 325.8,360.8 325.6,360.3 325.5,359.8 325.5,359.3 325.6,358.8 325.6,358.3 325.6,357.8 325.7,357.3 325.7,356.8 325.8,356.3 325.8,355.8 325.8,355.3 325.8,354.8 325.9,354.3 325.8,353.8 325.8,353.3 325.8,352.8 325.7,352.3 325.6,351.8 325.4,351.3 325.3,350.8 325.3,350.3 325.4,349.8 325.5,349.3 325.6,348.8 325.7,348.3 325.8,347.8 325.8,347.3 325.9,346.8 325.9,346.3 325.8,345.8 325.8,345.3 325.8,344.8 325.7,344.3 325.7,343.8 325.7,343.3 325.6,342.8 325.6,342.3 325.6,341.8 325.5,341.3 325.5,340.8 325.6,340.3 325.7,339.8 325.8,339.3 326.0,338.8 326.3,338.3 326.7,337.8 327.1,337.3 327.6,336.8 328.0,336.3 328.5,335.8 329.0,335.3 329.5,334.8 330.0,334.3 330.4,333.8 330.8,333.3 331.2,332.8 331.5,332.3 331.8,331.8 331.8,331.3 331.8,330.8 331.8,330.3 331.8,329.8 331.8,329.3 331.8,328.8 331.8,328.3 331.8,327.8 331.8,327.3 331.8,326.8 331.8,326.3 331.8,325.8 331.8,325.3 331.8,324.8 331.8,324.3 331.8,323.8Z" fill="#d69fba"/><line x1="322.80" x2="340.80" y1="351.3" y2="351.3" stroke="#5f0a2d" stroke-width="1.1" stroke-opacity="0.75"/><circle cx="331.80" cy="340.60" r="3.0" fill="#a0375f"/><circle cx="331.80" cy="351.30" r="3.0" fill="#a0375f"/><circle cx="331.80" cy="361.80" r="3.0" fill="#a0375f"/><text transform="translate(331.80,322.6) scale(1.1,1)" font-size="14.5" text-anchor="middle" fill="#1a1a1a">d</text><path d="M360.0,394.9 361.2,395.4 361.3,395.9 361.3,396.4 361.3,396.9 361.3,397.4 361.5,397.9 362.1,398.4 362.7,398.9 363.3,399.4 363.9,399.9 364.6,400.4 365.2,400.8 365.7,401.3 366.1,401.8 366.4,402.3 366.6,402.8 366.7,403.3 366.7,403.8 366.5,404.3 366.3,404.8 366.0,405.3 365.6,405.8 365.3,406.3 365.1,406.8 365.1,407.3 365.4,407.8 365.8,408.3 366.2,408.8 366.7,409.3 367.2,409.8 367.7,410.3 368.1,410.8 368.4,411.3 368.6,411.8 368.7,412.3 368.7,412.7 368.7,413.2 368.7,413.7 368.6,414.2 368.4,414.7 368.0,415.2 367.6,415.7 367.0,416.2 366.2,416.7 365.3,417.2 364.4,417.7 363.6,418.2 362.8,418.7 362.1,419.2 361.6,419.7 361.5,420.2 361.4,420.7 361.4,421.2 361.3,421.7 361.3,422.2 361.3,422.7 361.3,423.2 360.9,423.7 360.0,423.9 360.0,423.9 359.1,423.7 358.7,423.2 358.7,422.7 358.7,422.2 358.7,421.7 358.6,421.2 358.6,420.7 358.5,420.2 358.4,419.7 357.9,419.2 357.2,418.7 356.4,418.2 355.6,417.7 354.7,417.2 353.8,416.7 353.0,416.2 352.4,415.7 352.0,415.2 351.6,414.7 351.4,414.2 351.3,413.7 351.3,413.2 351.3,412.7 351.3,412.3 351.4,411.8 351.6,411.3 351.9,410.8 352.3,410.3 352.8,409.8 353.3,409.3 353.8,408.8 354.2,408.3 354.6,407.8 354.9,407.3 354.9,406.8 354.7,406.3 354.4,405.8 354.0,405.3 353.7,404.8 353.5,404.3 353.3,403.8 353.3,403.3 353.4,402.8 353.6,402.3 353.9,401.8 354.3,401.3 354.8,400.8 355.4,400.4 356.1,399.9 356.7,399.4 357.3,398.9 357.9,398.4 358.5,397.9 358.7,397.4 358.7,396.9 358.7,396.4 358.7,395.9 358.8,395.4 360.0,394.9Z" fill="#1e4605"/><path d="M360.0,394.9 360.0,395.4 360.0,395.9 360.0,396.4 360.0,396.9 360.0,397.4 360.0,397.9 360.0,398.4 360.0,398.9 360.0,399.4 360.0,399.9 360.0,400.4 360.5,400.8 361.1,401.3 361.8,401.8 362.4,402.3 363.0,402.8 363.6,403.3 363.5,403.8 363.1,404.3 362.8,404.8 362.5,405.3 362.4,405.8 362.2,406.3 362.2,406.8 362.2,407.3 362.3,407.8 362.4,408.3 362.6,408.8 362.9,409.3 363.2,409.8 363.7,410.3 364.1,410.8 364.6,411.3 365.1,411.8 365.6,412.3 365.8,412.7 365.8,413.2 365.4,413.7 364.7,414.2 363.8,414.7 362.9,415.2 362.1,415.7 361.3,416.2 360.6,416.7 360.0,417.2 360.0,417.7 360.0,418.2 360.0,418.7 360.0,419.2 360.0,419.7 360.0,420.2 360.0,420.7 360.0,421.2 360.0,421.7 360.0,422.2 360.0,422.7 360.0,423.2 360.0,423.7 360.0,423.9 360.0,423.9 360.0,423.7 360.0,423.2 360.0,422.7 360.0,422.2 360.0,421.7 360.0,421.2 360.0,420.7 360.0,420.2 360.0,419.7 360.0,419.2 360.0,418.7 360.0,418.2 360.0,417.7 360.0,417.2 359.4,416.7 358.7,416.2 357.9,415.7 357.1,415.2 356.2,414.7 355.3,414.2 354.6,413.7 354.2,413.2 354.2,412.7 354.4,412.3 354.9,411.8 355.4,411.3 355.9,410.8 356.3,410.3 356.8,409.8 357.1,409.3 357.4,408.8 357.6,408.3 357.7,407.8 357.8,407.3 357.8,406.8 357.8,406.3 357.6,405.8 357.5,405.3 357.2,404.8 356.9,404.3 356.5,403.8 356.4,403.3 357.0,402.8 357.6,402.3 358.2,401.8 358.9,401.3 359.5,400.8 360.0,400.4 360.0,399.9 360.0,399.4 360.0,398.9 360.0,398.4 360.0,397.9 360.0,397.4 360.0,396.9 360.0,396.4 360.0,395.9 360.0,395.4 360.0,394.9Z" fill="#b4cda0"/><line x1="357.00" x2="363.00" y1="411.1" y2="411.1" stroke="#1e4605" stroke-width="1" stroke-dasharray="3,2"/><line x1="357.00" x2="363.00" y1="414.2" y2="414.2" stroke="#1e4605" stroke-width="0.8" stroke-dasharray="1,1.5"/><circle cx="360.00" cy="404.00" r="3.3" fill="#5f872d"/><circle cx="353.50" cy="413.80" r="3.3" fill="#5f872d"/><circle cx="366.50" cy="411.10" r="3.3" fill="#5f872d"/><text transform="translate(360.00,394.0) scale(1.1,1)" font-size="14.5" text-anchor="middle" fill="#1a1a1a">b</text><path d="M388.1,422.8 389.3,423.3 389.5,423.8 389.5,424.3 389.5,424.8 389.5,425.3 389.5,425.8 389.5,426.3 389.5,426.8 389.6,427.3 389.8,427.8 390.1,428.3 390.5,428.8 390.9,429.3 391.3,429.8 391.9,430.3 392.4,430.8 392.9,431.3 393.4,431.8 393.9,432.3 394.3,432.8 394.7,433.3 395.0,433.8 395.2,434.3 395.4,434.8 395.6,435.3 395.7,435.8 395.8,436.3 395.9,436.8 395.9,437.3 396.0,437.8 396.0,438.3 396.0,438.8 396.0,439.3 395.9,439.8 395.8,440.3 395.6,440.8 395.4,441.3 395.2,441.8 394.8,442.3 394.4,442.8 393.9,443.3 393.4,443.8 392.8,444.3 392.3,444.8 391.9,445.3 391.7,445.8 391.5,446.3 391.3,446.8 391.2,447.3 391.1,447.8 391.1,448.2 391.2,448.7 391.4,449.2 391.7,449.7 392.0,450.2 392.3,450.7 392.6,451.2 392.9,451.7 393.1,452.2 393.3,452.7 393.5,453.2 393.6,453.7 393.7,454.2 393.7,454.7 393.7,455.2 393.7,455.7 393.7,456.2 393.6,456.7 393.5,457.2 393.4,457.7 393.3,458.2 393.1,458.7 392.9,459.2 392.6,459.7 392.3,460.2 392.0,460.7 391.6,461.2 391.3,461.7 391.0,462.2 390.7,462.7 390.4,463.2 390.2,463.7 390.1,464.2 390.0,464.7 389.9,465.2 389.8,465.7 389.7,466.2 389.7,466.7 389.7,467.2 389.6,467.7 389.6,468.2 389.6,468.7 389.6,469.2 389.6,469.7 389.6,470.2 389.5,470.7 389.5,471.2 389.5,471.7 389.3,472.2 388.1,472.7 388.1,472.7 387.0,472.2 386.8,471.7 386.8,471.2 386.8,470.7 386.7,470.2 386.7,469.7 386.7,469.2 386.7,468.7 386.7,468.2 386.7,467.7 386.6,467.2 386.6,466.7 386.6,466.2 386.5,465.7 386.4,465.2 386.3,464.7 386.2,464.2 386.1,463.7 385.9,463.2 385.6,462.7 385.3,462.2 385.0,461.7 384.7,461.2 384.3,460.7 384.0,460.2 383.7,459.7 383.4,459.2 383.2,458.7 383.0,458.2 382.9,457.7 382.8,457.2 382.7,456.7 382.6,456.2 382.6,455.7 382.6,455.2 382.6,454.7 382.6,454.2 382.7,453.7 382.8,453.2 383.0,452.7 383.2,452.2 383.4,451.7 383.7,451.2 384.0,450.7 384.3,450.2 384.6,449.7 384.9,449.2 385.1,448.7 385.2,448.2 385.2,447.8 385.1,447.3 385.0,446.8 384.8,446.3 384.6,445.8 384.4,445.3 384.0,444.8 383.5,444.3 382.9,443.8 382.4,443.3 381.9,442.8 381.5,442.3 381.1,441.8 380.9,441.3 380.7,440.8 380.5,440.3 380.4,439.8 380.3,439.3 380.3,438.8 380.3,438.3 380.3,437.8 380.4,437.3 380.4,436.8 380.5,436.3 380.6,435.8 380.7,435.3 380.9,434.8 381.1,434.3 381.3,433.8 381.6,433.3 382.0,432.8 382.4,432.3 382.9,431.8 383.4,431.3 383.9,430.8 384.4,430.3 385.0,429.8 385.4,429.3 385.8,428.8 386.2,428.3 386.5,427.8 386.7,427.3 386.8,426.8 386.8,426.3 386.8,425.8 386.8,425.3 386.8,424.8 386.8,424.3 386.8,423.8 387.0,423.3 388.1,422.8Z" fill="#054b32"/><path d="M388.1,422.8 388.1,423.3 388.1,423.8 388.1,424.3 388.1,424.8 388.1,425.3 388.1,425.8 388.1,426.3 388.1,426.8 388.1,427.3 388.1,427.8 388.1,428.3 388.1,428.8 388.1,429.3 388.1,429.8 388.1,430.3 388.3,430.8 388.8,431.3 389.2,431.8 389.8,432.3 390.3,432.8 390.8,433.3 391.3,433.8 391.8,434.3 392.2,434.8 392.5,435.3 392.7,435.8 392.9,436.3 393.0,436.8 393.0,437.3 393.1,437.8 393.1,438.3 393.1,438.8 393.1,439.3 392.9,439.8 392.7,440.3 392.3,440.8 391.8,441.3 391.2,441.8 390.7,442.3 390.2,442.8 389.8,443.3 389.5,443.8 389.2,444.3 388.9,444.8 388.7,445.3 388.6,445.8 388.5,446.3 388.3,446.8 388.3,447.3 388.2,447.8 388.2,448.2 388.3,448.7 388.4,449.2 388.5,449.7 388.7,450.2 388.9,450.7 389.2,451.2 389.5,451.7 389.8,452.2 390.1,452.7 390.4,453.2 390.6,453.7 390.7,454.2 390.8,454.7 390.8,455.2 390.8,455.7 390.7,456.2 390.7,456.7 390.6,457.2 390.4,457.7 390.1,458.2 389.8,458.7 389.5,459.2 389.2,459.7 388.8,460.2 388.5,460.7 388.2,461.2 388.1,461.7 388.1,462.2 388.1,462.7 388.1,463.2 388.1,463.7 388.1,464.2 388.1,464.7 388.1,465.2 388.1,465.7 388.1,466.2 388.1,466.7 388.1,467.2 388.1,467.7 388.1,468.2 388.1,468.7 388.1,469.2 388.1,469.7 388.1,470.2 388.1,470.7 388.1,471.2 388.1,471.7 388.1,472.2 388.1,472.7 388.1,472.7 388.1,472.2 388.1,471.7 388.1,471.2 388.1,470.7 388.1,470.2 388.1,469.7 388.1,469.2 388.1,468.7 388.1,468.2 388.1,467.7 388.1,467.2 388.1,466.7 388.1,466.2 388.1,465.7 388.1,465.2 388.1,464.7 388.1,464.2 388.1,463.7 388.1,463.2 388.1,462.7 388.1,462.2 388.1,461.7 388.1,461.2 387.8,460.7 387.5,460.2 387.1,459.7 386.8,459.2 386.5,458.7 386.2,458.2 385.9,457.7 385.7,457.2 385.6,456.7 385.6,456.2 385.5,455.7 385.5,455.2 385.5,454.7 385.6,454.2 385.7,453.7 385.9,453.2 386.2,452.7 386.5,452.2 386.8,451.7 387.1,451.2 387.4,450.7 387.6,450.2 387.8,449.7 387.9,449.2 388.0,448.7 388.1,448.2 388.1,447.8 388.0,447.3 388.0,446.8 387.8,446.3 387.7,445.8 387.6,445.3 387.4,444.8 387.1,444.3 386.8,443.8 386.5,443.3 386.1,442.8 385.6,442.3 385.1,441.8 384.5,441.3 384.0,440.8 383.6,440.3 383.4,439.8 383.2,439.3 383.2,438.8 383.2,438.3 383.2,437.8 383.3,437.3 383.3,436.8 383.4,436.3 383.6,435.8 383.8,435.3 384.1,434.8 384.5,434.3 385.0,433.8 385.5,433.3 386.0,432.8 386.5,432.3 387.1,431.8 387.5,431.3 388.0,430.8 388.1,430.3 388.1,429.8 388.1,429.3 388.1,428.8 388.1,428.3 388.1,427.8 388.1,427.3 388.1,426.8 388.1,426.3 388.1,425.8 388.1,425.3 388.1,424.8 388.1,424.3 388.1,423.8 388.1,423.3 388.1,422.8Z" fill="#8cc8af"/><line x1="385.15" x2="391.15" y1="438.7" y2="438.7" stroke="#054b32" stroke-width="1" stroke-dasharray="3,2"/><circle cx="382.05" cy="438.20" r="3.2" fill="#288264"/><circle cx="394.25" cy="438.70" r="3.2" fill="#288264"/><circle cx="388.15" cy="456.00" r="3.2" fill="#288264"/><text transform="translate(388.15,422.7) scale(1.1,1)" font-size="14.5" text-anchor="middle" fill="#1a1a1a">a</text><path d="M416.4,348.9 417.5,349.4 417.6,349.9 417.7,350.4 417.7,350.9 417.7,351.4 417.7,351.9 417.7,352.4 417.7,352.9 417.7,353.4 417.7,353.9 417.7,354.4 417.7,354.9 417.8,355.4 417.8,355.9 417.9,356.4 417.9,356.9 418.1,357.4 418.2,357.9 418.3,358.4 418.5,358.9 418.7,359.4 418.8,359.9 419.0,360.4 419.2,360.9 419.4,361.4 419.5,361.9 419.8,362.4 420.0,362.9 420.2,363.4 420.4,363.9 420.7,364.4 420.9,364.9 421.2,365.4 421.4,365.9 421.7,366.4 422.0,366.8 422.3,367.3 422.6,367.8 422.9,368.3 423.2,368.8 423.4,369.3 423.7,369.8 423.9,370.3 424.1,370.8 424.3,371.3 424.4,371.8 424.5,372.3 424.7,372.8 424.8,373.3 424.9,373.8 424.9,374.3 425.0,374.8 425.1,375.3 425.1,375.8 425.1,376.3 425.1,376.8 425.1,377.3 425.1,377.8 425.0,378.3 425.0,378.8 424.9,379.3 424.9,379.8 424.8,380.3 424.8,380.8 424.8,381.3 424.8,381.8 424.8,382.3 424.8,382.8 424.8,383.3 424.9,383.8 424.9,384.3 425.0,384.8 425.0,385.3 425.0,385.8 425.1,386.3 425.1,386.8 425.2,387.3 425.2,387.8 425.3,388.3 425.3,388.8 425.4,389.3 425.4,389.8 425.5,390.3 425.5,390.8 425.5,391.3 425.5,391.8 425.5,392.3 425.5,392.8 425.4,393.3 425.3,393.8 425.2,394.3 425.1,394.8 425.0,395.3 424.9,395.8 424.9,396.3 424.8,396.8 424.8,397.3 424.8,397.8 424.8,398.3 424.8,398.8 424.9,399.3 424.9,399.8 425.0,400.3 425.0,400.8 425.1,401.3 425.1,401.8 425.1,402.3 425.1,402.7 425.1,403.2 425.1,403.7 425.1,404.2 425.1,404.7 425.1,405.2 425.1,405.7 425.1,406.2 425.1,406.7 425.1,407.2 425.1,407.7 425.1,408.2 425.1,408.7 425.0,409.2 425.0,409.7 424.9,410.2 424.8,410.7 424.7,411.2 424.6,411.7 424.4,412.2 424.3,412.7 424.2,413.2 424.0,413.7 423.8,414.2 423.7,414.7 423.5,415.2 423.2,415.7 423.0,416.2 422.8,416.7 422.5,417.2 422.3,417.7 422.1,418.2 421.9,418.7 421.7,419.2 421.4,419.7 421.2,420.2 421.0,420.7 420.8,421.2 420.5,421.7 420.3,422.2 420.1,422.7 419.9,423.2 419.7,423.7 419.4,424.2 419.2,424.7 419.0,425.2 418.7,425.7 418.5,426.2 418.3,426.7 418.1,427.2 417.9,427.7 417.8,428.2 417.8,428.7 417.8,429.2 417.7,429.7 417.7,430.2 417.7,430.7 417.7,431.2 417.7,431.7 417.7,432.2 417.7,432.7 417.7,433.2 417.7,433.7 417.7,434.2 417.7,434.7 417.7,435.2 417.7,435.7 417.7,436.2 417.7,436.7 417.6,437.2 417.2,437.7 416.4,437.9 416.4,437.9 415.5,437.7 415.1,437.2 415.0,436.7 415.0,436.2 415.0,435.7 415.0,435.2 415.0,434.7 415.0,434.2 415.0,433.7 415.0,433.2 415.0,432.7 415.0,432.2 415.0,431.7 415.0,431.2 415.0,430.7 415.0,430.2 415.0,429.7 414.9,429.2 414.9,428.7 414.9,428.2 414.8,427.7 414.6,427.2 414.4,426.7 414.2,426.2 414.0,425.7 413.7,425.2 413.5,424.7 413.3,424.2 413.0,423.7 412.8,423.2 412.6,422.7 412.4,422.2 412.2,421.7 411.9,421.2 411.7,420.7 411.5,420.2 411.3,419.7 411.0,419.2 410.8,418.7 410.6,418.2 410.4,417.7 410.2,417.2 409.9,416.7 409.7,416.2 409.5,415.7 409.2,415.2 409.0,414.7 408.9,414.2 408.7,413.7 408.5,413.2 408.4,412.7 408.3,412.2 408.1,411.7 408.0,411.2 407.9,410.7 407.8,410.2 407.7,409.7 407.7,409.2 407.6,408.7 407.6,408.2 407.6,407.7 407.6,407.2 407.6,406.7 407.6,406.2 407.6,405.7 407.6,405.2 407.6,404.7 407.6,404.2 407.6,403.7 407.6,403.2 407.6,402.7 407.6,402.3 407.6,401.8 407.6,401.3 407.7,400.8 407.7,400.3 407.8,399.8 407.8,399.3 407.9,398.8 407.9,398.3 407.9,397.8 407.9,397.3 407.9,396.8 407.8,396.3 407.8,395.8 407.7,395.3 407.6,394.8 407.5,394.3 407.4,393.8 407.3,393.3 407.2,392.8 407.2,392.3 407.2,391.8 407.2,391.3 407.2,390.8 407.2,390.3 407.3,389.8 407.3,389.3 407.4,388.8 407.4,388.3 407.5,387.8 407.5,387.3 407.6,386.8 407.6,386.3 407.7,385.8 407.7,385.3 407.7,384.8 407.8,384.3 407.8,383.8 407.9,383.3 407.9,382.8 407.9,382.3 407.9,381.8 407.9,381.3 407.9,380.8 407.9,380.3 407.8,379.8 407.8,379.3 407.7,378.8 407.7,378.3 407.6,377.8 407.6,377.3 407.6,376.8 407.6,376.3 407.6,375.8 407.6,375.3 407.7,374.8 407.8,374.3 407.8,373.8 407.9,373.3 408.0,372.8 408.2,372.3 408.3,371.8 408.4,371.3 408.6,370.8 408.8,370.3 409.0,369.8 409.3,369.3 409.5,368.8 409.8,368.3 410.1,367.8 410.4,367.3 410.7,366.8 411.0,366.4 411.3,365.9 411.5,365.4 411.8,364.9 412.0,364.4 412.3,363.9 412.5,363.4 412.7,362.9 412.9,362.4 413.2,361.9 413.3,361.4 413.5,360.9 413.7,360.4 413.9,359.9 414.0,359.4 414.2,358.9 414.4,358.4 414.5,357.9 414.6,357.4 414.8,356.9 414.8,356.4 414.9,355.9 414.9,355.4 415.0,354.9 415.0,354.4 415.0,353.9 415.0,353.4 415.0,352.9 415.0,352.4 415.0,351.9 415.0,351.4 415.0,350.9 415.0,350.4 415.1,349.9 415.2,349.4 416.4,348.9Z" fill="#19325f"/><path d="M416.4,348.9 416.4,349.4 416.4,349.9 416.4,350.4 416.4,350.9 416.4,351.4 416.4,351.9 416.4,352.4 416.4,352.9 416.4,353.4 416.4,353.9 416.4,354.4 416.4,354.9 416.4,355.4 416.4,355.9 416.4,356.4 416.4,356.9 416.4,357.4 416.4,357.9 416.4,358.4 416.4,358.9 416.4,359.4 416.4,359.9 416.4,360.4 416.4,360.9 416.4,361.4 416.4,361.9 416.6,362.4 416.8,362.9 417.0,363.4 417.2,363.9 417.5,364.4 417.7,364.9 417.9,365.4 418.2,365.9 418.4,366.4 418.7,366.8 419.0,367.3 419.2,367.8 419.5,368.3 419.8,368.8 420.1,369.3 420.4,369.8 420.7,370.3 420.9,370.8 421.2,371.3 421.4,371.8 421.5,372.3 421.7,372.8 421.8,373.3 421.9,373.8 422.0,374.3 422.1,374.8 422.2,375.3 422.2,375.8 422.2,376.3 422.2,376.8 422.2,377.3 422.2,377.8 422.1,378.3 422.1,378.8 422.0,379.3 422.0,379.8 421.9,380.3 421.9,380.8 421.9,381.3 421.9,381.8 421.9,382.3 421.9,382.8 421.9,383.3 422.0,383.8 422.0,384.3 422.0,384.8 422.1,385.3 422.1,385.8 422.2,386.3 422.2,386.8 422.3,387.3 422.3,387.8 422.4,388.3 422.4,388.8 422.5,389.3 422.5,389.8 422.6,390.3 422.6,390.8 422.6,391.3 422.6,391.8 422.6,392.3 422.6,392.8 422.5,393.3 422.4,393.8 422.3,394.3 422.2,394.8 422.1,395.3 422.0,395.8 421.9,396.3 421.9,396.8 421.9,397.3 421.9,397.8 421.9,398.3 421.9,398.8 422.0,399.3 422.0,399.8 422.1,400.3 422.1,400.8 422.2,401.3 422.2,401.8 422.2,402.3 422.2,402.7 422.2,403.2 422.2,403.7 422.2,404.2 422.2,404.7 422.2,405.2 422.2,405.7 422.2,406.2 422.2,406.7 422.2,407.2 422.2,407.7 422.2,408.2 422.2,408.7 422.1,409.2 422.0,409.7 421.9,410.2 421.8,410.7 421.7,411.2 421.6,411.7 421.4,412.2 421.3,412.7 421.1,413.2 420.9,413.7 420.7,414.2 420.5,414.7 420.3,415.2 420.0,415.7 419.8,416.2 419.6,416.7 419.4,417.2 419.1,417.7 418.9,418.2 418.7,418.7 418.5,419.2 418.2,419.7 418.0,420.2 417.8,420.7 417.6,421.2 417.4,421.7 417.1,422.2 416.9,422.7 416.7,423.2 416.5,423.7 416.4,424.2 416.4,424.7 416.4,425.2 416.4,425.7 416.4,426.2 416.4,426.7 416.4,427.2 416.4,427.7 416.4,428.2 416.4,428.7 416.4,429.2 416.4,429.7 416.4,430.2 416.4,430.7 416.4,431.2 416.4,431.7 416.4,432.2 416.4,432.7 416.4,433.2 416.4,433.7 416.4,434.2 416.4,434.7 416.4,435.2 416.4,435.7 416.4,436.2 416.4,436.7 416.4,437.2 416.4,437.7 416.4,437.9 416.4,437.9 416.4,437.7 416.4,437.2 416.4,436.7 416.4,436.2 416.4,435.7 416.4,435.2 416.4,434.7 416.4,434.2 416.4,433.7 416.4,433.2 416.4,432.7 416.4,432.2 416.4,431.7 416.4,431.2 416.4,430.7 416.4,430.2 416.4,429.7 416.4,429.2 416.4,428.7 416.4,428.2 416.4,427.7 416.4,427.2 416.4,426.7 416.4,426.2 416.4,425.7 416.4,425.2 416.4,424.7 416.4,424.2 416.2,423.7 416.0,423.2 415.8,422.7 415.6,422.2 415.3,421.7 415.1,421.2 414.9,420.7 414.7,420.2 414.5,419.7 414.2,419.2 414.0,418.7 413.8,418.2 413.6,417.7 413.3,417.2 413.1,416.7 412.9,416.2 412.7,415.7 412.4,415.2 412.2,414.7 412.0,414.2 411.8,413.7 411.6,413.2 411.4,412.7 411.3,412.2 411.1,411.7 411.0,411.2 410.9,410.7 410.8,410.2 410.7,409.7 410.6,409.2 410.5,408.7 410.5,408.2 410.5,407.7 410.5,407.2 410.5,406.7 410.5,406.2 410.5,405.7 410.5,405.2 410.5,404.7 410.5,404.2 410.5,403.7 410.5,403.2 410.5,402.7 410.5,402.3 410.5,401.8 410.5,401.3 410.6,400.8 410.6,400.3 410.7,399.8 410.7,399.3 410.8,398.8 410.8,398.3 410.8,397.8 410.8,397.3 410.8,396.8 410.8,396.3 410.7,395.8 410.6,395.3 410.5,394.8 410.4,394.3 410.3,393.8 410.2,393.3 410.1,392.8 410.1,392.3 410.1,391.8 410.1,391.3 410.1,390.8 410.1,390.3 410.2,389.8 410.2,389.3 410.3,388.8 410.3,388.3 410.4,387.8 410.4,387.3 410.5,386.8 410.5,386.3 410.6,385.8 410.6,385.3 410.7,384.8 410.7,384.3 410.7,383.8 410.8,383.3 410.8,382.8 410.8,382.3 410.8,381.8 410.8,381.3 410.8,380.8 410.8,380.3 410.7,379.8 410.7,379.3 410.6,378.8 410.6,378.3 410.5,377.8 410.5,377.3 410.5,376.8 410.5,376.3 410.5,375.8 410.5,375.3 410.6,374.8 410.7,374.3 410.8,373.8 410.9,373.3 411.0,372.8 411.2,372.3 411.3,371.8 411.5,371.3 411.8,370.8 412.0,370.3 412.3,369.8 412.6,369.3 412.9,368.8 413.2,368.3 413.5,367.8 413.7,367.3 414.0,366.8 414.3,366.4 414.5,365.9 414.8,365.4 415.0,364.9 415.2,364.4 415.5,363.9 415.7,363.4 415.9,362.9 416.1,362.4 416.3,361.9 416.4,361.4 416.4,360.9 416.4,360.4 416.4,359.9 416.4,359.4 416.4,358.9 416.4,358.4 416.4,357.9 416.4,357.4 416.4,356.9 416.4,356.4 416.4,355.9 416.4,355.4 416.4,354.9 416.4,354.4 416.4,353.9 416.4,353.4 416.4,352.9 416.4,352.4 416.4,351.9 416.4,351.4 416.4,350.9 416.4,350.4 416.4,349.9 416.4,349.4 416.4,348.9Z" fill="#aabee1"/><line x1="407.35" x2="425.35" y1="393" y2="393" stroke="#19325f" stroke-width="1.1" stroke-opacity="0.75"/><circle cx="416.35" cy="376.00" r="3.0" fill="#416eaf"/><circle cx="416.35" cy="393.00" r="3.0" fill="#416eaf"/><circle cx="416.35" cy="410.90" r="3.0" fill="#416eaf"/><text transform="translate(416.35,348.4) scale(1.1,1)" font-size="14.5" text-anchor="middle" fill="#1a1a1a">bc</text><path d="M284.9,298.6 V473.8 H436" fill="none" stroke="#2e2e2e" stroke-width="1.2"/><line x1="277.7" x2="284.9" y1="473.80" y2="473.80" stroke="#2e2e2e" stroke-width="1.1"/><text transform="translate(275.00,476.55) scale(1.12,1)" font-size="8.9" text-anchor="end" fill="#1a1a1a" stroke="#1a1a1a" stroke-width="0.15">0</text><line x1="277.7" x2="284.9" y1="438.76" y2="438.76" stroke="#2e2e2e" stroke-width="1.1"/><text transform="translate(275.00,441.51) scale(1.12,1)" font-size="8.9" text-anchor="end" fill="#1a1a1a" stroke="#1a1a1a" stroke-width="0.15">1</text><line x1="277.7" x2="284.9" y1="403.72" y2="403.72" stroke="#2e2e2e" stroke-width="1.1"/><text transform="translate(275.00,406.47) scale(1.12,1)" font-size="8.9" text-anchor="end" fill="#1a1a1a" stroke="#1a1a1a" stroke-width="0.15">2</text><line x1="277.7" x2="284.9" y1="368.68" y2="368.68" stroke="#2e2e2e" stroke-width="1.1"/><text transform="translate(275.00,371.43) scale(1.12,1)" font-size="8.9" text-anchor="end" fill="#1a1a1a" stroke="#1a1a1a" stroke-width="0.15">3</text><line x1="277.7" x2="284.9" y1="333.64" y2="333.64" stroke="#2e2e2e" stroke-width="1.1"/><text transform="translate(275.00,336.39) scale(1.12,1)" font-size="8.9" text-anchor="end" fill="#1a1a1a" stroke="#1a1a1a" stroke-width="0.15">4</text><line x1="277.7" x2="284.9" y1="298.60" y2="298.60" stroke="#2e2e2e" stroke-width="1.1"/><text transform="translate(275.00,301.35) scale(1.12,1)" font-size="8.9" text-anchor="end" fill="#1a1a1a" stroke="#1a1a1a" stroke-width="0.15">5</text><line x1="303.4" x2="303.4" y1="473.8" y2="481.0" stroke="#2e2e2e" stroke-width="1.1"/><text transform="translate(306.60,492.80) scale(1.1,1) rotate(-45)" font-size="11.0" text-anchor="end" fill="#1a1a1a">Control</text><line x1="331.4" x2="331.4" y1="473.8" y2="481.0" stroke="#2e2e2e" stroke-width="1.1"/><text transform="translate(334.60,492.80) scale(1.1,1) rotate(-45)" font-size="11.0" text-anchor="end" fill="#1a1a1a">HKL</text><line x1="359.7" x2="359.7" y1="473.8" y2="481.0" stroke="#2e2e2e" stroke-width="1.1"/><text transform="translate(362.90,492.80) scale(1.1,1) rotate(-45)" font-size="11.0" text-anchor="end" fill="#1a1a1a">ACE 0.5 μM</text><line x1="388.0" x2="388.0" y1="473.8" y2="481.0" stroke="#2e2e2e" stroke-width="1.1"/><text transform="translate(391.20,492.80) scale(1.1,1) rotate(-45)" font-size="11.0" text-anchor="end" fill="#1a1a1a">ACE 1 μM</text><line x1="416.6" x2="416.6" y1="473.8" y2="481.0" stroke="#2e2e2e" stroke-width="1.1"/><text transform="translate(419.80,492.80) scale(1.1,1) rotate(-45)" font-size="11.0" text-anchor="end" fill="#1a1a1a">ACE 1 μM+ HKL</text><text transform="translate(256.7,388) scale(1.1,1) rotate(-90)" font-size="11.0" text-anchor="middle" fill="#1a1a1a">CAT activity (U/ mg protein)</text></g>
</svg></body></html>
